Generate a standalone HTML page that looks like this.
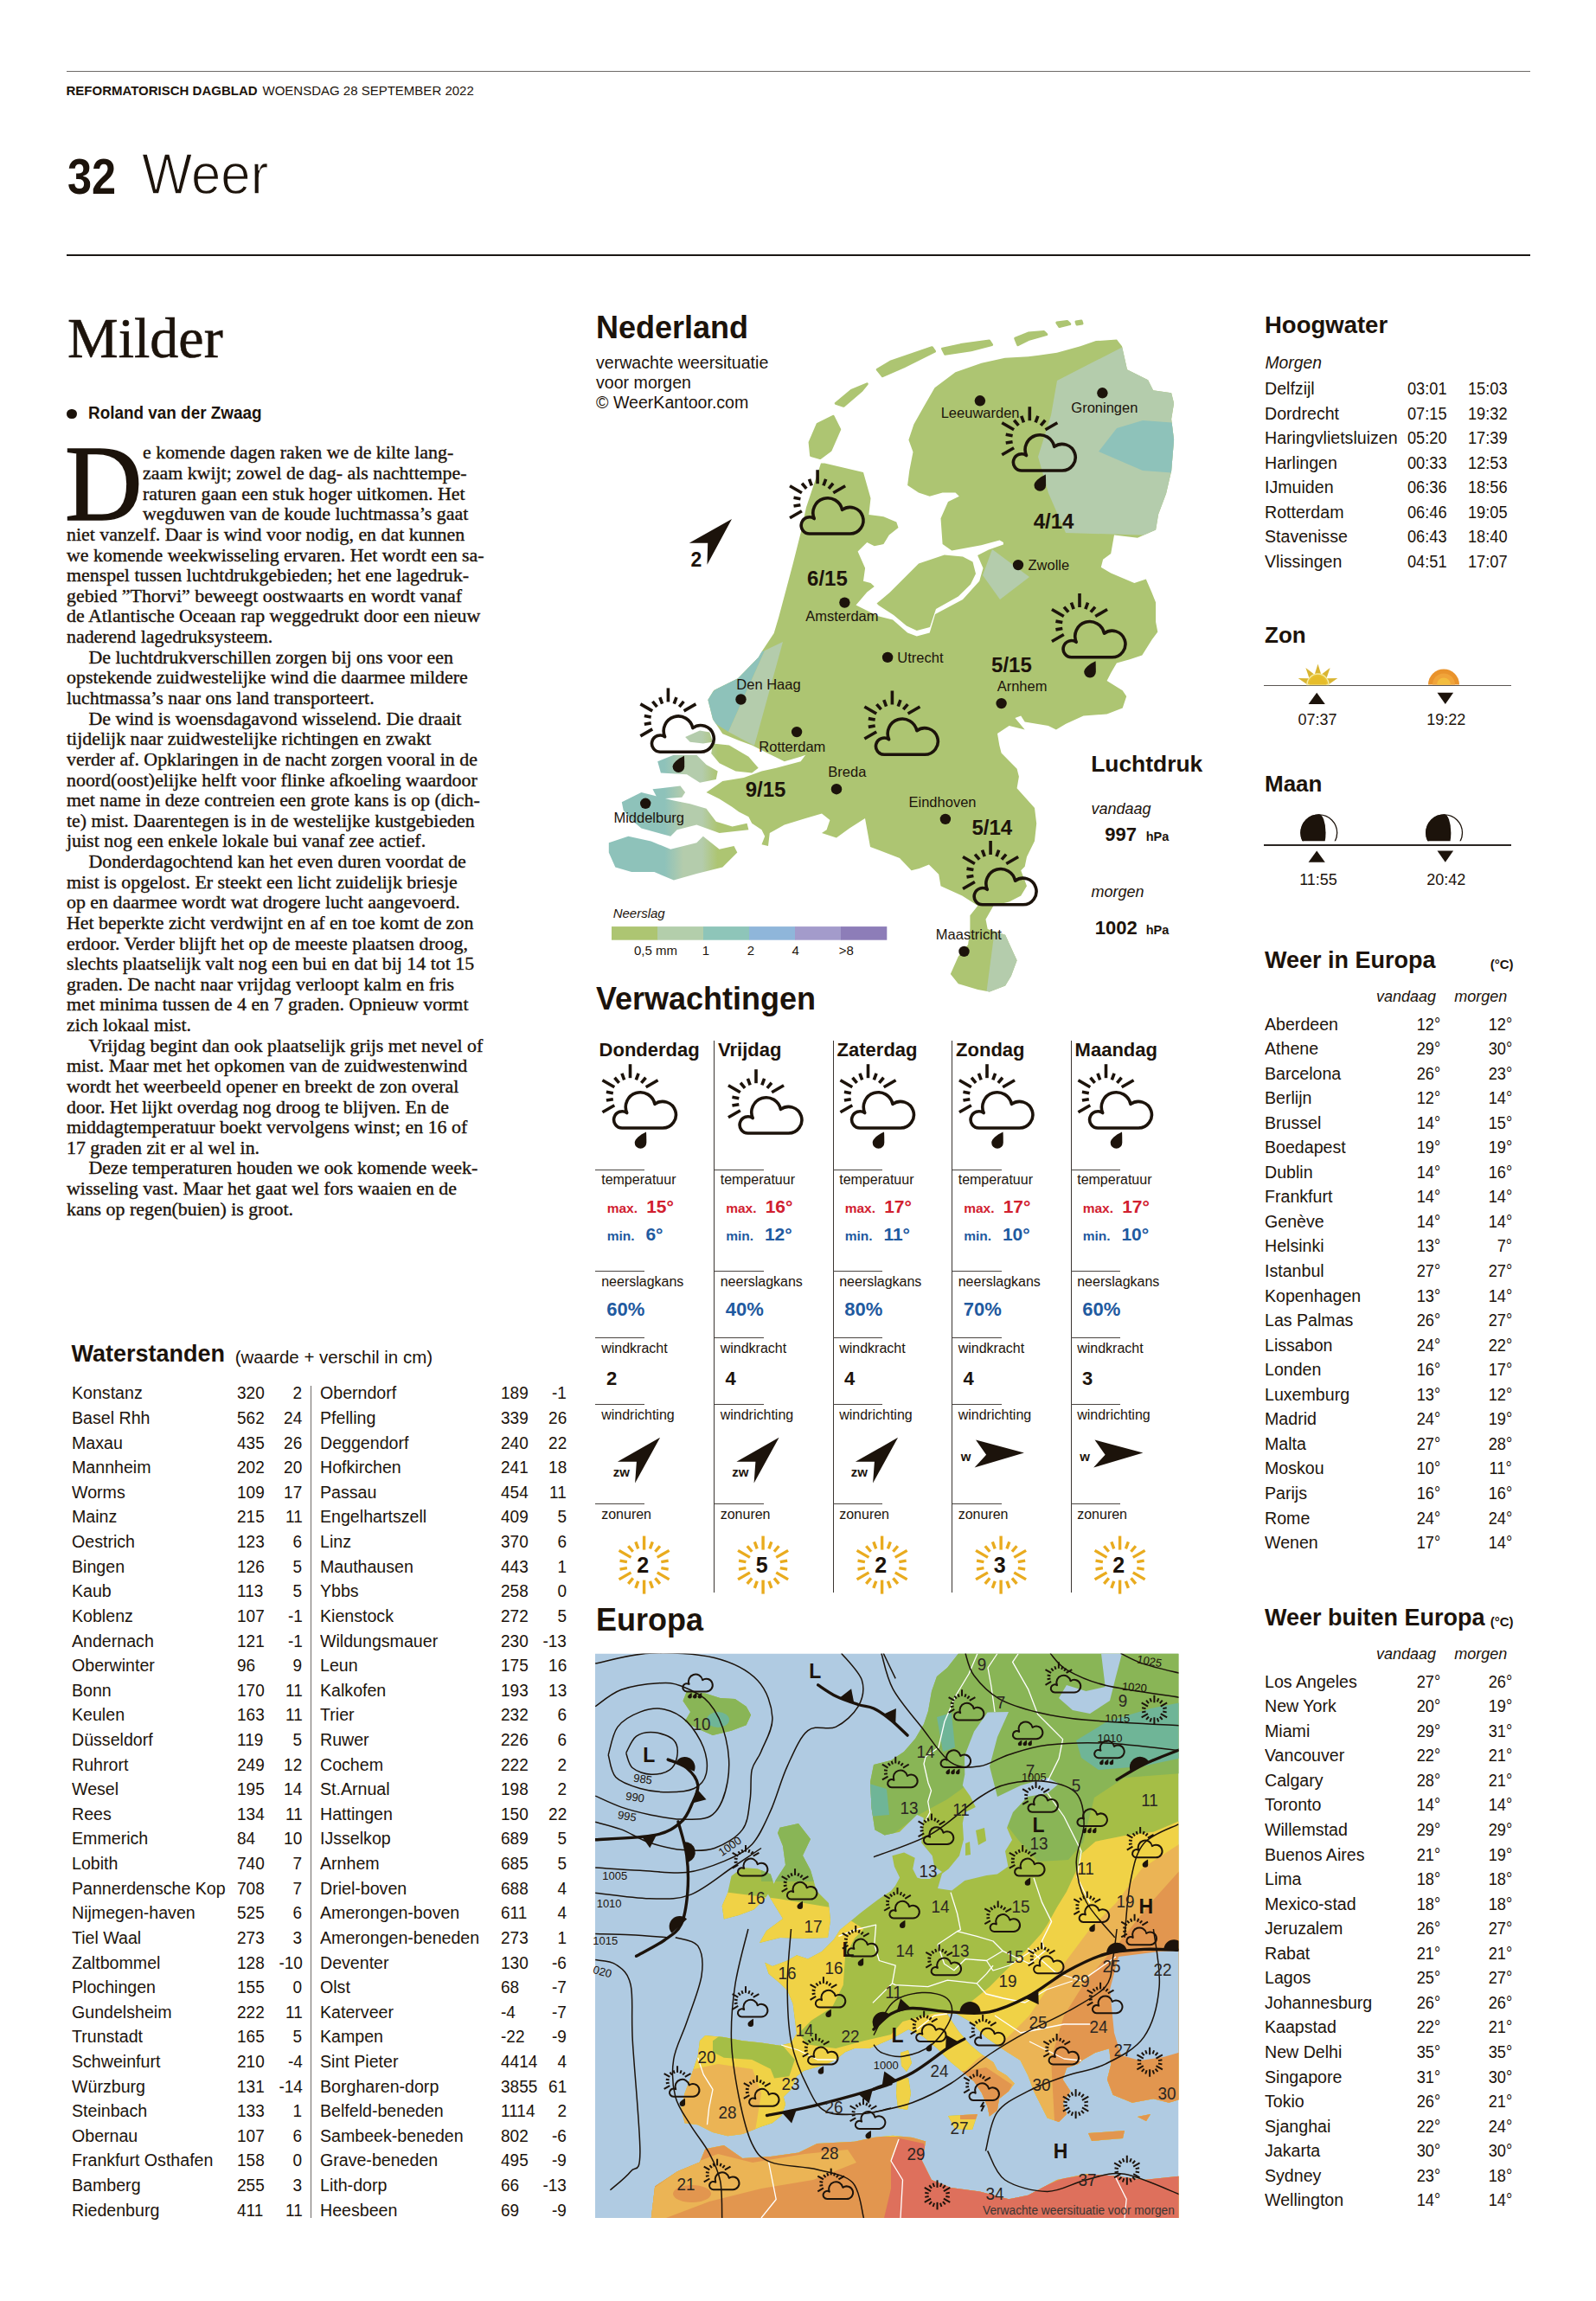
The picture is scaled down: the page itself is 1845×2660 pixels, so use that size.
<!DOCTYPE html>
<html><head><meta charset="utf-8"><title>Weer</title><style>
html,body{margin:0;padding:0;background:#fff;}
body{width:1845px;height:2660px;position:relative;overflow:hidden;font-family:"Liberation Sans", sans-serif;color:#1c130b;}
.t{position:absolute;white-space:nowrap;}
.r{position:absolute;}
svg{position:absolute;overflow:visible;}
</style></head><body>
<div class="r" style="left:76.50px;top:81.70px;width:1692.00px;height:1.30px;background:#6e6a67;"></div>
<div class="t" style="top:96.75px;font-size:15px;line-height:15px;font-weight:700;left:76.50px;">REFORMATORISCH DAGBLAD</div>
<div class="t" style="top:96.75px;font-size:15px;line-height:15px;left:303.50px;">WOENSDAG 28 SEPTEMBER 2022</div>
<div class="t" style="top:174.70px;font-size:58px;line-height:58px;font-weight:700;left:78.00px;transform:scaleX(0.87);transform-origin:left top;">32</div>
<div class="t" style="top:167.05px;font-size:67px;line-height:67px;left:164.00px;transform:scaleX(0.92);transform-origin:left top;-webkit-text-stroke:1.3px #fff;">Weer</div>
<div class="r" style="left:76.50px;top:293.80px;width:1692.00px;height:2.20px;background:#1a1714;"></div>
<div class="t" style="top:357.52px;font-size:66px;line-height:66px;font-family:'Liberation Serif', serif;left:78.00px;-webkit-text-stroke:0.6px #1c130b;">Milder</div>
<div class="r" style="left:77px;top:472.7px;width:11.7px;height:11.7px;border-radius:50%;background:#1c130b"></div>
<div class="t" style="top:466.45px;font-size:21px;line-height:21px;font-weight:700;left:102.40px;transform:scaleX(0.9);transform-origin:left top;">Roland van der Zwaag</div>
<div class="t" style="top:498.08px;font-size:124px;line-height:124px;font-family:'Liberation Serif', serif;left:75.00px;-webkit-text-stroke:1.6px #1c130b;">D</div>
<div class="t" style="top:512.42px;font-size:21.9px;line-height:21.9px;font-family:'Liberation Serif', serif;left:165.00px;-webkit-text-stroke:0.35px #1c130b;">e komende dagen raken we de kilte lang-</div>
<div class="t" style="top:536.05px;font-size:21.9px;line-height:21.9px;font-family:'Liberation Serif', serif;left:165.00px;-webkit-text-stroke:0.35px #1c130b;">zaam kwijt; zowel de dag- als nachttempe-</div>
<div class="t" style="top:559.68px;font-size:21.9px;line-height:21.9px;font-family:'Liberation Serif', serif;left:165.00px;-webkit-text-stroke:0.35px #1c130b;">raturen gaan een stuk hoger uitkomen. Het</div>
<div class="t" style="top:583.31px;font-size:21.9px;line-height:21.9px;font-family:'Liberation Serif', serif;left:165.00px;-webkit-text-stroke:0.35px #1c130b;">wegduwen van de koude luchtmassa’s gaat</div>
<div class="t" style="top:606.94px;font-size:21.9px;line-height:21.9px;font-family:'Liberation Serif', serif;left:77.00px;-webkit-text-stroke:0.35px #1c130b;">niet vanzelf. Daar is wind voor nodig, en dat kunnen</div>
<div class="t" style="top:630.57px;font-size:21.9px;line-height:21.9px;font-family:'Liberation Serif', serif;left:77.00px;-webkit-text-stroke:0.35px #1c130b;">we komende weekwisseling ervaren. Het wordt een sa-</div>
<div class="t" style="top:654.20px;font-size:21.9px;line-height:21.9px;font-family:'Liberation Serif', serif;left:77.00px;-webkit-text-stroke:0.35px #1c130b;">menspel tussen luchtdrukgebieden; het ene lagedruk-</div>
<div class="t" style="top:677.83px;font-size:21.9px;line-height:21.9px;font-family:'Liberation Serif', serif;left:77.00px;-webkit-text-stroke:0.35px #1c130b;">gebied ”Thorvi” beweegt oostwaarts en wordt vanaf</div>
<div class="t" style="top:701.46px;font-size:21.9px;line-height:21.9px;font-family:'Liberation Serif', serif;left:77.00px;-webkit-text-stroke:0.35px #1c130b;">de Atlantische Oceaan rap weggedrukt door een nieuw</div>
<div class="t" style="top:725.09px;font-size:21.9px;line-height:21.9px;font-family:'Liberation Serif', serif;left:77.00px;-webkit-text-stroke:0.35px #1c130b;">naderend lagedruksysteem.</div>
<div class="t" style="top:748.72px;font-size:21.9px;line-height:21.9px;font-family:'Liberation Serif', serif;left:102.40px;-webkit-text-stroke:0.35px #1c130b;">De luchtdrukverschillen zorgen bij ons voor een</div>
<div class="t" style="top:772.35px;font-size:21.9px;line-height:21.9px;font-family:'Liberation Serif', serif;left:77.00px;-webkit-text-stroke:0.35px #1c130b;">opstekende zuidwestelijke wind die daarmee mildere</div>
<div class="t" style="top:795.98px;font-size:21.9px;line-height:21.9px;font-family:'Liberation Serif', serif;left:77.00px;-webkit-text-stroke:0.35px #1c130b;">luchtmassa’s naar ons land transporteert.</div>
<div class="t" style="top:819.61px;font-size:21.9px;line-height:21.9px;font-family:'Liberation Serif', serif;left:102.40px;-webkit-text-stroke:0.35px #1c130b;">De wind is woensdagavond wisselend. Die draait</div>
<div class="t" style="top:843.24px;font-size:21.9px;line-height:21.9px;font-family:'Liberation Serif', serif;left:77.00px;-webkit-text-stroke:0.35px #1c130b;">tijdelijk naar zuidwestelijke richtingen en zwakt</div>
<div class="t" style="top:866.87px;font-size:21.9px;line-height:21.9px;font-family:'Liberation Serif', serif;left:77.00px;-webkit-text-stroke:0.35px #1c130b;">verder af. Opklaringen in de nacht zorgen vooral in de</div>
<div class="t" style="top:890.50px;font-size:21.9px;line-height:21.9px;font-family:'Liberation Serif', serif;left:77.00px;-webkit-text-stroke:0.35px #1c130b;">noord(oost)elijke helft voor flinke afkoeling waardoor</div>
<div class="t" style="top:914.13px;font-size:21.9px;line-height:21.9px;font-family:'Liberation Serif', serif;left:77.00px;-webkit-text-stroke:0.35px #1c130b;">met name in deze contreien een grote kans is op (dich-</div>
<div class="t" style="top:937.76px;font-size:21.9px;line-height:21.9px;font-family:'Liberation Serif', serif;left:77.00px;-webkit-text-stroke:0.35px #1c130b;">te) mist. Daarentegen is in de westelijke kustgebieden</div>
<div class="t" style="top:961.39px;font-size:21.9px;line-height:21.9px;font-family:'Liberation Serif', serif;left:77.00px;-webkit-text-stroke:0.35px #1c130b;">juist nog een enkele lokale bui vanaf zee actief.</div>
<div class="t" style="top:985.02px;font-size:21.9px;line-height:21.9px;font-family:'Liberation Serif', serif;left:102.40px;-webkit-text-stroke:0.35px #1c130b;">Donderdagochtend kan het even duren voordat de</div>
<div class="t" style="top:1008.65px;font-size:21.9px;line-height:21.9px;font-family:'Liberation Serif', serif;left:77.00px;-webkit-text-stroke:0.35px #1c130b;">mist is opgelost. Er steekt een licht zuidelijk briesje</div>
<div class="t" style="top:1032.28px;font-size:21.9px;line-height:21.9px;font-family:'Liberation Serif', serif;left:77.00px;-webkit-text-stroke:0.35px #1c130b;">op en daarmee wordt wat drogere lucht aangevoerd.</div>
<div class="t" style="top:1055.91px;font-size:21.9px;line-height:21.9px;font-family:'Liberation Serif', serif;left:77.00px;-webkit-text-stroke:0.35px #1c130b;">Het beperkte zicht verdwijnt en af en toe komt de zon</div>
<div class="t" style="top:1079.54px;font-size:21.9px;line-height:21.9px;font-family:'Liberation Serif', serif;left:77.00px;-webkit-text-stroke:0.35px #1c130b;">erdoor. Verder blijft het op de meeste plaatsen droog,</div>
<div class="t" style="top:1103.17px;font-size:21.9px;line-height:21.9px;font-family:'Liberation Serif', serif;left:77.00px;-webkit-text-stroke:0.35px #1c130b;">slechts plaatselijk valt nog een bui en dat bij 14 tot 15</div>
<div class="t" style="top:1126.80px;font-size:21.9px;line-height:21.9px;font-family:'Liberation Serif', serif;left:77.00px;-webkit-text-stroke:0.35px #1c130b;">graden. De nacht naar vrijdag verloopt kalm en fris</div>
<div class="t" style="top:1150.43px;font-size:21.9px;line-height:21.9px;font-family:'Liberation Serif', serif;left:77.00px;-webkit-text-stroke:0.35px #1c130b;">met minima tussen de 4 en 7 graden. Opnieuw vormt</div>
<div class="t" style="top:1174.06px;font-size:21.9px;line-height:21.9px;font-family:'Liberation Serif', serif;left:77.00px;-webkit-text-stroke:0.35px #1c130b;">zich lokaal mist.</div>
<div class="t" style="top:1197.69px;font-size:21.9px;line-height:21.9px;font-family:'Liberation Serif', serif;left:102.40px;-webkit-text-stroke:0.35px #1c130b;">Vrijdag begint dan ook plaatselijk grijs met nevel of</div>
<div class="t" style="top:1221.32px;font-size:21.9px;line-height:21.9px;font-family:'Liberation Serif', serif;left:77.00px;-webkit-text-stroke:0.35px #1c130b;">mist. Maar met het opkomen van de zuidwestenwind</div>
<div class="t" style="top:1244.95px;font-size:21.9px;line-height:21.9px;font-family:'Liberation Serif', serif;left:77.00px;-webkit-text-stroke:0.35px #1c130b;">wordt het weerbeeld opener en breekt de zon overal</div>
<div class="t" style="top:1268.58px;font-size:21.9px;line-height:21.9px;font-family:'Liberation Serif', serif;left:77.00px;-webkit-text-stroke:0.35px #1c130b;">door. Het lijkt overdag nog droog te blijven. En de</div>
<div class="t" style="top:1292.21px;font-size:21.9px;line-height:21.9px;font-family:'Liberation Serif', serif;left:77.00px;-webkit-text-stroke:0.35px #1c130b;">middagtemperatuur boekt vervolgens winst; en 16 of</div>
<div class="t" style="top:1315.84px;font-size:21.9px;line-height:21.9px;font-family:'Liberation Serif', serif;left:77.00px;-webkit-text-stroke:0.35px #1c130b;">17 graden zit er al wel in.</div>
<div class="t" style="top:1339.47px;font-size:21.9px;line-height:21.9px;font-family:'Liberation Serif', serif;left:102.40px;-webkit-text-stroke:0.35px #1c130b;">Deze temperaturen houden we ook komende week-</div>
<div class="t" style="top:1363.10px;font-size:21.9px;line-height:21.9px;font-family:'Liberation Serif', serif;left:77.00px;-webkit-text-stroke:0.35px #1c130b;">wisseling vast. Maar het gaat wel fors waaien en de</div>
<div class="t" style="top:1386.73px;font-size:21.9px;line-height:21.9px;font-family:'Liberation Serif', serif;left:77.00px;-webkit-text-stroke:0.35px #1c130b;">kans op regen(buien) is groot.</div>
<div class="t" style="top:1551.75px;font-size:27px;line-height:27px;font-weight:700;left:82.50px;">Waterstanden</div>
<div class="t" style="top:1558.58px;font-size:20.5px;line-height:20.5px;left:271.70px;">(waarde + verschil in cm)</div>
<div class="t" style="top:1600.40px;font-size:20px;line-height:20px;left:82.50px;transform:scaleX(0.98);transform-origin:left top;">Konstanz</div>
<div class="t" style="top:1600.40px;font-size:20px;line-height:20px;left:273.70px;transform:scaleX(0.95);transform-origin:left top;">320</div>
<div class="t" style="top:1600.40px;font-size:20px;line-height:20px;right:1495.60px;transform:scaleX(0.95);transform-origin:right top;">2</div>
<div class="t" style="top:1629.02px;font-size:20px;line-height:20px;left:82.50px;transform:scaleX(0.98);transform-origin:left top;">Basel Rhh</div>
<div class="t" style="top:1629.02px;font-size:20px;line-height:20px;left:273.70px;transform:scaleX(0.95);transform-origin:left top;">562</div>
<div class="t" style="top:1629.02px;font-size:20px;line-height:20px;right:1495.60px;transform:scaleX(0.95);transform-origin:right top;">24</div>
<div class="t" style="top:1657.63px;font-size:20px;line-height:20px;left:82.50px;transform:scaleX(0.98);transform-origin:left top;">Maxau</div>
<div class="t" style="top:1657.63px;font-size:20px;line-height:20px;left:273.70px;transform:scaleX(0.95);transform-origin:left top;">435</div>
<div class="t" style="top:1657.63px;font-size:20px;line-height:20px;right:1495.60px;transform:scaleX(0.95);transform-origin:right top;">26</div>
<div class="t" style="top:1686.25px;font-size:20px;line-height:20px;left:82.50px;transform:scaleX(0.98);transform-origin:left top;">Mannheim</div>
<div class="t" style="top:1686.25px;font-size:20px;line-height:20px;left:273.70px;transform:scaleX(0.95);transform-origin:left top;">202</div>
<div class="t" style="top:1686.25px;font-size:20px;line-height:20px;right:1495.60px;transform:scaleX(0.95);transform-origin:right top;">20</div>
<div class="t" style="top:1714.86px;font-size:20px;line-height:20px;left:82.50px;transform:scaleX(0.98);transform-origin:left top;">Worms</div>
<div class="t" style="top:1714.86px;font-size:20px;line-height:20px;left:273.70px;transform:scaleX(0.95);transform-origin:left top;">109</div>
<div class="t" style="top:1714.86px;font-size:20px;line-height:20px;right:1495.60px;transform:scaleX(0.95);transform-origin:right top;">17</div>
<div class="t" style="top:1743.48px;font-size:20px;line-height:20px;left:82.50px;transform:scaleX(0.98);transform-origin:left top;">Mainz</div>
<div class="t" style="top:1743.48px;font-size:20px;line-height:20px;left:273.70px;transform:scaleX(0.95);transform-origin:left top;">215</div>
<div class="t" style="top:1743.48px;font-size:20px;line-height:20px;right:1495.60px;transform:scaleX(0.95);transform-origin:right top;">11</div>
<div class="t" style="top:1772.09px;font-size:20px;line-height:20px;left:82.50px;transform:scaleX(0.98);transform-origin:left top;">Oestrich</div>
<div class="t" style="top:1772.09px;font-size:20px;line-height:20px;left:273.70px;transform:scaleX(0.95);transform-origin:left top;">123</div>
<div class="t" style="top:1772.09px;font-size:20px;line-height:20px;right:1495.60px;transform:scaleX(0.95);transform-origin:right top;">6</div>
<div class="t" style="top:1800.71px;font-size:20px;line-height:20px;left:82.50px;transform:scaleX(0.98);transform-origin:left top;">Bingen</div>
<div class="t" style="top:1800.71px;font-size:20px;line-height:20px;left:273.70px;transform:scaleX(0.95);transform-origin:left top;">126</div>
<div class="t" style="top:1800.71px;font-size:20px;line-height:20px;right:1495.60px;transform:scaleX(0.95);transform-origin:right top;">5</div>
<div class="t" style="top:1829.32px;font-size:20px;line-height:20px;left:82.50px;transform:scaleX(0.98);transform-origin:left top;">Kaub</div>
<div class="t" style="top:1829.32px;font-size:20px;line-height:20px;left:273.70px;transform:scaleX(0.95);transform-origin:left top;">113</div>
<div class="t" style="top:1829.32px;font-size:20px;line-height:20px;right:1495.60px;transform:scaleX(0.95);transform-origin:right top;">5</div>
<div class="t" style="top:1857.93px;font-size:20px;line-height:20px;left:82.50px;transform:scaleX(0.98);transform-origin:left top;">Koblenz</div>
<div class="t" style="top:1857.93px;font-size:20px;line-height:20px;left:273.70px;transform:scaleX(0.95);transform-origin:left top;">107</div>
<div class="t" style="top:1857.93px;font-size:20px;line-height:20px;right:1495.60px;transform:scaleX(0.95);transform-origin:right top;">-1</div>
<div class="t" style="top:1886.55px;font-size:20px;line-height:20px;left:82.50px;transform:scaleX(0.98);transform-origin:left top;">Andernach</div>
<div class="t" style="top:1886.55px;font-size:20px;line-height:20px;left:273.70px;transform:scaleX(0.95);transform-origin:left top;">121</div>
<div class="t" style="top:1886.55px;font-size:20px;line-height:20px;right:1495.60px;transform:scaleX(0.95);transform-origin:right top;">-1</div>
<div class="t" style="top:1915.16px;font-size:20px;line-height:20px;left:82.50px;transform:scaleX(0.98);transform-origin:left top;">Oberwinter</div>
<div class="t" style="top:1915.16px;font-size:20px;line-height:20px;left:273.70px;transform:scaleX(0.95);transform-origin:left top;">96</div>
<div class="t" style="top:1915.16px;font-size:20px;line-height:20px;right:1495.60px;transform:scaleX(0.95);transform-origin:right top;">9</div>
<div class="t" style="top:1943.78px;font-size:20px;line-height:20px;left:82.50px;transform:scaleX(0.98);transform-origin:left top;">Bonn</div>
<div class="t" style="top:1943.78px;font-size:20px;line-height:20px;left:273.70px;transform:scaleX(0.95);transform-origin:left top;">170</div>
<div class="t" style="top:1943.78px;font-size:20px;line-height:20px;right:1495.60px;transform:scaleX(0.95);transform-origin:right top;">11</div>
<div class="t" style="top:1972.39px;font-size:20px;line-height:20px;left:82.50px;transform:scaleX(0.98);transform-origin:left top;">Keulen</div>
<div class="t" style="top:1972.39px;font-size:20px;line-height:20px;left:273.70px;transform:scaleX(0.95);transform-origin:left top;">163</div>
<div class="t" style="top:1972.39px;font-size:20px;line-height:20px;right:1495.60px;transform:scaleX(0.95);transform-origin:right top;">11</div>
<div class="t" style="top:2001.01px;font-size:20px;line-height:20px;left:82.50px;transform:scaleX(0.98);transform-origin:left top;">Düsseldorf</div>
<div class="t" style="top:2001.01px;font-size:20px;line-height:20px;left:273.70px;transform:scaleX(0.95);transform-origin:left top;">119</div>
<div class="t" style="top:2001.01px;font-size:20px;line-height:20px;right:1495.60px;transform:scaleX(0.95);transform-origin:right top;">5</div>
<div class="t" style="top:2029.62px;font-size:20px;line-height:20px;left:82.50px;transform:scaleX(0.98);transform-origin:left top;">Ruhrort</div>
<div class="t" style="top:2029.62px;font-size:20px;line-height:20px;left:273.70px;transform:scaleX(0.95);transform-origin:left top;">249</div>
<div class="t" style="top:2029.62px;font-size:20px;line-height:20px;right:1495.60px;transform:scaleX(0.95);transform-origin:right top;">12</div>
<div class="t" style="top:2058.24px;font-size:20px;line-height:20px;left:82.50px;transform:scaleX(0.98);transform-origin:left top;">Wesel</div>
<div class="t" style="top:2058.24px;font-size:20px;line-height:20px;left:273.70px;transform:scaleX(0.95);transform-origin:left top;">195</div>
<div class="t" style="top:2058.24px;font-size:20px;line-height:20px;right:1495.60px;transform:scaleX(0.95);transform-origin:right top;">14</div>
<div class="t" style="top:2086.86px;font-size:20px;line-height:20px;left:82.50px;transform:scaleX(0.98);transform-origin:left top;">Rees</div>
<div class="t" style="top:2086.86px;font-size:20px;line-height:20px;left:273.70px;transform:scaleX(0.95);transform-origin:left top;">134</div>
<div class="t" style="top:2086.86px;font-size:20px;line-height:20px;right:1495.60px;transform:scaleX(0.95);transform-origin:right top;">11</div>
<div class="t" style="top:2115.47px;font-size:20px;line-height:20px;left:82.50px;transform:scaleX(0.98);transform-origin:left top;">Emmerich</div>
<div class="t" style="top:2115.47px;font-size:20px;line-height:20px;left:273.70px;transform:scaleX(0.95);transform-origin:left top;">84</div>
<div class="t" style="top:2115.47px;font-size:20px;line-height:20px;right:1495.60px;transform:scaleX(0.95);transform-origin:right top;">10</div>
<div class="t" style="top:2144.09px;font-size:20px;line-height:20px;left:82.50px;transform:scaleX(0.98);transform-origin:left top;">Lobith</div>
<div class="t" style="top:2144.09px;font-size:20px;line-height:20px;left:273.70px;transform:scaleX(0.95);transform-origin:left top;">740</div>
<div class="t" style="top:2144.09px;font-size:20px;line-height:20px;right:1495.60px;transform:scaleX(0.95);transform-origin:right top;">7</div>
<div class="t" style="top:2172.70px;font-size:20px;line-height:20px;left:82.50px;transform:scaleX(0.98);transform-origin:left top;">Pannerdensche Kop</div>
<div class="t" style="top:2172.70px;font-size:20px;line-height:20px;left:273.70px;transform:scaleX(0.95);transform-origin:left top;">708</div>
<div class="t" style="top:2172.70px;font-size:20px;line-height:20px;right:1495.60px;transform:scaleX(0.95);transform-origin:right top;">7</div>
<div class="t" style="top:2201.32px;font-size:20px;line-height:20px;left:82.50px;transform:scaleX(0.98);transform-origin:left top;">Nijmegen-haven</div>
<div class="t" style="top:2201.32px;font-size:20px;line-height:20px;left:273.70px;transform:scaleX(0.95);transform-origin:left top;">525</div>
<div class="t" style="top:2201.32px;font-size:20px;line-height:20px;right:1495.60px;transform:scaleX(0.95);transform-origin:right top;">6</div>
<div class="t" style="top:2229.93px;font-size:20px;line-height:20px;left:82.50px;transform:scaleX(0.98);transform-origin:left top;">Tiel Waal</div>
<div class="t" style="top:2229.93px;font-size:20px;line-height:20px;left:273.70px;transform:scaleX(0.95);transform-origin:left top;">273</div>
<div class="t" style="top:2229.93px;font-size:20px;line-height:20px;right:1495.60px;transform:scaleX(0.95);transform-origin:right top;">3</div>
<div class="t" style="top:2258.55px;font-size:20px;line-height:20px;left:82.50px;transform:scaleX(0.98);transform-origin:left top;">Zaltbommel</div>
<div class="t" style="top:2258.55px;font-size:20px;line-height:20px;left:273.70px;transform:scaleX(0.95);transform-origin:left top;">128</div>
<div class="t" style="top:2258.55px;font-size:20px;line-height:20px;right:1495.60px;transform:scaleX(0.95);transform-origin:right top;">-10</div>
<div class="t" style="top:2287.16px;font-size:20px;line-height:20px;left:82.50px;transform:scaleX(0.98);transform-origin:left top;">Plochingen</div>
<div class="t" style="top:2287.16px;font-size:20px;line-height:20px;left:273.70px;transform:scaleX(0.95);transform-origin:left top;">155</div>
<div class="t" style="top:2287.16px;font-size:20px;line-height:20px;right:1495.60px;transform:scaleX(0.95);transform-origin:right top;">0</div>
<div class="t" style="top:2315.78px;font-size:20px;line-height:20px;left:82.50px;transform:scaleX(0.98);transform-origin:left top;">Gundelsheim</div>
<div class="t" style="top:2315.78px;font-size:20px;line-height:20px;left:273.70px;transform:scaleX(0.95);transform-origin:left top;">222</div>
<div class="t" style="top:2315.78px;font-size:20px;line-height:20px;right:1495.60px;transform:scaleX(0.95);transform-origin:right top;">11</div>
<div class="t" style="top:2344.39px;font-size:20px;line-height:20px;left:82.50px;transform:scaleX(0.98);transform-origin:left top;">Trunstadt</div>
<div class="t" style="top:2344.39px;font-size:20px;line-height:20px;left:273.70px;transform:scaleX(0.95);transform-origin:left top;">165</div>
<div class="t" style="top:2344.39px;font-size:20px;line-height:20px;right:1495.60px;transform:scaleX(0.95);transform-origin:right top;">5</div>
<div class="t" style="top:2373.01px;font-size:20px;line-height:20px;left:82.50px;transform:scaleX(0.98);transform-origin:left top;">Schweinfurt</div>
<div class="t" style="top:2373.01px;font-size:20px;line-height:20px;left:273.70px;transform:scaleX(0.95);transform-origin:left top;">210</div>
<div class="t" style="top:2373.01px;font-size:20px;line-height:20px;right:1495.60px;transform:scaleX(0.95);transform-origin:right top;">-4</div>
<div class="t" style="top:2401.62px;font-size:20px;line-height:20px;left:82.50px;transform:scaleX(0.98);transform-origin:left top;">Würzburg</div>
<div class="t" style="top:2401.62px;font-size:20px;line-height:20px;left:273.70px;transform:scaleX(0.95);transform-origin:left top;">131</div>
<div class="t" style="top:2401.62px;font-size:20px;line-height:20px;right:1495.60px;transform:scaleX(0.95);transform-origin:right top;">-14</div>
<div class="t" style="top:2430.24px;font-size:20px;line-height:20px;left:82.50px;transform:scaleX(0.98);transform-origin:left top;">Steinbach</div>
<div class="t" style="top:2430.24px;font-size:20px;line-height:20px;left:273.70px;transform:scaleX(0.95);transform-origin:left top;">133</div>
<div class="t" style="top:2430.24px;font-size:20px;line-height:20px;right:1495.60px;transform:scaleX(0.95);transform-origin:right top;">1</div>
<div class="t" style="top:2458.85px;font-size:20px;line-height:20px;left:82.50px;transform:scaleX(0.98);transform-origin:left top;">Obernau</div>
<div class="t" style="top:2458.85px;font-size:20px;line-height:20px;left:273.70px;transform:scaleX(0.95);transform-origin:left top;">107</div>
<div class="t" style="top:2458.85px;font-size:20px;line-height:20px;right:1495.60px;transform:scaleX(0.95);transform-origin:right top;">6</div>
<div class="t" style="top:2487.47px;font-size:20px;line-height:20px;left:82.50px;transform:scaleX(0.98);transform-origin:left top;">Frankfurt Osthafen</div>
<div class="t" style="top:2487.47px;font-size:20px;line-height:20px;left:273.70px;transform:scaleX(0.95);transform-origin:left top;">158</div>
<div class="t" style="top:2487.47px;font-size:20px;line-height:20px;right:1495.60px;transform:scaleX(0.95);transform-origin:right top;">0</div>
<div class="t" style="top:2516.08px;font-size:20px;line-height:20px;left:82.50px;transform:scaleX(0.98);transform-origin:left top;">Bamberg</div>
<div class="t" style="top:2516.08px;font-size:20px;line-height:20px;left:273.70px;transform:scaleX(0.95);transform-origin:left top;">255</div>
<div class="t" style="top:2516.08px;font-size:20px;line-height:20px;right:1495.60px;transform:scaleX(0.95);transform-origin:right top;">3</div>
<div class="t" style="top:2544.70px;font-size:20px;line-height:20px;left:82.50px;transform:scaleX(0.98);transform-origin:left top;">Riedenburg</div>
<div class="t" style="top:2544.70px;font-size:20px;line-height:20px;left:273.70px;transform:scaleX(0.95);transform-origin:left top;">411</div>
<div class="t" style="top:2544.70px;font-size:20px;line-height:20px;right:1495.60px;transform:scaleX(0.95);transform-origin:right top;">11</div>
<div class="t" style="top:1600.40px;font-size:20px;line-height:20px;left:369.60px;transform:scaleX(0.98);transform-origin:left top;">Oberndorf</div>
<div class="t" style="top:1600.40px;font-size:20px;line-height:20px;left:578.60px;transform:scaleX(0.95);transform-origin:left top;">189</div>
<div class="t" style="top:1600.40px;font-size:20px;line-height:20px;right:1190.00px;transform:scaleX(0.95);transform-origin:right top;">-1</div>
<div class="t" style="top:1629.02px;font-size:20px;line-height:20px;left:369.60px;transform:scaleX(0.98);transform-origin:left top;">Pfelling</div>
<div class="t" style="top:1629.02px;font-size:20px;line-height:20px;left:578.60px;transform:scaleX(0.95);transform-origin:left top;">339</div>
<div class="t" style="top:1629.02px;font-size:20px;line-height:20px;right:1190.00px;transform:scaleX(0.95);transform-origin:right top;">26</div>
<div class="t" style="top:1657.63px;font-size:20px;line-height:20px;left:369.60px;transform:scaleX(0.98);transform-origin:left top;">Deggendorf</div>
<div class="t" style="top:1657.63px;font-size:20px;line-height:20px;left:578.60px;transform:scaleX(0.95);transform-origin:left top;">240</div>
<div class="t" style="top:1657.63px;font-size:20px;line-height:20px;right:1190.00px;transform:scaleX(0.95);transform-origin:right top;">22</div>
<div class="t" style="top:1686.25px;font-size:20px;line-height:20px;left:369.60px;transform:scaleX(0.98);transform-origin:left top;">Hofkirchen</div>
<div class="t" style="top:1686.25px;font-size:20px;line-height:20px;left:578.60px;transform:scaleX(0.95);transform-origin:left top;">241</div>
<div class="t" style="top:1686.25px;font-size:20px;line-height:20px;right:1190.00px;transform:scaleX(0.95);transform-origin:right top;">18</div>
<div class="t" style="top:1714.86px;font-size:20px;line-height:20px;left:369.60px;transform:scaleX(0.98);transform-origin:left top;">Passau</div>
<div class="t" style="top:1714.86px;font-size:20px;line-height:20px;left:578.60px;transform:scaleX(0.95);transform-origin:left top;">454</div>
<div class="t" style="top:1714.86px;font-size:20px;line-height:20px;right:1190.00px;transform:scaleX(0.95);transform-origin:right top;">11</div>
<div class="t" style="top:1743.48px;font-size:20px;line-height:20px;left:369.60px;transform:scaleX(0.98);transform-origin:left top;">Engelhartszell</div>
<div class="t" style="top:1743.48px;font-size:20px;line-height:20px;left:578.60px;transform:scaleX(0.95);transform-origin:left top;">409</div>
<div class="t" style="top:1743.48px;font-size:20px;line-height:20px;right:1190.00px;transform:scaleX(0.95);transform-origin:right top;">5</div>
<div class="t" style="top:1772.09px;font-size:20px;line-height:20px;left:369.60px;transform:scaleX(0.98);transform-origin:left top;">Linz</div>
<div class="t" style="top:1772.09px;font-size:20px;line-height:20px;left:578.60px;transform:scaleX(0.95);transform-origin:left top;">370</div>
<div class="t" style="top:1772.09px;font-size:20px;line-height:20px;right:1190.00px;transform:scaleX(0.95);transform-origin:right top;">6</div>
<div class="t" style="top:1800.71px;font-size:20px;line-height:20px;left:369.60px;transform:scaleX(0.98);transform-origin:left top;">Mauthausen</div>
<div class="t" style="top:1800.71px;font-size:20px;line-height:20px;left:578.60px;transform:scaleX(0.95);transform-origin:left top;">443</div>
<div class="t" style="top:1800.71px;font-size:20px;line-height:20px;right:1190.00px;transform:scaleX(0.95);transform-origin:right top;">1</div>
<div class="t" style="top:1829.32px;font-size:20px;line-height:20px;left:369.60px;transform:scaleX(0.98);transform-origin:left top;">Ybbs</div>
<div class="t" style="top:1829.32px;font-size:20px;line-height:20px;left:578.60px;transform:scaleX(0.95);transform-origin:left top;">258</div>
<div class="t" style="top:1829.32px;font-size:20px;line-height:20px;right:1190.00px;transform:scaleX(0.95);transform-origin:right top;">0</div>
<div class="t" style="top:1857.93px;font-size:20px;line-height:20px;left:369.60px;transform:scaleX(0.98);transform-origin:left top;">Kienstock</div>
<div class="t" style="top:1857.93px;font-size:20px;line-height:20px;left:578.60px;transform:scaleX(0.95);transform-origin:left top;">272</div>
<div class="t" style="top:1857.93px;font-size:20px;line-height:20px;right:1190.00px;transform:scaleX(0.95);transform-origin:right top;">5</div>
<div class="t" style="top:1886.55px;font-size:20px;line-height:20px;left:369.60px;transform:scaleX(0.98);transform-origin:left top;">Wildungsmauer</div>
<div class="t" style="top:1886.55px;font-size:20px;line-height:20px;left:578.60px;transform:scaleX(0.95);transform-origin:left top;">230</div>
<div class="t" style="top:1886.55px;font-size:20px;line-height:20px;right:1190.00px;transform:scaleX(0.95);transform-origin:right top;">-13</div>
<div class="t" style="top:1915.16px;font-size:20px;line-height:20px;left:369.60px;transform:scaleX(0.98);transform-origin:left top;">Leun</div>
<div class="t" style="top:1915.16px;font-size:20px;line-height:20px;left:578.60px;transform:scaleX(0.95);transform-origin:left top;">175</div>
<div class="t" style="top:1915.16px;font-size:20px;line-height:20px;right:1190.00px;transform:scaleX(0.95);transform-origin:right top;">16</div>
<div class="t" style="top:1943.78px;font-size:20px;line-height:20px;left:369.60px;transform:scaleX(0.98);transform-origin:left top;">Kalkofen</div>
<div class="t" style="top:1943.78px;font-size:20px;line-height:20px;left:578.60px;transform:scaleX(0.95);transform-origin:left top;">193</div>
<div class="t" style="top:1943.78px;font-size:20px;line-height:20px;right:1190.00px;transform:scaleX(0.95);transform-origin:right top;">13</div>
<div class="t" style="top:1972.39px;font-size:20px;line-height:20px;left:369.60px;transform:scaleX(0.98);transform-origin:left top;">Trier</div>
<div class="t" style="top:1972.39px;font-size:20px;line-height:20px;left:578.60px;transform:scaleX(0.95);transform-origin:left top;">232</div>
<div class="t" style="top:1972.39px;font-size:20px;line-height:20px;right:1190.00px;transform:scaleX(0.95);transform-origin:right top;">6</div>
<div class="t" style="top:2001.01px;font-size:20px;line-height:20px;left:369.60px;transform:scaleX(0.98);transform-origin:left top;">Ruwer</div>
<div class="t" style="top:2001.01px;font-size:20px;line-height:20px;left:578.60px;transform:scaleX(0.95);transform-origin:left top;">226</div>
<div class="t" style="top:2001.01px;font-size:20px;line-height:20px;right:1190.00px;transform:scaleX(0.95);transform-origin:right top;">6</div>
<div class="t" style="top:2029.62px;font-size:20px;line-height:20px;left:369.60px;transform:scaleX(0.98);transform-origin:left top;">Cochem</div>
<div class="t" style="top:2029.62px;font-size:20px;line-height:20px;left:578.60px;transform:scaleX(0.95);transform-origin:left top;">222</div>
<div class="t" style="top:2029.62px;font-size:20px;line-height:20px;right:1190.00px;transform:scaleX(0.95);transform-origin:right top;">2</div>
<div class="t" style="top:2058.24px;font-size:20px;line-height:20px;left:369.60px;transform:scaleX(0.98);transform-origin:left top;">St.Arnual</div>
<div class="t" style="top:2058.24px;font-size:20px;line-height:20px;left:578.60px;transform:scaleX(0.95);transform-origin:left top;">198</div>
<div class="t" style="top:2058.24px;font-size:20px;line-height:20px;right:1190.00px;transform:scaleX(0.95);transform-origin:right top;">2</div>
<div class="t" style="top:2086.86px;font-size:20px;line-height:20px;left:369.60px;transform:scaleX(0.98);transform-origin:left top;">Hattingen</div>
<div class="t" style="top:2086.86px;font-size:20px;line-height:20px;left:578.60px;transform:scaleX(0.95);transform-origin:left top;">150</div>
<div class="t" style="top:2086.86px;font-size:20px;line-height:20px;right:1190.00px;transform:scaleX(0.95);transform-origin:right top;">22</div>
<div class="t" style="top:2115.47px;font-size:20px;line-height:20px;left:369.60px;transform:scaleX(0.98);transform-origin:left top;">IJsselkop</div>
<div class="t" style="top:2115.47px;font-size:20px;line-height:20px;left:578.60px;transform:scaleX(0.95);transform-origin:left top;">689</div>
<div class="t" style="top:2115.47px;font-size:20px;line-height:20px;right:1190.00px;transform:scaleX(0.95);transform-origin:right top;">5</div>
<div class="t" style="top:2144.09px;font-size:20px;line-height:20px;left:369.60px;transform:scaleX(0.98);transform-origin:left top;">Arnhem</div>
<div class="t" style="top:2144.09px;font-size:20px;line-height:20px;left:578.60px;transform:scaleX(0.95);transform-origin:left top;">685</div>
<div class="t" style="top:2144.09px;font-size:20px;line-height:20px;right:1190.00px;transform:scaleX(0.95);transform-origin:right top;">5</div>
<div class="t" style="top:2172.70px;font-size:20px;line-height:20px;left:369.60px;transform:scaleX(0.98);transform-origin:left top;">Driel-boven</div>
<div class="t" style="top:2172.70px;font-size:20px;line-height:20px;left:578.60px;transform:scaleX(0.95);transform-origin:left top;">688</div>
<div class="t" style="top:2172.70px;font-size:20px;line-height:20px;right:1190.00px;transform:scaleX(0.95);transform-origin:right top;">4</div>
<div class="t" style="top:2201.32px;font-size:20px;line-height:20px;left:369.60px;transform:scaleX(0.98);transform-origin:left top;">Amerongen-boven</div>
<div class="t" style="top:2201.32px;font-size:20px;line-height:20px;left:578.60px;transform:scaleX(0.95);transform-origin:left top;">611</div>
<div class="t" style="top:2201.32px;font-size:20px;line-height:20px;right:1190.00px;transform:scaleX(0.95);transform-origin:right top;">4</div>
<div class="t" style="top:2229.93px;font-size:20px;line-height:20px;left:369.60px;transform:scaleX(0.98);transform-origin:left top;">Amerongen-beneden</div>
<div class="t" style="top:2229.93px;font-size:20px;line-height:20px;left:578.60px;transform:scaleX(0.95);transform-origin:left top;">273</div>
<div class="t" style="top:2229.93px;font-size:20px;line-height:20px;right:1190.00px;transform:scaleX(0.95);transform-origin:right top;">1</div>
<div class="t" style="top:2258.55px;font-size:20px;line-height:20px;left:369.60px;transform:scaleX(0.98);transform-origin:left top;">Deventer</div>
<div class="t" style="top:2258.55px;font-size:20px;line-height:20px;left:578.60px;transform:scaleX(0.95);transform-origin:left top;">130</div>
<div class="t" style="top:2258.55px;font-size:20px;line-height:20px;right:1190.00px;transform:scaleX(0.95);transform-origin:right top;">-6</div>
<div class="t" style="top:2287.16px;font-size:20px;line-height:20px;left:369.60px;transform:scaleX(0.98);transform-origin:left top;">Olst</div>
<div class="t" style="top:2287.16px;font-size:20px;line-height:20px;left:578.60px;transform:scaleX(0.95);transform-origin:left top;">68</div>
<div class="t" style="top:2287.16px;font-size:20px;line-height:20px;right:1190.00px;transform:scaleX(0.95);transform-origin:right top;">-7</div>
<div class="t" style="top:2315.78px;font-size:20px;line-height:20px;left:369.60px;transform:scaleX(0.98);transform-origin:left top;">Katerveer</div>
<div class="t" style="top:2315.78px;font-size:20px;line-height:20px;left:578.60px;transform:scaleX(0.95);transform-origin:left top;">-4</div>
<div class="t" style="top:2315.78px;font-size:20px;line-height:20px;right:1190.00px;transform:scaleX(0.95);transform-origin:right top;">-7</div>
<div class="t" style="top:2344.39px;font-size:20px;line-height:20px;left:369.60px;transform:scaleX(0.98);transform-origin:left top;">Kampen</div>
<div class="t" style="top:2344.39px;font-size:20px;line-height:20px;left:578.60px;transform:scaleX(0.95);transform-origin:left top;">-22</div>
<div class="t" style="top:2344.39px;font-size:20px;line-height:20px;right:1190.00px;transform:scaleX(0.95);transform-origin:right top;">-9</div>
<div class="t" style="top:2373.01px;font-size:20px;line-height:20px;left:369.60px;transform:scaleX(0.98);transform-origin:left top;">Sint Pieter</div>
<div class="t" style="top:2373.01px;font-size:20px;line-height:20px;left:578.60px;transform:scaleX(0.95);transform-origin:left top;">4414</div>
<div class="t" style="top:2373.01px;font-size:20px;line-height:20px;right:1190.00px;transform:scaleX(0.95);transform-origin:right top;">4</div>
<div class="t" style="top:2401.62px;font-size:20px;line-height:20px;left:369.60px;transform:scaleX(0.98);transform-origin:left top;">Borgharen-dorp</div>
<div class="t" style="top:2401.62px;font-size:20px;line-height:20px;left:578.60px;transform:scaleX(0.95);transform-origin:left top;">3855</div>
<div class="t" style="top:2401.62px;font-size:20px;line-height:20px;right:1190.00px;transform:scaleX(0.95);transform-origin:right top;">61</div>
<div class="t" style="top:2430.24px;font-size:20px;line-height:20px;left:369.60px;transform:scaleX(0.98);transform-origin:left top;">Belfeld-beneden</div>
<div class="t" style="top:2430.24px;font-size:20px;line-height:20px;left:578.60px;transform:scaleX(0.95);transform-origin:left top;">1114</div>
<div class="t" style="top:2430.24px;font-size:20px;line-height:20px;right:1190.00px;transform:scaleX(0.95);transform-origin:right top;">2</div>
<div class="t" style="top:2458.85px;font-size:20px;line-height:20px;left:369.60px;transform:scaleX(0.98);transform-origin:left top;">Sambeek-beneden</div>
<div class="t" style="top:2458.85px;font-size:20px;line-height:20px;left:578.60px;transform:scaleX(0.95);transform-origin:left top;">802</div>
<div class="t" style="top:2458.85px;font-size:20px;line-height:20px;right:1190.00px;transform:scaleX(0.95);transform-origin:right top;">-6</div>
<div class="t" style="top:2487.47px;font-size:20px;line-height:20px;left:369.60px;transform:scaleX(0.98);transform-origin:left top;">Grave-beneden</div>
<div class="t" style="top:2487.47px;font-size:20px;line-height:20px;left:578.60px;transform:scaleX(0.95);transform-origin:left top;">495</div>
<div class="t" style="top:2487.47px;font-size:20px;line-height:20px;right:1190.00px;transform:scaleX(0.95);transform-origin:right top;">-9</div>
<div class="t" style="top:2516.08px;font-size:20px;line-height:20px;left:369.60px;transform:scaleX(0.98);transform-origin:left top;">Lith-dorp</div>
<div class="t" style="top:2516.08px;font-size:20px;line-height:20px;left:578.60px;transform:scaleX(0.95);transform-origin:left top;">66</div>
<div class="t" style="top:2516.08px;font-size:20px;line-height:20px;right:1190.00px;transform:scaleX(0.95);transform-origin:right top;">-13</div>
<div class="t" style="top:2544.70px;font-size:20px;line-height:20px;left:369.60px;transform:scaleX(0.98);transform-origin:left top;">Heesbeen</div>
<div class="t" style="top:2544.70px;font-size:20px;line-height:20px;left:578.60px;transform:scaleX(0.95);transform-origin:left top;">69</div>
<div class="t" style="top:2544.70px;font-size:20px;line-height:20px;right:1190.00px;transform:scaleX(0.95);transform-origin:right top;">-9</div>
<div class="r" style="left:358.50px;top:1602.00px;width:1.20px;height:962.00px;background:#6e6a67;"></div>
<div class="t" style="top:361.73px;font-size:27.5px;line-height:27.5px;font-weight:700;left:1462.00px;">Hoogwater</div>
<div class="t" style="top:410.39px;font-size:19.3px;line-height:19.3px;font-style:italic;left:1462.50px;">Morgen</div>
<div class="t" style="top:439.20px;font-size:20px;line-height:20px;left:1462.00px;transform:scaleX(0.98);transform-origin:left top;">Delfzijl</div>
<div class="t" style="top:439.20px;font-size:20px;line-height:20px;left:1627.20px;transform:scaleX(0.91);transform-origin:left top;">03:01</div>
<div class="t" style="top:439.20px;font-size:20px;line-height:20px;left:1697.20px;transform:scaleX(0.91);transform-origin:left top;">15:03</div>
<div class="t" style="top:467.71px;font-size:20px;line-height:20px;left:1462.00px;transform:scaleX(0.98);transform-origin:left top;">Dordrecht</div>
<div class="t" style="top:467.71px;font-size:20px;line-height:20px;left:1627.20px;transform:scaleX(0.91);transform-origin:left top;">07:15</div>
<div class="t" style="top:467.71px;font-size:20px;line-height:20px;left:1697.20px;transform:scaleX(0.91);transform-origin:left top;">19:32</div>
<div class="t" style="top:496.22px;font-size:20px;line-height:20px;left:1462.00px;transform:scaleX(0.98);transform-origin:left top;">Haringvlietsluizen</div>
<div class="t" style="top:496.22px;font-size:20px;line-height:20px;left:1627.20px;transform:scaleX(0.91);transform-origin:left top;">05:20</div>
<div class="t" style="top:496.22px;font-size:20px;line-height:20px;left:1697.20px;transform:scaleX(0.91);transform-origin:left top;">17:39</div>
<div class="t" style="top:524.73px;font-size:20px;line-height:20px;left:1462.00px;transform:scaleX(0.98);transform-origin:left top;">Harlingen</div>
<div class="t" style="top:524.73px;font-size:20px;line-height:20px;left:1627.20px;transform:scaleX(0.91);transform-origin:left top;">00:33</div>
<div class="t" style="top:524.73px;font-size:20px;line-height:20px;left:1697.20px;transform:scaleX(0.91);transform-origin:left top;">12:53</div>
<div class="t" style="top:553.24px;font-size:20px;line-height:20px;left:1462.00px;transform:scaleX(0.98);transform-origin:left top;">IJmuiden</div>
<div class="t" style="top:553.24px;font-size:20px;line-height:20px;left:1627.20px;transform:scaleX(0.91);transform-origin:left top;">06:36</div>
<div class="t" style="top:553.24px;font-size:20px;line-height:20px;left:1697.20px;transform:scaleX(0.91);transform-origin:left top;">18:56</div>
<div class="t" style="top:581.75px;font-size:20px;line-height:20px;left:1462.00px;transform:scaleX(0.98);transform-origin:left top;">Rotterdam</div>
<div class="t" style="top:581.75px;font-size:20px;line-height:20px;left:1627.20px;transform:scaleX(0.91);transform-origin:left top;">06:46</div>
<div class="t" style="top:581.75px;font-size:20px;line-height:20px;left:1697.20px;transform:scaleX(0.91);transform-origin:left top;">19:05</div>
<div class="t" style="top:610.26px;font-size:20px;line-height:20px;left:1462.00px;transform:scaleX(0.98);transform-origin:left top;">Stavenisse</div>
<div class="t" style="top:610.26px;font-size:20px;line-height:20px;left:1627.20px;transform:scaleX(0.91);transform-origin:left top;">06:43</div>
<div class="t" style="top:610.26px;font-size:20px;line-height:20px;left:1697.20px;transform:scaleX(0.91);transform-origin:left top;">18:40</div>
<div class="t" style="top:638.77px;font-size:20px;line-height:20px;left:1462.00px;transform:scaleX(0.98);transform-origin:left top;">Vlissingen</div>
<div class="t" style="top:638.77px;font-size:20px;line-height:20px;left:1627.20px;transform:scaleX(0.91);transform-origin:left top;">04:51</div>
<div class="t" style="top:638.77px;font-size:20px;line-height:20px;left:1697.20px;transform:scaleX(0.91);transform-origin:left top;">17:07</div>
<div class="t" style="top:720.80px;font-size:26px;line-height:26px;font-weight:700;left:1462.00px;">Zon</div>
<div class="r" style="left:1461.00px;top:791.80px;width:286.00px;height:1.60px;background:#5a5652;"></div>
<div class="t" style="top:822.70px;font-size:18px;line-height:18px;left:1523.00px;transform:translateX(-50%);transform-origin:center top;">07:37</div>
<div class="t" style="top:822.70px;font-size:18px;line-height:18px;left:1671.70px;transform:translateX(-50%);transform-origin:center top;">19:22</div>
<div class="t" style="top:893.30px;font-size:26px;line-height:26px;font-weight:700;left:1462.00px;">Maan</div>
<div class="r" style="left:1461.00px;top:976.30px;width:286.00px;height:1.60px;background:#2a2522;"></div>
<div class="t" style="top:1007.70px;font-size:18px;line-height:18px;left:1524.00px;transform:translateX(-50%);transform-origin:center top;">11:55</div>
<div class="t" style="top:1007.70px;font-size:18px;line-height:18px;left:1671.70px;transform:translateX(-50%);transform-origin:center top;">20:42</div>
<div class="t" style="top:1097.25px;font-size:27px;line-height:27px;font-weight:700;left:1462.00px;transform:scaleX(1.0);transform-origin:left top;">Weer in Europa</div>
<div class="t" style="top:1107.45px;font-size:15px;line-height:15px;font-weight:700;right:95.50px;">(°C)</div>
<div class="t" style="top:1142.50px;font-size:18px;line-height:18px;font-style:italic;right:185.00px;">vandaag</div>
<div class="t" style="top:1142.50px;font-size:18px;line-height:18px;font-style:italic;right:102.70px;">morgen</div>
<div class="t" style="top:1173.50px;font-size:20px;line-height:20px;left:1462.00px;transform:scaleX(0.98);transform-origin:left top;">Aberdeen</div>
<div class="t" style="top:1173.50px;font-size:20px;line-height:20px;right:180.10px;transform:scaleX(0.91);transform-origin:right top;">12°</div>
<div class="t" style="top:1173.50px;font-size:20px;line-height:20px;right:97.10px;transform:scaleX(0.91);transform-origin:right top;">12°</div>
<div class="t" style="top:1202.05px;font-size:20px;line-height:20px;left:1462.00px;transform:scaleX(0.98);transform-origin:left top;">Athene</div>
<div class="t" style="top:1202.05px;font-size:20px;line-height:20px;right:180.10px;transform:scaleX(0.91);transform-origin:right top;">29°</div>
<div class="t" style="top:1202.05px;font-size:20px;line-height:20px;right:97.10px;transform:scaleX(0.91);transform-origin:right top;">30°</div>
<div class="t" style="top:1230.60px;font-size:20px;line-height:20px;left:1462.00px;transform:scaleX(0.98);transform-origin:left top;">Barcelona</div>
<div class="t" style="top:1230.60px;font-size:20px;line-height:20px;right:180.10px;transform:scaleX(0.91);transform-origin:right top;">26°</div>
<div class="t" style="top:1230.60px;font-size:20px;line-height:20px;right:97.10px;transform:scaleX(0.91);transform-origin:right top;">23°</div>
<div class="t" style="top:1259.15px;font-size:20px;line-height:20px;left:1462.00px;transform:scaleX(0.98);transform-origin:left top;">Berlijn</div>
<div class="t" style="top:1259.15px;font-size:20px;line-height:20px;right:180.10px;transform:scaleX(0.91);transform-origin:right top;">12°</div>
<div class="t" style="top:1259.15px;font-size:20px;line-height:20px;right:97.10px;transform:scaleX(0.91);transform-origin:right top;">14°</div>
<div class="t" style="top:1287.70px;font-size:20px;line-height:20px;left:1462.00px;transform:scaleX(0.98);transform-origin:left top;">Brussel</div>
<div class="t" style="top:1287.70px;font-size:20px;line-height:20px;right:180.10px;transform:scaleX(0.91);transform-origin:right top;">14°</div>
<div class="t" style="top:1287.70px;font-size:20px;line-height:20px;right:97.10px;transform:scaleX(0.91);transform-origin:right top;">15°</div>
<div class="t" style="top:1316.25px;font-size:20px;line-height:20px;left:1462.00px;transform:scaleX(0.98);transform-origin:left top;">Boedapest</div>
<div class="t" style="top:1316.25px;font-size:20px;line-height:20px;right:180.10px;transform:scaleX(0.91);transform-origin:right top;">19°</div>
<div class="t" style="top:1316.25px;font-size:20px;line-height:20px;right:97.10px;transform:scaleX(0.91);transform-origin:right top;">19°</div>
<div class="t" style="top:1344.80px;font-size:20px;line-height:20px;left:1462.00px;transform:scaleX(0.98);transform-origin:left top;">Dublin</div>
<div class="t" style="top:1344.80px;font-size:20px;line-height:20px;right:180.10px;transform:scaleX(0.91);transform-origin:right top;">14°</div>
<div class="t" style="top:1344.80px;font-size:20px;line-height:20px;right:97.10px;transform:scaleX(0.91);transform-origin:right top;">16°</div>
<div class="t" style="top:1373.35px;font-size:20px;line-height:20px;left:1462.00px;transform:scaleX(0.98);transform-origin:left top;">Frankfurt</div>
<div class="t" style="top:1373.35px;font-size:20px;line-height:20px;right:180.10px;transform:scaleX(0.91);transform-origin:right top;">14°</div>
<div class="t" style="top:1373.35px;font-size:20px;line-height:20px;right:97.10px;transform:scaleX(0.91);transform-origin:right top;">14°</div>
<div class="t" style="top:1401.90px;font-size:20px;line-height:20px;left:1462.00px;transform:scaleX(0.98);transform-origin:left top;">Genève</div>
<div class="t" style="top:1401.90px;font-size:20px;line-height:20px;right:180.10px;transform:scaleX(0.91);transform-origin:right top;">14°</div>
<div class="t" style="top:1401.90px;font-size:20px;line-height:20px;right:97.10px;transform:scaleX(0.91);transform-origin:right top;">14°</div>
<div class="t" style="top:1430.45px;font-size:20px;line-height:20px;left:1462.00px;transform:scaleX(0.98);transform-origin:left top;">Helsinki</div>
<div class="t" style="top:1430.45px;font-size:20px;line-height:20px;right:180.10px;transform:scaleX(0.91);transform-origin:right top;">13°</div>
<div class="t" style="top:1430.45px;font-size:20px;line-height:20px;right:97.10px;transform:scaleX(0.91);transform-origin:right top;">7°</div>
<div class="t" style="top:1459.00px;font-size:20px;line-height:20px;left:1462.00px;transform:scaleX(0.98);transform-origin:left top;">Istanbul</div>
<div class="t" style="top:1459.00px;font-size:20px;line-height:20px;right:180.10px;transform:scaleX(0.91);transform-origin:right top;">27°</div>
<div class="t" style="top:1459.00px;font-size:20px;line-height:20px;right:97.10px;transform:scaleX(0.91);transform-origin:right top;">27°</div>
<div class="t" style="top:1487.55px;font-size:20px;line-height:20px;left:1462.00px;transform:scaleX(0.98);transform-origin:left top;">Kopenhagen</div>
<div class="t" style="top:1487.55px;font-size:20px;line-height:20px;right:180.10px;transform:scaleX(0.91);transform-origin:right top;">13°</div>
<div class="t" style="top:1487.55px;font-size:20px;line-height:20px;right:97.10px;transform:scaleX(0.91);transform-origin:right top;">14°</div>
<div class="t" style="top:1516.10px;font-size:20px;line-height:20px;left:1462.00px;transform:scaleX(0.98);transform-origin:left top;">Las Palmas</div>
<div class="t" style="top:1516.10px;font-size:20px;line-height:20px;right:180.10px;transform:scaleX(0.91);transform-origin:right top;">26°</div>
<div class="t" style="top:1516.10px;font-size:20px;line-height:20px;right:97.10px;transform:scaleX(0.91);transform-origin:right top;">27°</div>
<div class="t" style="top:1544.65px;font-size:20px;line-height:20px;left:1462.00px;transform:scaleX(0.98);transform-origin:left top;">Lissabon</div>
<div class="t" style="top:1544.65px;font-size:20px;line-height:20px;right:180.10px;transform:scaleX(0.91);transform-origin:right top;">24°</div>
<div class="t" style="top:1544.65px;font-size:20px;line-height:20px;right:97.10px;transform:scaleX(0.91);transform-origin:right top;">22°</div>
<div class="t" style="top:1573.20px;font-size:20px;line-height:20px;left:1462.00px;transform:scaleX(0.98);transform-origin:left top;">Londen</div>
<div class="t" style="top:1573.20px;font-size:20px;line-height:20px;right:180.10px;transform:scaleX(0.91);transform-origin:right top;">16°</div>
<div class="t" style="top:1573.20px;font-size:20px;line-height:20px;right:97.10px;transform:scaleX(0.91);transform-origin:right top;">17°</div>
<div class="t" style="top:1601.75px;font-size:20px;line-height:20px;left:1462.00px;transform:scaleX(0.98);transform-origin:left top;">Luxemburg</div>
<div class="t" style="top:1601.75px;font-size:20px;line-height:20px;right:180.10px;transform:scaleX(0.91);transform-origin:right top;">13°</div>
<div class="t" style="top:1601.75px;font-size:20px;line-height:20px;right:97.10px;transform:scaleX(0.91);transform-origin:right top;">12°</div>
<div class="t" style="top:1630.30px;font-size:20px;line-height:20px;left:1462.00px;transform:scaleX(0.98);transform-origin:left top;">Madrid</div>
<div class="t" style="top:1630.30px;font-size:20px;line-height:20px;right:180.10px;transform:scaleX(0.91);transform-origin:right top;">24°</div>
<div class="t" style="top:1630.30px;font-size:20px;line-height:20px;right:97.10px;transform:scaleX(0.91);transform-origin:right top;">19°</div>
<div class="t" style="top:1658.85px;font-size:20px;line-height:20px;left:1462.00px;transform:scaleX(0.98);transform-origin:left top;">Malta</div>
<div class="t" style="top:1658.85px;font-size:20px;line-height:20px;right:180.10px;transform:scaleX(0.91);transform-origin:right top;">27°</div>
<div class="t" style="top:1658.85px;font-size:20px;line-height:20px;right:97.10px;transform:scaleX(0.91);transform-origin:right top;">28°</div>
<div class="t" style="top:1687.40px;font-size:20px;line-height:20px;left:1462.00px;transform:scaleX(0.98);transform-origin:left top;">Moskou</div>
<div class="t" style="top:1687.40px;font-size:20px;line-height:20px;right:180.10px;transform:scaleX(0.91);transform-origin:right top;">10°</div>
<div class="t" style="top:1687.40px;font-size:20px;line-height:20px;right:97.10px;transform:scaleX(0.91);transform-origin:right top;">11°</div>
<div class="t" style="top:1715.95px;font-size:20px;line-height:20px;left:1462.00px;transform:scaleX(0.98);transform-origin:left top;">Parijs</div>
<div class="t" style="top:1715.95px;font-size:20px;line-height:20px;right:180.10px;transform:scaleX(0.91);transform-origin:right top;">16°</div>
<div class="t" style="top:1715.95px;font-size:20px;line-height:20px;right:97.10px;transform:scaleX(0.91);transform-origin:right top;">16°</div>
<div class="t" style="top:1744.50px;font-size:20px;line-height:20px;left:1462.00px;transform:scaleX(0.98);transform-origin:left top;">Rome</div>
<div class="t" style="top:1744.50px;font-size:20px;line-height:20px;right:180.10px;transform:scaleX(0.91);transform-origin:right top;">24°</div>
<div class="t" style="top:1744.50px;font-size:20px;line-height:20px;right:97.10px;transform:scaleX(0.91);transform-origin:right top;">24°</div>
<div class="t" style="top:1773.05px;font-size:20px;line-height:20px;left:1462.00px;transform:scaleX(0.98);transform-origin:left top;">Wenen</div>
<div class="t" style="top:1773.05px;font-size:20px;line-height:20px;right:180.10px;transform:scaleX(0.91);transform-origin:right top;">17°</div>
<div class="t" style="top:1773.05px;font-size:20px;line-height:20px;right:97.10px;transform:scaleX(0.91);transform-origin:right top;">14°</div>
<div class="t" style="top:1857.05px;font-size:27px;line-height:27px;font-weight:700;left:1462.00px;transform:scaleX(1.0);transform-origin:left top;">Weer buiten Europa</div>
<div class="t" style="top:1867.25px;font-size:15px;line-height:15px;font-weight:700;right:95.50px;">(°C)</div>
<div class="t" style="top:1903.10px;font-size:18px;line-height:18px;font-style:italic;right:185.00px;">vandaag</div>
<div class="t" style="top:1903.10px;font-size:18px;line-height:18px;font-style:italic;right:102.70px;">morgen</div>
<div class="t" style="top:1933.70px;font-size:20px;line-height:20px;left:1462.00px;transform:scaleX(0.98);transform-origin:left top;">Los Angeles</div>
<div class="t" style="top:1933.70px;font-size:20px;line-height:20px;right:180.10px;transform:scaleX(0.91);transform-origin:right top;">27°</div>
<div class="t" style="top:1933.70px;font-size:20px;line-height:20px;right:97.10px;transform:scaleX(0.91);transform-origin:right top;">26°</div>
<div class="t" style="top:1962.25px;font-size:20px;line-height:20px;left:1462.00px;transform:scaleX(0.98);transform-origin:left top;">New York</div>
<div class="t" style="top:1962.25px;font-size:20px;line-height:20px;right:180.10px;transform:scaleX(0.91);transform-origin:right top;">20°</div>
<div class="t" style="top:1962.25px;font-size:20px;line-height:20px;right:97.10px;transform:scaleX(0.91);transform-origin:right top;">19°</div>
<div class="t" style="top:1990.80px;font-size:20px;line-height:20px;left:1462.00px;transform:scaleX(0.98);transform-origin:left top;">Miami</div>
<div class="t" style="top:1990.80px;font-size:20px;line-height:20px;right:180.10px;transform:scaleX(0.91);transform-origin:right top;">29°</div>
<div class="t" style="top:1990.80px;font-size:20px;line-height:20px;right:97.10px;transform:scaleX(0.91);transform-origin:right top;">31°</div>
<div class="t" style="top:2019.35px;font-size:20px;line-height:20px;left:1462.00px;transform:scaleX(0.98);transform-origin:left top;">Vancouver</div>
<div class="t" style="top:2019.35px;font-size:20px;line-height:20px;right:180.10px;transform:scaleX(0.91);transform-origin:right top;">22°</div>
<div class="t" style="top:2019.35px;font-size:20px;line-height:20px;right:97.10px;transform:scaleX(0.91);transform-origin:right top;">21°</div>
<div class="t" style="top:2047.90px;font-size:20px;line-height:20px;left:1462.00px;transform:scaleX(0.98);transform-origin:left top;">Calgary</div>
<div class="t" style="top:2047.90px;font-size:20px;line-height:20px;right:180.10px;transform:scaleX(0.91);transform-origin:right top;">28°</div>
<div class="t" style="top:2047.90px;font-size:20px;line-height:20px;right:97.10px;transform:scaleX(0.91);transform-origin:right top;">21°</div>
<div class="t" style="top:2076.45px;font-size:20px;line-height:20px;left:1462.00px;transform:scaleX(0.98);transform-origin:left top;">Toronto</div>
<div class="t" style="top:2076.45px;font-size:20px;line-height:20px;right:180.10px;transform:scaleX(0.91);transform-origin:right top;">14°</div>
<div class="t" style="top:2076.45px;font-size:20px;line-height:20px;right:97.10px;transform:scaleX(0.91);transform-origin:right top;">14°</div>
<div class="t" style="top:2105.00px;font-size:20px;line-height:20px;left:1462.00px;transform:scaleX(0.98);transform-origin:left top;">Willemstad</div>
<div class="t" style="top:2105.00px;font-size:20px;line-height:20px;right:180.10px;transform:scaleX(0.91);transform-origin:right top;">29°</div>
<div class="t" style="top:2105.00px;font-size:20px;line-height:20px;right:97.10px;transform:scaleX(0.91);transform-origin:right top;">29°</div>
<div class="t" style="top:2133.55px;font-size:20px;line-height:20px;left:1462.00px;transform:scaleX(0.98);transform-origin:left top;">Buenos Aires</div>
<div class="t" style="top:2133.55px;font-size:20px;line-height:20px;right:180.10px;transform:scaleX(0.91);transform-origin:right top;">21°</div>
<div class="t" style="top:2133.55px;font-size:20px;line-height:20px;right:97.10px;transform:scaleX(0.91);transform-origin:right top;">19°</div>
<div class="t" style="top:2162.10px;font-size:20px;line-height:20px;left:1462.00px;transform:scaleX(0.98);transform-origin:left top;">Lima</div>
<div class="t" style="top:2162.10px;font-size:20px;line-height:20px;right:180.10px;transform:scaleX(0.91);transform-origin:right top;">18°</div>
<div class="t" style="top:2162.10px;font-size:20px;line-height:20px;right:97.10px;transform:scaleX(0.91);transform-origin:right top;">18°</div>
<div class="t" style="top:2190.65px;font-size:20px;line-height:20px;left:1462.00px;transform:scaleX(0.98);transform-origin:left top;">Mexico-stad</div>
<div class="t" style="top:2190.65px;font-size:20px;line-height:20px;right:180.10px;transform:scaleX(0.91);transform-origin:right top;">18°</div>
<div class="t" style="top:2190.65px;font-size:20px;line-height:20px;right:97.10px;transform:scaleX(0.91);transform-origin:right top;">18°</div>
<div class="t" style="top:2219.20px;font-size:20px;line-height:20px;left:1462.00px;transform:scaleX(0.98);transform-origin:left top;">Jeruzalem</div>
<div class="t" style="top:2219.20px;font-size:20px;line-height:20px;right:180.10px;transform:scaleX(0.91);transform-origin:right top;">26°</div>
<div class="t" style="top:2219.20px;font-size:20px;line-height:20px;right:97.10px;transform:scaleX(0.91);transform-origin:right top;">27°</div>
<div class="t" style="top:2247.75px;font-size:20px;line-height:20px;left:1462.00px;transform:scaleX(0.98);transform-origin:left top;">Rabat</div>
<div class="t" style="top:2247.75px;font-size:20px;line-height:20px;right:180.10px;transform:scaleX(0.91);transform-origin:right top;">21°</div>
<div class="t" style="top:2247.75px;font-size:20px;line-height:20px;right:97.10px;transform:scaleX(0.91);transform-origin:right top;">21°</div>
<div class="t" style="top:2276.30px;font-size:20px;line-height:20px;left:1462.00px;transform:scaleX(0.98);transform-origin:left top;">Lagos</div>
<div class="t" style="top:2276.30px;font-size:20px;line-height:20px;right:180.10px;transform:scaleX(0.91);transform-origin:right top;">25°</div>
<div class="t" style="top:2276.30px;font-size:20px;line-height:20px;right:97.10px;transform:scaleX(0.91);transform-origin:right top;">27°</div>
<div class="t" style="top:2304.85px;font-size:20px;line-height:20px;left:1462.00px;transform:scaleX(0.98);transform-origin:left top;">Johannesburg</div>
<div class="t" style="top:2304.85px;font-size:20px;line-height:20px;right:180.10px;transform:scaleX(0.91);transform-origin:right top;">26°</div>
<div class="t" style="top:2304.85px;font-size:20px;line-height:20px;right:97.10px;transform:scaleX(0.91);transform-origin:right top;">26°</div>
<div class="t" style="top:2333.40px;font-size:20px;line-height:20px;left:1462.00px;transform:scaleX(0.98);transform-origin:left top;">Kaapstad</div>
<div class="t" style="top:2333.40px;font-size:20px;line-height:20px;right:180.10px;transform:scaleX(0.91);transform-origin:right top;">22°</div>
<div class="t" style="top:2333.40px;font-size:20px;line-height:20px;right:97.10px;transform:scaleX(0.91);transform-origin:right top;">21°</div>
<div class="t" style="top:2361.95px;font-size:20px;line-height:20px;left:1462.00px;transform:scaleX(0.98);transform-origin:left top;">New Delhi</div>
<div class="t" style="top:2361.95px;font-size:20px;line-height:20px;right:180.10px;transform:scaleX(0.91);transform-origin:right top;">35°</div>
<div class="t" style="top:2361.95px;font-size:20px;line-height:20px;right:97.10px;transform:scaleX(0.91);transform-origin:right top;">35°</div>
<div class="t" style="top:2390.50px;font-size:20px;line-height:20px;left:1462.00px;transform:scaleX(0.98);transform-origin:left top;">Singapore</div>
<div class="t" style="top:2390.50px;font-size:20px;line-height:20px;right:180.10px;transform:scaleX(0.91);transform-origin:right top;">31°</div>
<div class="t" style="top:2390.50px;font-size:20px;line-height:20px;right:97.10px;transform:scaleX(0.91);transform-origin:right top;">30°</div>
<div class="t" style="top:2419.05px;font-size:20px;line-height:20px;left:1462.00px;transform:scaleX(0.98);transform-origin:left top;">Tokio</div>
<div class="t" style="top:2419.05px;font-size:20px;line-height:20px;right:180.10px;transform:scaleX(0.91);transform-origin:right top;">26°</div>
<div class="t" style="top:2419.05px;font-size:20px;line-height:20px;right:97.10px;transform:scaleX(0.91);transform-origin:right top;">21°</div>
<div class="t" style="top:2447.60px;font-size:20px;line-height:20px;left:1462.00px;transform:scaleX(0.98);transform-origin:left top;">Sjanghai</div>
<div class="t" style="top:2447.60px;font-size:20px;line-height:20px;right:180.10px;transform:scaleX(0.91);transform-origin:right top;">22°</div>
<div class="t" style="top:2447.60px;font-size:20px;line-height:20px;right:97.10px;transform:scaleX(0.91);transform-origin:right top;">24°</div>
<div class="t" style="top:2476.15px;font-size:20px;line-height:20px;left:1462.00px;transform:scaleX(0.98);transform-origin:left top;">Jakarta</div>
<div class="t" style="top:2476.15px;font-size:20px;line-height:20px;right:180.10px;transform:scaleX(0.91);transform-origin:right top;">30°</div>
<div class="t" style="top:2476.15px;font-size:20px;line-height:20px;right:97.10px;transform:scaleX(0.91);transform-origin:right top;">30°</div>
<div class="t" style="top:2504.70px;font-size:20px;line-height:20px;left:1462.00px;transform:scaleX(0.98);transform-origin:left top;">Sydney</div>
<div class="t" style="top:2504.70px;font-size:20px;line-height:20px;right:180.10px;transform:scaleX(0.91);transform-origin:right top;">23°</div>
<div class="t" style="top:2504.70px;font-size:20px;line-height:20px;right:97.10px;transform:scaleX(0.91);transform-origin:right top;">18°</div>
<div class="t" style="top:2533.25px;font-size:20px;line-height:20px;left:1462.00px;transform:scaleX(0.98);transform-origin:left top;">Wellington</div>
<div class="t" style="top:2533.25px;font-size:20px;line-height:20px;right:180.10px;transform:scaleX(0.91);transform-origin:right top;">14°</div>
<div class="t" style="top:2533.25px;font-size:20px;line-height:20px;right:97.10px;transform:scaleX(0.91);transform-origin:right top;">14°</div>
<div class="t" style="top:361.30px;font-size:36px;line-height:36px;font-weight:700;left:689.00px;">Nederland</div>
<div class="t" style="top:409.94px;font-size:19.6px;line-height:19.6px;left:689.00px;">verwachte weersituatie</div>
<div class="t" style="top:432.94px;font-size:19.6px;line-height:19.6px;left:689.00px;">voor morgen</div>
<div class="t" style="top:456.34px;font-size:19.6px;line-height:19.6px;left:689.00px;">© WeerKantoor.com</div>
<div class="t" style="top:870.46px;font-size:26.4px;line-height:26.4px;font-weight:700;left:1261.20px;">Luchtdruk</div>
<div class="t" style="top:926.40px;font-size:18px;line-height:18px;font-style:italic;left:1261.50px;">vandaag</div>
<div class="t" style="top:954.10px;font-size:22px;line-height:22px;font-weight:700;left:1277.30px;">997</div>
<div class="t" style="top:960.47px;font-size:14.5px;line-height:14.5px;font-weight:700;left:1324.70px;">hPa</div>
<div class="t" style="top:1022.40px;font-size:18px;line-height:18px;font-style:italic;left:1261.50px;">morgen</div>
<div class="t" style="top:1062.00px;font-size:22px;line-height:22px;font-weight:700;left:1265.80px;">1002</div>
<div class="t" style="top:1068.38px;font-size:14.5px;line-height:14.5px;font-weight:700;left:1324.70px;">hPa</div>
<div class="t" style="top:1136.80px;font-size:36px;line-height:36px;font-weight:700;left:689.00px;">Verwachtingen</div>
<div class="t" style="top:1855.40px;font-size:36px;line-height:36px;font-weight:700;left:689.00px;">Europa</div>
<div class="t" style="top:1203.10px;font-size:22px;line-height:22px;font-weight:700;left:692.60px;">Donderdag</div>
<div class="r" style="left:688.20px;top:1351.70px;width:57.30px;height:1.30px;background:#4a4541;"></div>
<div class="r" style="left:688.20px;top:1468.50px;width:57.30px;height:1.30px;background:#4a4541;"></div>
<div class="r" style="left:688.20px;top:1546.20px;width:57.30px;height:1.30px;background:#4a4541;"></div>
<div class="r" style="left:688.20px;top:1622.90px;width:57.30px;height:1.30px;background:#4a4541;"></div>
<div class="r" style="left:688.20px;top:1738.00px;width:57.30px;height:1.30px;background:#4a4541;"></div>
<div class="t" style="top:1356.20px;font-size:16px;line-height:16px;left:695.20px;">temperatuur</div>
<div class="t" style="top:1388.83px;font-size:15.5px;line-height:15.5px;font-weight:700;color:#d1202f;left:701.70px;">max.</div>
<div class="t" style="top:1384.15px;font-size:21px;line-height:21px;font-weight:700;color:#d1202f;left:747.20px;">15°</div>
<div class="t" style="top:1420.73px;font-size:15.5px;line-height:15.5px;font-weight:700;color:#1f5aa0;left:701.70px;">min.</div>
<div class="t" style="top:1416.05px;font-size:21px;line-height:21px;font-weight:700;color:#1f5aa0;left:746.40px;">6°</div>
<div class="t" style="top:1473.60px;font-size:16px;line-height:16px;left:695.20px;">neerslagkans</div>
<div class="t" style="top:1503.10px;font-size:22px;line-height:22px;font-weight:700;color:#1f5aa0;left:701.30px;">60%</div>
<div class="t" style="top:1551.30px;font-size:16px;line-height:16px;left:695.20px;">windkracht</div>
<div class="t" style="top:1583.10px;font-size:22px;line-height:22px;font-weight:700;left:701.10px;">2</div>
<div class="t" style="top:1628.00px;font-size:16px;line-height:16px;left:695.20px;">windrichting</div>
<div class="t" style="top:1693.75px;font-size:15px;line-height:15px;font-weight:700;left:708.70px;">zw</div>
<div class="t" style="top:1742.90px;font-size:16px;line-height:16px;left:695.20px;">zonuren</div>
<div class="t" style="top:1796.65px;font-size:25px;line-height:25px;font-weight:700;left:743.20px;transform:translateX(-50%);transform-origin:center top;">2</div>
<div class="r" style="left:825.10px;top:1202.60px;width:1.30px;height:638.00px;background:#3b3632;"></div>
<div class="t" style="top:1203.10px;font-size:22px;line-height:22px;font-weight:700;left:830.10px;">Vrijdag</div>
<div class="r" style="left:825.70px;top:1351.70px;width:57.30px;height:1.30px;background:#4a4541;"></div>
<div class="r" style="left:825.70px;top:1468.50px;width:57.30px;height:1.30px;background:#4a4541;"></div>
<div class="r" style="left:825.70px;top:1546.20px;width:57.30px;height:1.30px;background:#4a4541;"></div>
<div class="r" style="left:825.70px;top:1622.90px;width:57.30px;height:1.30px;background:#4a4541;"></div>
<div class="r" style="left:825.70px;top:1738.00px;width:57.30px;height:1.30px;background:#4a4541;"></div>
<div class="t" style="top:1356.20px;font-size:16px;line-height:16px;left:832.70px;">temperatuur</div>
<div class="t" style="top:1388.83px;font-size:15.5px;line-height:15.5px;font-weight:700;color:#d1202f;left:839.20px;">max.</div>
<div class="t" style="top:1384.15px;font-size:21px;line-height:21px;font-weight:700;color:#d1202f;left:884.70px;">16°</div>
<div class="t" style="top:1420.73px;font-size:15.5px;line-height:15.5px;font-weight:700;color:#1f5aa0;left:839.20px;">min.</div>
<div class="t" style="top:1416.05px;font-size:21px;line-height:21px;font-weight:700;color:#1f5aa0;left:883.90px;">12°</div>
<div class="t" style="top:1473.60px;font-size:16px;line-height:16px;left:832.70px;">neerslagkans</div>
<div class="t" style="top:1503.10px;font-size:22px;line-height:22px;font-weight:700;color:#1f5aa0;left:838.80px;">40%</div>
<div class="t" style="top:1551.30px;font-size:16px;line-height:16px;left:832.70px;">windkracht</div>
<div class="t" style="top:1583.10px;font-size:22px;line-height:22px;font-weight:700;left:838.60px;">4</div>
<div class="t" style="top:1628.00px;font-size:16px;line-height:16px;left:832.70px;">windrichting</div>
<div class="t" style="top:1693.75px;font-size:15px;line-height:15px;font-weight:700;left:846.20px;">zw</div>
<div class="t" style="top:1742.90px;font-size:16px;line-height:16px;left:832.70px;">zonuren</div>
<div class="t" style="top:1796.65px;font-size:25px;line-height:25px;font-weight:700;left:880.70px;transform:translateX(-50%);transform-origin:center top;">5</div>
<div class="r" style="left:962.60px;top:1202.60px;width:1.30px;height:638.00px;background:#3b3632;"></div>
<div class="t" style="top:1203.10px;font-size:22px;line-height:22px;font-weight:700;left:967.60px;">Zaterdag</div>
<div class="r" style="left:963.20px;top:1351.70px;width:57.30px;height:1.30px;background:#4a4541;"></div>
<div class="r" style="left:963.20px;top:1468.50px;width:57.30px;height:1.30px;background:#4a4541;"></div>
<div class="r" style="left:963.20px;top:1546.20px;width:57.30px;height:1.30px;background:#4a4541;"></div>
<div class="r" style="left:963.20px;top:1622.90px;width:57.30px;height:1.30px;background:#4a4541;"></div>
<div class="r" style="left:963.20px;top:1738.00px;width:57.30px;height:1.30px;background:#4a4541;"></div>
<div class="t" style="top:1356.20px;font-size:16px;line-height:16px;left:970.20px;">temperatuur</div>
<div class="t" style="top:1388.83px;font-size:15.5px;line-height:15.5px;font-weight:700;color:#d1202f;left:976.70px;">max.</div>
<div class="t" style="top:1384.15px;font-size:21px;line-height:21px;font-weight:700;color:#d1202f;left:1022.20px;">17°</div>
<div class="t" style="top:1420.73px;font-size:15.5px;line-height:15.5px;font-weight:700;color:#1f5aa0;left:976.70px;">min.</div>
<div class="t" style="top:1416.05px;font-size:21px;line-height:21px;font-weight:700;color:#1f5aa0;left:1021.40px;">11°</div>
<div class="t" style="top:1473.60px;font-size:16px;line-height:16px;left:970.20px;">neerslagkans</div>
<div class="t" style="top:1503.10px;font-size:22px;line-height:22px;font-weight:700;color:#1f5aa0;left:976.30px;">80%</div>
<div class="t" style="top:1551.30px;font-size:16px;line-height:16px;left:970.20px;">windkracht</div>
<div class="t" style="top:1583.10px;font-size:22px;line-height:22px;font-weight:700;left:976.10px;">4</div>
<div class="t" style="top:1628.00px;font-size:16px;line-height:16px;left:970.20px;">windrichting</div>
<div class="t" style="top:1693.75px;font-size:15px;line-height:15px;font-weight:700;left:983.70px;">zw</div>
<div class="t" style="top:1742.90px;font-size:16px;line-height:16px;left:970.20px;">zonuren</div>
<div class="t" style="top:1796.65px;font-size:25px;line-height:25px;font-weight:700;left:1018.20px;transform:translateX(-50%);transform-origin:center top;">2</div>
<div class="r" style="left:1100.10px;top:1202.60px;width:1.30px;height:638.00px;background:#3b3632;"></div>
<div class="t" style="top:1203.10px;font-size:22px;line-height:22px;font-weight:700;left:1105.10px;">Zondag</div>
<div class="r" style="left:1100.70px;top:1351.70px;width:57.30px;height:1.30px;background:#4a4541;"></div>
<div class="r" style="left:1100.70px;top:1468.50px;width:57.30px;height:1.30px;background:#4a4541;"></div>
<div class="r" style="left:1100.70px;top:1546.20px;width:57.30px;height:1.30px;background:#4a4541;"></div>
<div class="r" style="left:1100.70px;top:1622.90px;width:57.30px;height:1.30px;background:#4a4541;"></div>
<div class="r" style="left:1100.70px;top:1738.00px;width:57.30px;height:1.30px;background:#4a4541;"></div>
<div class="t" style="top:1356.20px;font-size:16px;line-height:16px;left:1107.70px;">temperatuur</div>
<div class="t" style="top:1388.83px;font-size:15.5px;line-height:15.5px;font-weight:700;color:#d1202f;left:1114.20px;">max.</div>
<div class="t" style="top:1384.15px;font-size:21px;line-height:21px;font-weight:700;color:#d1202f;left:1159.70px;">17°</div>
<div class="t" style="top:1420.73px;font-size:15.5px;line-height:15.5px;font-weight:700;color:#1f5aa0;left:1114.20px;">min.</div>
<div class="t" style="top:1416.05px;font-size:21px;line-height:21px;font-weight:700;color:#1f5aa0;left:1158.90px;">10°</div>
<div class="t" style="top:1473.60px;font-size:16px;line-height:16px;left:1107.70px;">neerslagkans</div>
<div class="t" style="top:1503.10px;font-size:22px;line-height:22px;font-weight:700;color:#1f5aa0;left:1113.80px;">70%</div>
<div class="t" style="top:1551.30px;font-size:16px;line-height:16px;left:1107.70px;">windkracht</div>
<div class="t" style="top:1583.10px;font-size:22px;line-height:22px;font-weight:700;left:1113.60px;">4</div>
<div class="t" style="top:1628.00px;font-size:16px;line-height:16px;left:1107.70px;">windrichting</div>
<div class="t" style="top:1675.65px;font-size:15px;line-height:15px;font-weight:700;left:1110.80px;">w</div>
<div class="t" style="top:1742.90px;font-size:16px;line-height:16px;left:1107.70px;">zonuren</div>
<div class="t" style="top:1796.65px;font-size:25px;line-height:25px;font-weight:700;left:1155.70px;transform:translateX(-50%);transform-origin:center top;">3</div>
<div class="r" style="left:1237.60px;top:1202.60px;width:1.30px;height:638.00px;background:#3b3632;"></div>
<div class="t" style="top:1203.10px;font-size:22px;line-height:22px;font-weight:700;left:1242.60px;">Maandag</div>
<div class="r" style="left:1238.20px;top:1351.70px;width:57.30px;height:1.30px;background:#4a4541;"></div>
<div class="r" style="left:1238.20px;top:1468.50px;width:57.30px;height:1.30px;background:#4a4541;"></div>
<div class="r" style="left:1238.20px;top:1546.20px;width:57.30px;height:1.30px;background:#4a4541;"></div>
<div class="r" style="left:1238.20px;top:1622.90px;width:57.30px;height:1.30px;background:#4a4541;"></div>
<div class="r" style="left:1238.20px;top:1738.00px;width:57.30px;height:1.30px;background:#4a4541;"></div>
<div class="t" style="top:1356.20px;font-size:16px;line-height:16px;left:1245.20px;">temperatuur</div>
<div class="t" style="top:1388.83px;font-size:15.5px;line-height:15.5px;font-weight:700;color:#d1202f;left:1251.70px;">max.</div>
<div class="t" style="top:1384.15px;font-size:21px;line-height:21px;font-weight:700;color:#d1202f;left:1297.20px;">17°</div>
<div class="t" style="top:1420.73px;font-size:15.5px;line-height:15.5px;font-weight:700;color:#1f5aa0;left:1251.70px;">min.</div>
<div class="t" style="top:1416.05px;font-size:21px;line-height:21px;font-weight:700;color:#1f5aa0;left:1296.40px;">10°</div>
<div class="t" style="top:1473.60px;font-size:16px;line-height:16px;left:1245.20px;">neerslagkans</div>
<div class="t" style="top:1503.10px;font-size:22px;line-height:22px;font-weight:700;color:#1f5aa0;left:1251.30px;">60%</div>
<div class="t" style="top:1551.30px;font-size:16px;line-height:16px;left:1245.20px;">windkracht</div>
<div class="t" style="top:1583.10px;font-size:22px;line-height:22px;font-weight:700;left:1251.10px;">3</div>
<div class="t" style="top:1628.00px;font-size:16px;line-height:16px;left:1245.20px;">windrichting</div>
<div class="t" style="top:1675.65px;font-size:15px;line-height:15px;font-weight:700;left:1248.30px;">w</div>
<div class="t" style="top:1742.90px;font-size:16px;line-height:16px;left:1245.20px;">zonuren</div>
<div class="t" style="top:1796.65px;font-size:25px;line-height:25px;font-weight:700;left:1293.20px;transform:translateX(-50%);transform-origin:center top;">2</div>
<svg width="1845" height="2660" style="left:0;top:0" viewBox="0 0 1845 2660">
<g stroke="#1c130b" stroke-width="3.6"><line x1="746.69" y1="1256.70" x2="760.54" y2="1248.70"/><line x1="741.36" y1="1251.88" x2="746.50" y2="1245.75"/><line x1="735.34" y1="1248.41" x2="738.08" y2="1240.89"/><line x1="728.50" y1="1246.20" x2="728.50" y2="1230.20"/><line x1="721.66" y1="1248.41" x2="718.92" y2="1240.89"/><line x1="715.64" y1="1251.88" x2="710.50" y2="1245.75"/><line x1="710.31" y1="1256.70" x2="696.46" y2="1248.70"/><line x1="708.80" y1="1263.73" x2="700.93" y2="1262.34"/><line x1="708.80" y1="1270.67" x2="700.93" y2="1272.06"/><line x1="710.31" y1="1277.70" x2="696.46" y2="1285.70"/></g><path d="M719.20,1304.00 A9.60,9.60 0 1 1 724.69,1286.52 A17.00,17.00 0 1 1 756.96,1276.43 A15.30,15.30 0 1 1 766.10,1304.00 Z" fill="#fff" stroke="#1c130b" stroke-width="3.6" stroke-linejoin="round"/><path d="M747.00,1308.50 C739.50,1312.00 733.70,1317.00 733.70,1321.00 A6.80,6.80 0 0 0 747.30,1321.00 C747.30,1317.00 747.30,1312.00 747.00,1308.50 Z" fill="#1c130b"/>
<polygon points="763.1,1661.8 713.9,1689.8 735.9,1689.8 734.1,1714.4" fill="#1c130b"/>
<g stroke="#e9ab1e" stroke-width="3.4" stroke-linecap="butt"><line x1="764.30" y1="1805.63" x2="772.67" y2="1804.15"/><line x1="759.76" y1="1800.35" x2="773.61" y2="1792.35"/><line x1="757.46" y1="1793.78" x2="762.92" y2="1787.27"/><line x1="751.44" y1="1790.31" x2="754.35" y2="1782.32"/><line x1="744.60" y1="1791.60" x2="744.60" y2="1775.60"/><line x1="737.76" y1="1790.31" x2="734.85" y2="1782.32"/><line x1="731.74" y1="1793.78" x2="726.28" y2="1787.27"/><line x1="729.44" y1="1800.35" x2="715.59" y2="1792.35"/><line x1="724.90" y1="1805.63" x2="716.53" y2="1804.15"/><line x1="724.90" y1="1812.57" x2="716.53" y2="1814.05"/><line x1="729.44" y1="1817.85" x2="715.59" y2="1825.85"/><line x1="731.74" y1="1824.42" x2="726.28" y2="1830.93"/><line x1="737.76" y1="1827.89" x2="734.85" y2="1835.88"/><line x1="744.60" y1="1826.60" x2="744.60" y2="1842.60"/><line x1="751.44" y1="1827.89" x2="754.35" y2="1835.88"/><line x1="757.46" y1="1824.42" x2="762.92" y2="1830.93"/><line x1="759.76" y1="1817.85" x2="773.61" y2="1825.85"/><line x1="764.30" y1="1812.57" x2="772.67" y2="1814.05"/></g>
<g stroke="#1c130b" stroke-width="3.6"><line x1="892.19" y1="1262.70" x2="906.04" y2="1254.70"/><line x1="886.86" y1="1257.88" x2="892.00" y2="1251.75"/><line x1="880.84" y1="1254.41" x2="883.58" y2="1246.89"/><line x1="874.00" y1="1252.20" x2="874.00" y2="1236.20"/><line x1="867.16" y1="1254.41" x2="864.42" y2="1246.89"/><line x1="861.14" y1="1257.88" x2="856.00" y2="1251.75"/><line x1="855.81" y1="1262.70" x2="841.96" y2="1254.70"/><line x1="854.30" y1="1269.73" x2="846.43" y2="1268.34"/><line x1="854.30" y1="1276.67" x2="846.43" y2="1278.06"/><line x1="855.81" y1="1283.70" x2="841.96" y2="1291.70"/></g><path d="M864.70,1310.00 A9.60,9.60 0 1 1 870.19,1292.52 A17.00,17.00 0 1 1 902.46,1282.43 A15.30,15.30 0 1 1 911.60,1310.00 Z" fill="#fff" stroke="#1c130b" stroke-width="3.6" stroke-linejoin="round"/>
<polygon points="900.6,1661.8 851.4,1689.8 873.4,1689.8 871.6,1714.4" fill="#1c130b"/>
<g stroke="#e9ab1e" stroke-width="3.4" stroke-linecap="butt"><line x1="901.80" y1="1805.63" x2="910.17" y2="1804.15"/><line x1="897.26" y1="1800.35" x2="911.11" y2="1792.35"/><line x1="894.96" y1="1793.78" x2="900.42" y2="1787.27"/><line x1="888.94" y1="1790.31" x2="891.85" y2="1782.32"/><line x1="882.10" y1="1791.60" x2="882.10" y2="1775.60"/><line x1="875.26" y1="1790.31" x2="872.35" y2="1782.32"/><line x1="869.24" y1="1793.78" x2="863.78" y2="1787.27"/><line x1="866.94" y1="1800.35" x2="853.09" y2="1792.35"/><line x1="862.40" y1="1805.63" x2="854.03" y2="1804.15"/><line x1="862.40" y1="1812.57" x2="854.03" y2="1814.05"/><line x1="866.94" y1="1817.85" x2="853.09" y2="1825.85"/><line x1="869.24" y1="1824.42" x2="863.78" y2="1830.93"/><line x1="875.26" y1="1827.89" x2="872.35" y2="1835.88"/><line x1="882.10" y1="1826.60" x2="882.10" y2="1842.60"/><line x1="888.94" y1="1827.89" x2="891.85" y2="1835.88"/><line x1="894.96" y1="1824.42" x2="900.42" y2="1830.93"/><line x1="897.26" y1="1817.85" x2="911.11" y2="1825.85"/><line x1="901.80" y1="1812.57" x2="910.17" y2="1814.05"/></g>
<g stroke="#1c130b" stroke-width="3.6"><line x1="1021.69" y1="1256.70" x2="1035.54" y2="1248.70"/><line x1="1016.36" y1="1251.88" x2="1021.50" y2="1245.75"/><line x1="1010.34" y1="1248.41" x2="1013.08" y2="1240.89"/><line x1="1003.50" y1="1246.20" x2="1003.50" y2="1230.20"/><line x1="996.66" y1="1248.41" x2="993.92" y2="1240.89"/><line x1="990.64" y1="1251.88" x2="985.50" y2="1245.75"/><line x1="985.31" y1="1256.70" x2="971.46" y2="1248.70"/><line x1="983.80" y1="1263.73" x2="975.93" y2="1262.34"/><line x1="983.80" y1="1270.67" x2="975.93" y2="1272.06"/><line x1="985.31" y1="1277.70" x2="971.46" y2="1285.70"/></g><path d="M994.20,1304.00 A9.60,9.60 0 1 1 999.69,1286.52 A17.00,17.00 0 1 1 1031.96,1276.43 A15.30,15.30 0 1 1 1041.10,1304.00 Z" fill="#fff" stroke="#1c130b" stroke-width="3.6" stroke-linejoin="round"/><path d="M1022.00,1308.50 C1014.50,1312.00 1008.70,1317.00 1008.70,1321.00 A6.80,6.80 0 0 0 1022.30,1321.00 C1022.30,1317.00 1022.30,1312.00 1022.00,1308.50 Z" fill="#1c130b"/>
<polygon points="1038.1,1661.8 988.9,1689.8 1010.9,1689.8 1009.1,1714.4" fill="#1c130b"/>
<g stroke="#e9ab1e" stroke-width="3.4" stroke-linecap="butt"><line x1="1039.30" y1="1805.63" x2="1047.67" y2="1804.15"/><line x1="1034.76" y1="1800.35" x2="1048.61" y2="1792.35"/><line x1="1032.46" y1="1793.78" x2="1037.92" y2="1787.27"/><line x1="1026.44" y1="1790.31" x2="1029.35" y2="1782.32"/><line x1="1019.60" y1="1791.60" x2="1019.60" y2="1775.60"/><line x1="1012.76" y1="1790.31" x2="1009.85" y2="1782.32"/><line x1="1006.74" y1="1793.78" x2="1001.28" y2="1787.27"/><line x1="1004.44" y1="1800.35" x2="990.59" y2="1792.35"/><line x1="999.90" y1="1805.63" x2="991.53" y2="1804.15"/><line x1="999.90" y1="1812.57" x2="991.53" y2="1814.05"/><line x1="1004.44" y1="1817.85" x2="990.59" y2="1825.85"/><line x1="1006.74" y1="1824.42" x2="1001.28" y2="1830.93"/><line x1="1012.76" y1="1827.89" x2="1009.85" y2="1835.88"/><line x1="1019.60" y1="1826.60" x2="1019.60" y2="1842.60"/><line x1="1026.44" y1="1827.89" x2="1029.35" y2="1835.88"/><line x1="1032.46" y1="1824.42" x2="1037.92" y2="1830.93"/><line x1="1034.76" y1="1817.85" x2="1048.61" y2="1825.85"/><line x1="1039.30" y1="1812.57" x2="1047.67" y2="1814.05"/></g>
<g stroke="#1c130b" stroke-width="3.6"><line x1="1159.19" y1="1256.70" x2="1173.04" y2="1248.70"/><line x1="1153.86" y1="1251.88" x2="1159.00" y2="1245.75"/><line x1="1147.84" y1="1248.41" x2="1150.58" y2="1240.89"/><line x1="1141.00" y1="1246.20" x2="1141.00" y2="1230.20"/><line x1="1134.16" y1="1248.41" x2="1131.42" y2="1240.89"/><line x1="1128.14" y1="1251.88" x2="1123.00" y2="1245.75"/><line x1="1122.81" y1="1256.70" x2="1108.96" y2="1248.70"/><line x1="1121.30" y1="1263.73" x2="1113.43" y2="1262.34"/><line x1="1121.30" y1="1270.67" x2="1113.43" y2="1272.06"/><line x1="1122.81" y1="1277.70" x2="1108.96" y2="1285.70"/></g><path d="M1131.70,1304.00 A9.60,9.60 0 1 1 1137.19,1286.52 A17.00,17.00 0 1 1 1169.46,1276.43 A15.30,15.30 0 1 1 1178.60,1304.00 Z" fill="#fff" stroke="#1c130b" stroke-width="3.6" stroke-linejoin="round"/><path d="M1159.50,1308.50 C1152.00,1312.00 1146.20,1317.00 1146.20,1321.00 A6.80,6.80 0 0 0 1159.80,1321.00 C1159.80,1317.00 1159.80,1312.00 1159.50,1308.50 Z" fill="#1c130b"/>
<polygon points="1183.9,1679.4 1128.0,1664.5 1140.1,1681.7 1126.6,1696.5" fill="#1c130b"/>
<g stroke="#e9ab1e" stroke-width="3.4" stroke-linecap="butt"><line x1="1176.80" y1="1805.63" x2="1185.17" y2="1804.15"/><line x1="1172.26" y1="1800.35" x2="1186.11" y2="1792.35"/><line x1="1169.96" y1="1793.78" x2="1175.42" y2="1787.27"/><line x1="1163.94" y1="1790.31" x2="1166.85" y2="1782.32"/><line x1="1157.10" y1="1791.60" x2="1157.10" y2="1775.60"/><line x1="1150.26" y1="1790.31" x2="1147.35" y2="1782.32"/><line x1="1144.24" y1="1793.78" x2="1138.78" y2="1787.27"/><line x1="1141.94" y1="1800.35" x2="1128.09" y2="1792.35"/><line x1="1137.40" y1="1805.63" x2="1129.03" y2="1804.15"/><line x1="1137.40" y1="1812.57" x2="1129.03" y2="1814.05"/><line x1="1141.94" y1="1817.85" x2="1128.09" y2="1825.85"/><line x1="1144.24" y1="1824.42" x2="1138.78" y2="1830.93"/><line x1="1150.26" y1="1827.89" x2="1147.35" y2="1835.88"/><line x1="1157.10" y1="1826.60" x2="1157.10" y2="1842.60"/><line x1="1163.94" y1="1827.89" x2="1166.85" y2="1835.88"/><line x1="1169.96" y1="1824.42" x2="1175.42" y2="1830.93"/><line x1="1172.26" y1="1817.85" x2="1186.11" y2="1825.85"/><line x1="1176.80" y1="1812.57" x2="1185.17" y2="1814.05"/></g>
<g stroke="#1c130b" stroke-width="3.6"><line x1="1296.69" y1="1256.70" x2="1310.54" y2="1248.70"/><line x1="1291.36" y1="1251.88" x2="1296.50" y2="1245.75"/><line x1="1285.34" y1="1248.41" x2="1288.08" y2="1240.89"/><line x1="1278.50" y1="1246.20" x2="1278.50" y2="1230.20"/><line x1="1271.66" y1="1248.41" x2="1268.92" y2="1240.89"/><line x1="1265.64" y1="1251.88" x2="1260.50" y2="1245.75"/><line x1="1260.31" y1="1256.70" x2="1246.46" y2="1248.70"/><line x1="1258.80" y1="1263.73" x2="1250.93" y2="1262.34"/><line x1="1258.80" y1="1270.67" x2="1250.93" y2="1272.06"/><line x1="1260.31" y1="1277.70" x2="1246.46" y2="1285.70"/></g><path d="M1269.20,1304.00 A9.60,9.60 0 1 1 1274.69,1286.52 A17.00,17.00 0 1 1 1306.96,1276.43 A15.30,15.30 0 1 1 1316.10,1304.00 Z" fill="#fff" stroke="#1c130b" stroke-width="3.6" stroke-linejoin="round"/><path d="M1297.00,1308.50 C1289.50,1312.00 1283.70,1317.00 1283.70,1321.00 A6.80,6.80 0 0 0 1297.30,1321.00 C1297.30,1317.00 1297.30,1312.00 1297.00,1308.50 Z" fill="#1c130b"/>
<polygon points="1321.4,1679.4 1265.5,1664.5 1277.6,1681.7 1264.1,1696.5" fill="#1c130b"/>
<g stroke="#e9ab1e" stroke-width="3.4" stroke-linecap="butt"><line x1="1314.30" y1="1805.63" x2="1322.67" y2="1804.15"/><line x1="1309.76" y1="1800.35" x2="1323.61" y2="1792.35"/><line x1="1307.46" y1="1793.78" x2="1312.92" y2="1787.27"/><line x1="1301.44" y1="1790.31" x2="1304.35" y2="1782.32"/><line x1="1294.60" y1="1791.60" x2="1294.60" y2="1775.60"/><line x1="1287.76" y1="1790.31" x2="1284.85" y2="1782.32"/><line x1="1281.74" y1="1793.78" x2="1276.28" y2="1787.27"/><line x1="1279.44" y1="1800.35" x2="1265.59" y2="1792.35"/><line x1="1274.90" y1="1805.63" x2="1266.53" y2="1804.15"/><line x1="1274.90" y1="1812.57" x2="1266.53" y2="1814.05"/><line x1="1279.44" y1="1817.85" x2="1265.59" y2="1825.85"/><line x1="1281.74" y1="1824.42" x2="1276.28" y2="1830.93"/><line x1="1287.76" y1="1827.89" x2="1284.85" y2="1835.88"/><line x1="1294.60" y1="1826.60" x2="1294.60" y2="1842.60"/><line x1="1301.44" y1="1827.89" x2="1304.35" y2="1835.88"/><line x1="1307.46" y1="1824.42" x2="1312.92" y2="1830.93"/><line x1="1309.76" y1="1817.85" x2="1323.61" y2="1825.85"/><line x1="1314.30" y1="1812.57" x2="1322.67" y2="1814.05"/></g>
<polygon points="1546.3,784.1 1533.7,784.3 1536.0,791.3" fill="#d9b532"/><polygon points="1537.6,772.1 1527.5,779.7 1533.5,784.0" fill="#d9b532"/><polygon points="1523.5,767.5 1519.8,779.6 1527.2,779.6" fill="#d9b532"/><polygon points="1509.4,772.1 1513.5,784.0 1519.5,779.7" fill="#d9b532"/><polygon points="1500.7,784.1 1511.0,791.3 1513.3,784.3" fill="#d9b532"/><path d="M1511.0,791.5 A12.5,12.5 0 0 1 1536.0,791.5 Z" fill="#e8c234" stroke="#f5eaa0" stroke-width="1.5"/><path d="M1513.5,791.5 A10,10 0 0 1 1533.5,791.5 Z" fill="#e6bd2a"/>
<path d="M1651,791.5 A18,18 0 0 1 1687,791.5 Z" fill="#e9932c"/>
<path d="M1656,791.5 A13,13 0 0 1 1682,791.5 Z" fill="#f0a43a"/>
<path d="M1661,791.5 A8,8 0 0 1 1677,791.5 Z" fill="#f3bd3e"/>
<polygon points="1512.6,813.9 1531.8,813.9 1522.2,800.8" fill="#1c130b"/>
<polygon points="1661.5,800.8 1680.1,800.8 1670.8,813.9" fill="#1c130b"/>
<polygon points="1512.6,996.7 1531.8,996.7 1522.2,983.6" fill="#1c130b"/>
<polygon points="1661.5,983.6 1680.1,983.6 1670.8,996.7" fill="#1c130b"/>
<clipPath id="mc1524"><rect x="1500.3" y="938.2" width="49.0" height="34.09999999999991"/></clipPath><g clip-path="url(#mc1524)"><circle cx="1524.8" cy="962.7" r="20.9" fill="none" stroke="#1c130b" stroke-width="1.3"/><path d="M1524.8,941.2 A21.5,21.5 0 0 0 1524.8,984.2 A7.739999999999999,21.5 0 0 0 1524.8,941.2 Z" fill="#1c130b"/></g>
<clipPath id="mc1669"><rect x="1645.1" y="938.2" width="49.0" height="34.09999999999991"/></clipPath><g clip-path="url(#mc1669)"><circle cx="1669.6" cy="962.7" r="20.9" fill="none" stroke="#1c130b" stroke-width="1.3"/><path d="M1669.6,941.2 A21.5,21.5 0 0 0 1669.6,984.2 A7.739999999999999,21.5 0 0 0 1669.6,941.2 Z" fill="#1c130b"/></g>
</svg>
<svg width="1845" height="2660" style="left:0;top:0" viewBox="0 0 1845 2660">
<defs><linearGradient id="zg" x1="700" y1="0" x2="880" y2="0" gradientUnits="userSpaceOnUse"><stop offset="0" stop-color="#8ec2ba"/><stop offset="0.38" stop-color="#8ec2ba"/><stop offset="0.5" stop-color="#b4ccac"/><stop offset="0.62" stop-color="#b4ccac"/><stop offset="0.72" stop-color="#adc572"/><stop offset="1" stop-color="#adc572"/></linearGradient><clipPath id="nlclip"><polygon points="949.0,535.4 940.5,561.0 932.0,586.5 925.6,616.3 917.0,650.4 908.5,682.4 900.0,714.3 894.7,732.0 880.8,752.9 876.7,760.0 853.0,784.2 825.2,798.1 818.4,808.9 824.1,831.4 835.3,848.3 854.1,855.9 869.2,861.5 888.0,870.9 906.8,880.3 925.6,874.7 931.2,872.8 925.6,880.3 897.4,887.8 880.5,891.6 859.8,899.1 835.3,902.9 816.5,916.0 831.6,923.5 846.6,932.9 854.1,938.6 865.4,944.2 869.2,951.7 880.5,959.2 884.2,966.8 880.5,976.2 888.0,978.0 889.8,963.0 906.8,953.6 931.2,946.1 950.0,940.5 959.4,948.0 955.6,959.2 950.0,963.0 966.9,968.6 982.0,957.4 1000.0,946.1 1006.0,978.9 1040.0,992.0 1053.6,1006.2 1062.6,1004.0 1073.9,999.4 1085.2,1010.7 1087.5,1024.3 1112.3,1035.6 1130.4,1046.9 1121.4,1058.2 1121.4,1074.0 1119.1,1092.1 1107.8,1105.7 1098.8,1126.0 1107.8,1137.3 1130.4,1144.1 1144.0,1146.4 1162.1,1139.6 1168.9,1128.3 1175.6,1110.2 1162.1,1080.8 1141.7,1074.0 1139.5,1062.7 1148.5,1046.9 1166.6,1042.4 1180.2,1035.6 1187.0,1024.3 1180.2,1006.2 1184.7,1001.7 1187.0,990.4 1196.0,972.3 1198.2,952.0 1196.0,933.9 1175.6,911.3 1177.9,897.7 1175.6,888.7 1157.6,870.6 1155.3,861.5 1153.0,848.0 1166.6,838.9 1184.7,843.5 1173.4,829.9 1180.2,827.6 1184.7,834.4 1211.8,838.9 1220.9,843.5 1232.2,836.7 1252.5,827.6 1279.6,825.4 1297.7,818.6 1302.2,805.0 1297.7,798.2 1279.6,786.9 1284.2,777.9 1290.9,766.6 1306.8,762.1 1320.3,757.6 1331.6,739.5 1338.3,730.4 1336.1,719.1 1336.1,696.5 1331.6,685.2 1324.8,669.4 1311.3,673.9 1284.2,662.6 1272.8,655.8 1275.1,646.8 1284.2,640.0 1288.0,618.6 1315.0,621.7 1336.1,612.6 1339.1,594.6 1348.1,570.5 1354.1,544.5 1357.1,508.4 1354.1,484.4 1357.1,466.3 1354.1,454.3 1333.1,451.3 1327.1,439.2 1303.0,427.2 1297.0,400.2 1291.0,392.6 1266.9,394.1 1248.9,400.2 1221.8,407.7 1200.8,410.7 1188.7,412.2 1161.7,413.7 1134.6,419.7 1104.5,430.2 1080.5,448.3 1068.4,469.3 1056.4,490.4 1050.4,508.4 1055.5,522.6 1051.3,543.9 1049.1,561.0 1061.9,569.5 1074.7,573.7 1089.6,569.5 1104.5,569.5 1108.8,573.7 1096.0,580.1 1087.5,599.3 1089.6,629.1 1100.3,636.6 1134.3,630.2 1155.6,624.4 1159.9,627.0 1159.9,629.6 1142.9,635.5 1130.1,641.9 1136.5,656.8 1132.2,671.7 1113.0,693.0 1081.1,710.1 1074.7,731.4 1059.8,735.6 1049.1,731.4 1032.1,716.5 1015.0,712.2 989.5,699.4 1002.3,684.5 1010.8,678.1 1006.5,673.9 998.0,671.7 1000.1,656.8 991.6,637.6 1002.3,627.0 1010.8,631.3 1021.4,629.1 1027.8,618.5 1038.5,610.0 1036.3,603.6 1021.4,597.2 1004.4,595.0 1006.5,575.9 998.0,546.0 953.3,535.4"/></clipPath></defs>
<polygon points="949.0,535.4 940.5,561.0 932.0,586.5 925.6,616.3 917.0,650.4 908.5,682.4 900.0,714.3 894.7,732.0 880.8,752.9 876.7,760.0 853.0,784.2 825.2,798.1 818.4,808.9 824.1,831.4 835.3,848.3 854.1,855.9 869.2,861.5 888.0,870.9 906.8,880.3 925.6,874.7 931.2,872.8 925.6,880.3 897.4,887.8 880.5,891.6 859.8,899.1 835.3,902.9 816.5,916.0 831.6,923.5 846.6,932.9 854.1,938.6 865.4,944.2 869.2,951.7 880.5,959.2 884.2,966.8 880.5,976.2 888.0,978.0 889.8,963.0 906.8,953.6 931.2,946.1 950.0,940.5 959.4,948.0 955.6,959.2 950.0,963.0 966.9,968.6 982.0,957.4 1000.0,946.1 1006.0,978.9 1040.0,992.0 1053.6,1006.2 1062.6,1004.0 1073.9,999.4 1085.2,1010.7 1087.5,1024.3 1112.3,1035.6 1130.4,1046.9 1121.4,1058.2 1121.4,1074.0 1119.1,1092.1 1107.8,1105.7 1098.8,1126.0 1107.8,1137.3 1130.4,1144.1 1144.0,1146.4 1162.1,1139.6 1168.9,1128.3 1175.6,1110.2 1162.1,1080.8 1141.7,1074.0 1139.5,1062.7 1148.5,1046.9 1166.6,1042.4 1180.2,1035.6 1187.0,1024.3 1180.2,1006.2 1184.7,1001.7 1187.0,990.4 1196.0,972.3 1198.2,952.0 1196.0,933.9 1175.6,911.3 1177.9,897.7 1175.6,888.7 1157.6,870.6 1155.3,861.5 1153.0,848.0 1166.6,838.9 1184.7,843.5 1173.4,829.9 1180.2,827.6 1184.7,834.4 1211.8,838.9 1220.9,843.5 1232.2,836.7 1252.5,827.6 1279.6,825.4 1297.7,818.6 1302.2,805.0 1297.7,798.2 1279.6,786.9 1284.2,777.9 1290.9,766.6 1306.8,762.1 1320.3,757.6 1331.6,739.5 1338.3,730.4 1336.1,719.1 1336.1,696.5 1331.6,685.2 1324.8,669.4 1311.3,673.9 1284.2,662.6 1272.8,655.8 1275.1,646.8 1284.2,640.0 1288.0,618.6 1315.0,621.7 1336.1,612.6 1339.1,594.6 1348.1,570.5 1354.1,544.5 1357.1,508.4 1354.1,484.4 1357.1,466.3 1354.1,454.3 1333.1,451.3 1327.1,439.2 1303.0,427.2 1297.0,400.2 1291.0,392.6 1266.9,394.1 1248.9,400.2 1221.8,407.7 1200.8,410.7 1188.7,412.2 1161.7,413.7 1134.6,419.7 1104.5,430.2 1080.5,448.3 1068.4,469.3 1056.4,490.4 1050.4,508.4 1055.5,522.6 1051.3,543.9 1049.1,561.0 1061.9,569.5 1074.7,573.7 1089.6,569.5 1104.5,569.5 1108.8,573.7 1096.0,580.1 1087.5,599.3 1089.6,629.1 1100.3,636.6 1134.3,630.2 1155.6,624.4 1159.9,627.0 1159.9,629.6 1142.9,635.5 1130.1,641.9 1136.5,656.8 1132.2,671.7 1113.0,693.0 1081.1,710.1 1074.7,731.4 1059.8,735.6 1049.1,731.4 1032.1,716.5 1015.0,712.2 989.5,699.4 1002.3,684.5 1010.8,678.1 1006.5,673.9 998.0,671.7 1000.1,656.8 991.6,637.6 1002.3,627.0 1010.8,631.3 1021.4,629.1 1027.8,618.5 1038.5,610.0 1036.3,603.6 1021.4,597.2 1004.4,595.0 1006.5,575.9 998.0,546.0 953.3,535.4" fill="#adc572"/>
<g clip-path="url(#nlclip)">
<polygon points="1222.0,440.0 1300.0,400.0 1370.0,450.0 1370.0,620.0 1232.0,616.0 1212.0,570.0 1200.0,528.0 1215.0,480.0" fill="#b4ccac"/>
<polygon points="1270.0,522.0 1291.0,495.0 1321.0,486.0 1360.0,489.0 1360.0,547.0 1321.0,544.0" fill="#8ec2ba"/>
<polygon points="1147.0,635.0 1190.0,667.0 1156.0,693.0 1136.0,665.0" fill="#b4ccac"/>
<polygon points="810.0,812.0 872.0,757.0 884.0,752.0 842.0,846.0 820.0,832.0" fill="#8ec2ba"/>
<polygon points="884.0,752.0 905.0,742.0 872.0,862.0 842.0,846.0" fill="#b4ccac"/>
<polygon points="1150.0,1074.0 1165.0,1078.0 1178.0,1110.0 1165.0,1148.0 1140.0,1150.0" fill="#b4ccac"/>
</g>
<polygon points="1013.5,697.5 1028.5,685.0 1062.0,651.5 1091.7,641.5 1113.0,643.5 1124.5,649.5 1128.0,663.2 1122.0,675.5 1107.8,689.5 1082.0,704.0 1075.0,725.0 1059.8,729.0 1048.0,723.5 1033.0,711.0 1016.0,700.0" fill="#adc572"/>
<polygon points="936.1,511.4 945.1,490.4 963.2,481.4 970.7,496.4 960.2,520.5 948.1,529.5 937.6,526.5" fill="#adc572" stroke="#adc572" stroke-width="3" stroke-linejoin="round"/>
<polygon points="966.2,466.3 984.2,451.3 1002.3,443.8 996.2,451.3 975.2,469.3" fill="#adc572" stroke="#adc572" stroke-width="3" stroke-linejoin="round"/>
<polygon points="1014.3,427.2 1029.3,418.2 1077.4,401.7 1080.5,406.2 1044.4,424.2 1020.3,434.7" fill="#adc572" stroke="#adc572" stroke-width="3" stroke-linejoin="round"/>
<polygon points="1089.5,403.2 1110.5,398.6 1143.6,394.1 1146.6,398.6 1122.6,404.7 1092.5,409.2" fill="#adc572" stroke="#adc572" stroke-width="3" stroke-linejoin="round"/>
<polygon points="1173.7,391.1 1188.7,385.1 1206.8,383.6 1209.8,386.6 1188.7,392.6 1176.7,398.6" fill="#adc572" stroke="#adc572" stroke-width="3" stroke-linejoin="round"/>
<polygon points="1221.8,373.1 1233.8,371.6 1236.8,374.6 1224.8,377.6" fill="#adc572" stroke="#adc572" stroke-width="3" stroke-linejoin="round"/>
<polygon points="1244.0,372.0 1250.0,371.0 1251.0,374.0 1245.0,375.0" fill="#adc572" stroke="#adc572" stroke-width="3" stroke-linejoin="round"/>
<polygon points="824.1,859.6 842.9,861.5 865.4,874.7 876.7,887.8 869.2,893.5 850.4,891.6 831.6,882.2 822.2,870.9" fill="url(#zg)"/>
<polygon points="792.1,852.1 809.0,844.6 820.3,846.5 824.1,857.7 812.8,859.6 797.7,857.7" fill="url(#zg)"/>
<polygon points="760.2,880.3 778.9,872.8 805.3,872.8 816.5,884.1 829.7,891.6 827.8,901.0 809.0,904.7 794.0,895.3 763.9,893.5" fill="url(#zg)"/>
<polygon points="754.5,912.3 786.5,908.5 792.1,916.0 788.3,921.7 760.2,923.5" fill="url(#zg)"/>
<polygon points="718.8,927.3 741.4,916.0 756.4,919.8 778.9,925.4 797.7,929.2 816.5,934.8 827.8,949.8 846.6,955.5 863.5,951.7 865.4,959.2 831.6,963.0 805.3,953.6 782.7,959.2 775.2,966.8 741.4,957.4 730.1,948.0 720.7,936.7" fill="url(#zg)"/>
<polygon points="703.8,974.3 726.3,966.8 752.6,972.4 775.2,981.8 805.3,974.3 812.8,966.8 831.6,981.8 848.5,978.0 852.3,985.6 835.3,1002.5 805.3,1010.0 778.9,1017.5 756.4,1008.1 730.1,1008.1 711.3,1002.5 703.8,985.6" fill="url(#zg)"/>
<rect x="707.0" y="1071.1" width="53.3" height="15.6" fill="#adc572"/>
<rect x="760.0" y="1071.1" width="53.3" height="15.6" fill="#b3ceab"/>
<rect x="813.0" y="1071.1" width="53.3" height="15.6" fill="#8ec5b9"/>
<rect x="866.0" y="1071.1" width="53.3" height="15.6" fill="#8fb6da"/>
<rect x="919.0" y="1071.1" width="53.3" height="15.6" fill="#a39bcb"/>
<rect x="972.0" y="1071.1" width="53.3" height="15.6" fill="#8d7db8"/>
<circle cx="1132.9" cy="463.3" r="6.2" fill="#1c130b"/>
<circle cx="1274.4" cy="454.3" r="6.2" fill="#1c130b"/>
<circle cx="1177" cy="653.1" r="6.2" fill="#1c130b"/>
<circle cx="976.4" cy="696.6" r="6.2" fill="#1c130b"/>
<circle cx="1026.1" cy="759.9" r="6.2" fill="#1c130b"/>
<circle cx="856.5" cy="808.5" r="6.2" fill="#1c130b"/>
<circle cx="921.1" cy="846.1" r="6.2" fill="#1c130b"/>
<circle cx="967" cy="912.2" r="6.2" fill="#1c130b"/>
<circle cx="746.2" cy="928.8" r="6.2" fill="#1c130b"/>
<circle cx="1092.9" cy="946.9" r="6.2" fill="#1c130b"/>
<circle cx="1157.6" cy="813.1" r="6.2" fill="#1c130b"/>
<circle cx="1114.5" cy="1099.9" r="6.2" fill="#1c130b"/>
<g stroke="#1c130b" stroke-width="3.6"><line x1="963.29" y1="569.70" x2="977.14" y2="561.70"/><line x1="957.96" y1="564.88" x2="963.10" y2="558.75"/><line x1="951.94" y1="561.41" x2="954.68" y2="553.89"/><line x1="945.10" y1="559.20" x2="945.10" y2="543.20"/><line x1="938.26" y1="561.41" x2="935.52" y2="553.89"/><line x1="932.24" y1="564.88" x2="927.10" y2="558.75"/><line x1="926.91" y1="569.70" x2="913.06" y2="561.70"/><line x1="925.40" y1="576.73" x2="917.53" y2="575.34"/><line x1="925.40" y1="583.67" x2="917.53" y2="585.06"/><line x1="926.91" y1="590.70" x2="913.06" y2="598.70"/></g><path d="M935.80,617.00 A9.60,9.60 0 1 1 941.29,599.52 A17.00,17.00 0 1 1 973.56,589.43 A15.30,15.30 0 1 1 982.70,617.00 Z" fill="none" stroke="#1c130b" stroke-width="3.6" stroke-linejoin="round"/>
<g stroke="#1c130b" stroke-width="3.6"><line x1="1208.49" y1="496.70" x2="1222.34" y2="488.70"/><line x1="1203.16" y1="491.88" x2="1208.30" y2="485.75"/><line x1="1197.14" y1="488.41" x2="1199.88" y2="480.89"/><line x1="1190.30" y1="486.20" x2="1190.30" y2="470.20"/><line x1="1183.46" y1="488.41" x2="1180.72" y2="480.89"/><line x1="1177.44" y1="491.88" x2="1172.30" y2="485.75"/><line x1="1172.11" y1="496.70" x2="1158.26" y2="488.70"/><line x1="1170.60" y1="503.73" x2="1162.73" y2="502.34"/><line x1="1170.60" y1="510.67" x2="1162.73" y2="512.06"/><line x1="1172.11" y1="517.70" x2="1158.26" y2="525.70"/></g><path d="M1181.00,544.00 A9.60,9.60 0 1 1 1186.49,526.52 A17.00,17.00 0 1 1 1218.76,516.43 A15.30,15.30 0 1 1 1227.90,544.00 Z" fill="none" stroke="#1c130b" stroke-width="3.6" stroke-linejoin="round"/><path d="M1208.80,548.50 C1201.30,552.00 1195.50,557.00 1195.50,561.00 A6.80,6.80 0 0 0 1209.10,561.00 C1209.10,557.00 1209.10,552.00 1208.80,548.50 Z" fill="#1c130b"/>
<g stroke="#1c130b" stroke-width="3.6"><line x1="1266.19" y1="712.50" x2="1280.04" y2="704.50"/><line x1="1260.86" y1="707.68" x2="1266.00" y2="701.55"/><line x1="1254.84" y1="704.21" x2="1257.58" y2="696.69"/><line x1="1248.00" y1="702.00" x2="1248.00" y2="686.00"/><line x1="1241.16" y1="704.21" x2="1238.42" y2="696.69"/><line x1="1235.14" y1="707.68" x2="1230.00" y2="701.55"/><line x1="1229.81" y1="712.50" x2="1215.96" y2="704.50"/><line x1="1228.30" y1="719.53" x2="1220.43" y2="718.14"/><line x1="1228.30" y1="726.47" x2="1220.43" y2="727.86"/><line x1="1229.81" y1="733.50" x2="1215.96" y2="741.50"/></g><path d="M1238.70,759.80 A9.60,9.60 0 1 1 1244.19,742.32 A17.00,17.00 0 1 1 1276.46,732.23 A15.30,15.30 0 1 1 1285.60,759.80 Z" fill="none" stroke="#1c130b" stroke-width="3.6" stroke-linejoin="round"/><path d="M1266.50,764.30 C1259.00,767.80 1253.20,772.80 1253.20,776.80 A6.80,6.80 0 0 0 1266.80,776.80 C1266.80,772.80 1266.80,767.80 1266.50,764.30 Z" fill="#1c130b"/>
<g stroke="#1c130b" stroke-width="3.6"><line x1="790.59" y1="821.90" x2="804.44" y2="813.90"/><line x1="785.26" y1="817.08" x2="790.40" y2="810.95"/><line x1="779.24" y1="813.61" x2="781.98" y2="806.09"/><line x1="772.40" y1="811.40" x2="772.40" y2="795.40"/><line x1="765.56" y1="813.61" x2="762.82" y2="806.09"/><line x1="759.54" y1="817.08" x2="754.40" y2="810.95"/><line x1="754.21" y1="821.90" x2="740.36" y2="813.90"/><line x1="752.70" y1="828.93" x2="744.83" y2="827.54"/><line x1="752.70" y1="835.87" x2="744.83" y2="837.26"/><line x1="754.21" y1="842.90" x2="740.36" y2="850.90"/></g><path d="M763.10,869.20 A9.60,9.60 0 1 1 768.59,851.72 A17.00,17.00 0 1 1 800.86,841.63 A15.30,15.30 0 1 1 810.00,869.20 Z" fill="none" stroke="#1c130b" stroke-width="3.6" stroke-linejoin="round"/><path d="M790.90,873.70 C783.40,877.20 777.60,882.20 777.60,886.20 A6.80,6.80 0 0 0 791.20,886.20 C791.20,882.20 791.20,877.20 790.90,873.70 Z" fill="#1c130b"/>
<g stroke="#1c130b" stroke-width="3.6"><line x1="1049.59" y1="825.00" x2="1063.44" y2="817.00"/><line x1="1044.26" y1="820.18" x2="1049.40" y2="814.05"/><line x1="1038.24" y1="816.71" x2="1040.98" y2="809.19"/><line x1="1031.40" y1="814.50" x2="1031.40" y2="798.50"/><line x1="1024.56" y1="816.71" x2="1021.82" y2="809.19"/><line x1="1018.54" y1="820.18" x2="1013.40" y2="814.05"/><line x1="1013.21" y1="825.00" x2="999.36" y2="817.00"/><line x1="1011.70" y1="832.03" x2="1003.83" y2="830.64"/><line x1="1011.70" y1="838.97" x2="1003.83" y2="840.36"/><line x1="1013.21" y1="846.00" x2="999.36" y2="854.00"/></g><path d="M1022.10,872.30 A9.60,9.60 0 1 1 1027.59,854.82 A17.00,17.00 0 1 1 1059.86,844.73 A15.30,15.30 0 1 1 1069.00,872.30 Z" fill="none" stroke="#1c130b" stroke-width="3.6" stroke-linejoin="round"/>
<g stroke="#1c130b" stroke-width="3.6"><line x1="1163.29" y1="998.50" x2="1177.14" y2="990.50"/><line x1="1157.96" y1="993.68" x2="1163.10" y2="987.55"/><line x1="1151.94" y1="990.21" x2="1154.68" y2="982.69"/><line x1="1145.10" y1="988.00" x2="1145.10" y2="972.00"/><line x1="1138.26" y1="990.21" x2="1135.52" y2="982.69"/><line x1="1132.24" y1="993.68" x2="1127.10" y2="987.55"/><line x1="1126.91" y1="998.50" x2="1113.06" y2="990.50"/><line x1="1125.40" y1="1005.53" x2="1117.53" y2="1004.14"/><line x1="1125.40" y1="1012.47" x2="1117.53" y2="1013.86"/><line x1="1126.91" y1="1019.50" x2="1113.06" y2="1027.50"/></g><path d="M1135.80,1045.80 A9.60,9.60 0 1 1 1141.29,1028.32 A17.00,17.00 0 1 1 1173.56,1018.23 A15.30,15.30 0 1 1 1182.70,1045.80 Z" fill="none" stroke="#1c130b" stroke-width="3.6" stroke-linejoin="round"/>
<polygon points="846.0,600.0 796.7,627.7 818.2,627.7 817.5,652.8" fill="#1c130b"/>
</svg>
<div class="t" style="top:469.38px;font-size:16.5px;line-height:16.5px;left:1087.70px;">Leeuwarden</div>
<div class="t" style="top:462.78px;font-size:16.5px;line-height:16.5px;left:1238.30px;">Groningen</div>
<div class="t" style="top:644.98px;font-size:16.5px;line-height:16.5px;left:1188.50px;">Zwolle</div>
<div class="t" style="top:704.08px;font-size:16.5px;line-height:16.5px;left:931.20px;">Amsterdam</div>
<div class="t" style="top:752.08px;font-size:16.5px;line-height:16.5px;left:1037.30px;">Utrecht</div>
<div class="t" style="top:783.38px;font-size:16.5px;line-height:16.5px;left:851.30px;">Den Haag</div>
<div class="t" style="top:855.38px;font-size:16.5px;line-height:16.5px;left:877.30px;">Rotterdam</div>
<div class="t" style="top:884.18px;font-size:16.5px;line-height:16.5px;left:957.30px;">Breda</div>
<div class="t" style="top:937.08px;font-size:16.5px;line-height:16.5px;left:709.40px;">Middelburg</div>
<div class="t" style="top:918.77px;font-size:16.5px;line-height:16.5px;left:1050.50px;">Eindhoven</div>
<div class="t" style="top:784.77px;font-size:16.5px;line-height:16.5px;left:1152.70px;">Arnhem</div>
<div class="t" style="top:1071.97px;font-size:16.5px;line-height:16.5px;left:1081.80px;">Maastricht</div>
<div class="t" style="top:590.70px;font-size:24px;line-height:24px;font-weight:700;left:1194.70px;">4/14</div>
<div class="t" style="top:656.90px;font-size:24px;line-height:24px;font-weight:700;left:933.10px;">6/15</div>
<div class="t" style="top:756.80px;font-size:24px;line-height:24px;font-weight:700;left:1146.10px;">5/15</div>
<div class="t" style="top:901.00px;font-size:24px;line-height:24px;font-weight:700;left:861.70px;">9/15</div>
<div class="t" style="top:944.60px;font-size:24px;line-height:24px;font-weight:700;left:1123.50px;">5/14</div>
<div class="t" style="top:635.95px;font-size:23px;line-height:23px;font-weight:700;left:798.40px;">2</div>
<div class="t" style="top:1047.85px;font-size:15px;line-height:15px;font-style:italic;left:708.70px;">Neerslag</div>
<div class="t" style="top:1091.35px;font-size:15px;line-height:15px;left:733.00px;">0,5 mm</div>
<div class="t" style="top:1091.35px;font-size:15px;line-height:15px;left:815.80px;transform:translateX(-50%);transform-origin:center top;">1</div>
<div class="t" style="top:1091.35px;font-size:15px;line-height:15px;left:868.00px;transform:translateX(-50%);transform-origin:center top;">2</div>
<div class="t" style="top:1091.35px;font-size:15px;line-height:15px;left:919.70px;transform:translateX(-50%);transform-origin:center top;">4</div>
<div class="t" style="top:1091.35px;font-size:15px;line-height:15px;left:978.20px;transform:translateX(-50%);transform-origin:center top;">&gt;8</div>
<svg width="1845" height="2660" style="left:0;top:0" viewBox="0 0 1845 2660">
<defs><clipPath id="eum"><rect x="688" y="1911.5" width="674.5" height="652.5"/></clipPath>
<clipPath id="land">
<polygon points="1108.0,1911.5 1095.0,1928.0 1083.0,1938.0 1077.0,1955.0 1073.0,1978.0 1068.0,1993.0 1058.0,2010.0 1045.0,2025.0 1030.0,2035.0 1010.0,2040.0 1006.0,2060.0 1007.5,2090.0 1011.3,2115.2 1022.6,2121.5 1040.0,2117.7 1050.0,2107.7 1060.0,2097.7 1067.7,2101.5 1065.2,2130.3 1077.7,2145.3 1080.2,2157.8 1089.0,2164.1 1075.0,2172.0 1065.0,2172.0 1060.2,2170.4 1055.2,2160.4 1057.7,2147.8 1045.1,2141.6 1031.4,2145.3 1033.9,2157.8 1040.1,2170.4 1035.0,2180.0 1030.0,2186.0 1015.0,2196.0 1007.0,2202.0 994.0,2212.0 982.0,2222.0 971.0,2231.0 964.0,2242.0 950.0,2256.0 933.9,2264.5 921.0,2260.2 910.2,2266.6 892.9,2273.1 884.3,2268.8 888.6,2281.7 901.5,2292.5 910.2,2301.1 916.6,2316.2 918.8,2333.5 921.0,2350.7 914.5,2361.5 901.5,2364.7 880.0,2361.5 858.4,2359.3 836.9,2355.0 815.3,2352.9 808.9,2359.3 806.7,2376.6 802.4,2389.5 798.1,2402.4 791.6,2419.7 787.3,2436.9 791.6,2454.2 806.7,2456.3 824.0,2465.0 841.2,2469.2 858.4,2467.1 880.0,2458.5 892.9,2454.2 903.7,2445.5 908.0,2432.6 905.8,2424.0 914.5,2415.4 920.9,2400.3 929.6,2393.8 944.6,2389.5 957.6,2385.2 966.2,2380.9 977.0,2372.3 987.8,2367.9 1005.0,2367.9 1020.1,2361.5 1030.0,2357.2 1050.2,2346.0 1068.0,2354.9 1083.6,2368.3 1099.2,2383.9 1112.6,2395.1 1126.0,2406.2 1134.9,2419.6 1141.6,2435.2 1143.8,2446.4 1152.8,2439.7 1155.0,2426.3 1166.1,2417.4 1172.8,2408.5 1163.9,2399.5 1152.8,2392.8 1148.3,2383.9 1134.9,2375.0 1121.5,2363.8 1108.1,2348.2 1099.2,2334.8 1094.8,2328.1 1105.9,2328.1 1121.5,2337.1 1139.4,2354.9 1161.7,2370.5 1179.5,2381.7 1188.5,2399.5 1195.1,2417.4 1201.8,2430.8 1210.8,2448.6 1224.1,2453.1 1233.1,2444.1 1228.6,2430.8 1237.5,2417.4 1228.6,2404.0 1233.1,2390.6 1246.4,2386.1 1250.9,2381.7 1266.5,2372.8 1282.1,2368.3 1284.4,2386.1 1279.9,2404.0 1286.6,2421.8 1308.9,2430.8 1333.4,2426.3 1351.3,2430.8 1366.0,2426.3 1366.0,1911.5"/>
<polygon points="752.8,2564.0 757.1,2527.4 783.0,2510.2 808.9,2499.4 815.3,2484.3 836.9,2480.0 858.4,2495.0 890.8,2493.0 923.1,2488.6 944.6,2477.9 987.8,2475.7 1010.0,2470.9 1032.3,2468.7 1054.6,2470.9 1070.2,2475.4 1065.8,2497.7 1076.9,2520.0 1099.2,2528.9 1132.7,2533.4 1166.1,2542.3 1188.5,2537.8 1221.9,2520.0 1255.4,2513.3 1288.8,2515.5 1322.3,2520.0 1366.0,2515.5 1366.0,2564.0"/>
<polygon points="793.8,1955.4 815.3,1957.6 832.6,1963.0 849.8,1964.0 862.7,1972.7 868.1,1982.4 862.7,1994.2 845.5,2000.7 823.9,2006.1 806.7,1998.5 791.6,1989.9 798.1,1979.1 789.5,1966.2"/>
<polygon points="845.5,2168.8 858.4,2159.1 875.7,2160.2 890.8,2166.6 895.1,2179.6 884.3,2194.7 871.4,2207.6 854.1,2214.1 836.9,2218.4 834.7,2203.3 841.2,2188.2"/>
<polygon points="901.5,2112.8 923.0,2108.0 937.0,2126.0 928.0,2145.0 937.0,2162.0 944.0,2186.0 958.0,2200.0 960.0,2220.0 957.0,2240.0 930.0,2241.0 902.0,2240.0 878.0,2246.0 886.0,2232.0 905.0,2218.0 897.0,2205.0 888.0,2190.0 897.0,2173.0 908.0,2156.0 905.0,2134.0 899.0,2119.0"/>
<polygon points="1041.0,2373.0 1050.0,2370.0 1054.0,2385.0 1048.0,2395.0 1042.0,2388.0"/>
<polygon points="1037.0,2404.0 1050.0,2402.0 1053.0,2420.0 1049.0,2439.0 1038.0,2437.0 1036.0,2420.0"/>
<polygon points="1096.0,2446.0 1130.0,2444.0 1124.0,2462.0 1104.0,2461.0"/>
<polygon points="1258.0,2466.0 1300.0,2463.0 1298.0,2472.0 1262.0,2475.0"/>
<polygon points="1315.0,2447.0 1330.0,2444.0 1325.0,2452.0"/>
<polygon points="1128.0,2116.0 1138.0,2113.0 1140.0,2128.0 1131.0,2133.0"/>
<polygon points="1116.0,2131.0 1121.0,2129.0 1122.0,2144.0 1116.0,2145.0"/>
</clipPath></defs>
<g clip-path="url(#eum)">
<rect x="688" y="1911.5" width="674.5" height="652.5" fill="#b0cbe2"/>
<g clip-path="url(#land)">
<rect x="688" y="1911.5" width="674.5" height="652.5" fill="#a5be46"/>
<polygon points="1000.0,1911.0 1366.0,1911.0 1366.0,2050.0 1300.0,2055.0 1265.0,2078.0 1252.0,2130.0 1235.0,2150.0 1200.0,2152.0 1178.0,2128.0 1150.0,2092.0 1120.0,2062.0 1095.0,2080.0 1062.0,2098.0 1030.0,2122.0 1000.0,2122.0" fill="#89b556"/>
<polygon points="880.0,2100.0 945.0,2100.0 945.0,2175.0 880.0,2175.0" fill="#89b556"/>
<polygon points="780.0,1950.0 875.0,1950.0 875.0,2010.0 780.0,2010.0" fill="#89b556"/>
<polygon points="1244.0,2012.0 1280.0,1990.0 1330.0,1975.0 1366.0,1968.0 1366.0,2032.0 1320.0,2042.0 1270.0,2046.0 1250.0,2032.0" fill="#6fb597"/>
<polygon points="1083.0,1985.0 1100.0,1980.0 1104.0,2020.0 1090.0,2025.0" fill="#6fb597"/>
<ellipse cx="830" cy="1988" rx="13" ry="9" fill="#6fb597"/>
<polygon points="1005.0,2062.0 1025.0,2068.0 1028.0,2098.0 1005.0,2100.0" fill="#6fb597"/>
<polygon points="820.0,2185.0 900.0,2195.0 960.0,2205.0 998.5,2230.0 987.8,2240.8 977.0,2262.3 974.8,2294.7 961.9,2320.5 938.2,2335.6 923.1,2350.7 933.9,2363.6 966.2,2368.0 998.5,2359.3 1030.0,2352.0 1043.5,2337.1 1076.9,2328.1 1110.4,2323.7 1143.8,2296.9 1166.1,2274.6 1188.5,2252.3 1204.0,2235.0 1210.8,2224.7 1221.9,2204.7 1233.0,2186.8 1246.4,2157.8 1250.9,2142.2 1266.5,2128.8 1300.0,2122.1 1333.4,2117.7 1366.0,2104.0 1366.0,2564.0 688.0,2564.0 688.0,2185.0" fill="#f0d246"/>
<polygon points="824.0,2359.3 836.9,2350.0 880.0,2357.0 901.5,2361.0 918.8,2380.9 912.3,2400.3 895.1,2402.4 890.8,2391.7 869.2,2380.9 836.9,2378.7 824.0,2372.3" fill="#a5be46"/>
<polygon points="788.0,2395.0 830.0,2386.0 870.0,2392.0 880.0,2420.0 872.0,2470.0 788.0,2470.0" fill="#ebb455"/>
<polygon points="1366.0,2130.0 1320.0,2160.0 1290.0,2200.0 1260.0,2230.0 1230.0,2270.0 1210.0,2300.0 1190.0,2330.0 1160.0,2360.0 1130.0,2380.0 1110.0,2400.0 1150.0,2460.0 1366.0,2460.0" fill="#ebb455"/>
<polygon points="1366.0,2160.0 1330.0,2200.0 1290.0,2250.0 1255.0,2290.0 1230.0,2330.0 1215.0,2380.0 1220.0,2470.0 1366.0,2470.0" fill="#e2964f"/>
<polygon points="1110.0,2395.0 1140.0,2390.0 1170.0,2410.0 1150.0,2450.0 1110.0,2450.0" fill="#e2964f"/>
<polygon points="688.0,2470.0 1366.0,2470.0 1366.0,2564.0 688.0,2564.0" fill="#e2964f"/>
<polygon points="755.0,2530.0 790.0,2505.0 830.0,2490.0 870.0,2500.0 930.0,2490.0 980.0,2485.0 990.0,2500.0 940.0,2520.0 880.0,2530.0 820.0,2545.0 770.0,2564.0 752.0,2564.0" fill="#ebb455"/>
<ellipse cx="800" cy="2536" rx="22" ry="10" fill="#e2964f"/>
<polygon points="1040.0,2472.0 1068.0,2478.0 1080.0,2520.0 1130.0,2530.0 1190.0,2534.0 1230.0,2518.0 1290.0,2510.0 1366.0,2505.0 1366.0,2564.0 1022.0,2564.0 1030.0,2530.0 1030.0,2500.0" fill="#de705c"/>
</g>
<polygon points="1141.6,1979.4 1126.0,2001.7 1115.0,2030.0 1115.3,2051.3 1112.8,2063.9 1121.6,2076.4 1127.8,2089.0 1115.3,2095.2 1112.8,2107.7 1114.0,2126.5 1109.0,2145.3 1096.5,2160.4 1089.0,2166.0 1084.0,2182.9 1100.3,2185.4 1115.3,2174.1 1140.4,2167.9 1152.9,2166.6 1165.4,2157.8 1162.0,2140.0 1170.0,2127.0 1164.0,2113.0 1171.0,2095.0 1188.0,2077.0 1211.0,2073.0 1224.0,2062.0 1211.0,2055.0 1180.0,2064.0 1153.0,2077.0 1144.0,2042.0 1153.0,2008.0 1166.0,1979.0" fill="#b0cbe2"/>
<polygon points="1273.0,1911.5 1297.0,1911.5 1290.0,1938.0 1283.0,1966.0 1260.0,1981.0 1240.0,1977.0 1224.0,1963.0 1233.0,1948.0 1255.4,1955.0 1277.7,1950.0" fill="#b0cbe2"/>
<polygon points="1293.0,2262.0 1340.0,2256.0 1366.0,2255.0 1366.0,2372.0 1345.0,2378.0 1318.0,2382.0 1296.0,2376.0 1288.0,2350.0 1283.0,2300.0" fill="#b0cbe2"/>
<polygon points="1128.0,2116.0 1138.0,2113.0 1140.0,2128.0 1131.0,2133.0" fill="#a5be46"/>
<polygon points="1116.0,2131.0 1121.0,2129.0 1122.0,2144.0 1116.0,2145.0" fill="#a5be46"/>
<polyline points="903.0,2364.0 923.0,2370.0 945.0,2381.0 966.0,2381.0" fill="none" stroke="#ffffff" stroke-width="1.3" stroke-linejoin="round"/>
<polyline points="806.7,2378.7 813.2,2398.1 824.0,2415.4 819.6,2436.9 817.5,2456.3" fill="none" stroke="#ffffff" stroke-width="1.3" stroke-linejoin="round"/>
<polyline points="969.4,2238.3 988.2,2230.8 1012.6,2225.2 1010.8,2247.7 1016.4,2266.5 1035.2,2272.2 1031.4,2292.9 1008.9,2315.4" fill="none" stroke="#ffffff" stroke-width="1.3" stroke-linejoin="round"/>
<polyline points="1031.4,2292.9 1035.2,2294.7 1072.8,2296.6 1095.3,2289.1 1129.2,2292.9 1140.5,2281.6 1148.0,2272.2" fill="none" stroke="#ffffff" stroke-width="1.3" stroke-linejoin="round"/>
<polyline points="1099.0,2187.6 1106.6,2212.0 1110.4,2230.8 1106.6,2232.7" fill="none" stroke="#ffffff" stroke-width="1.3" stroke-linejoin="round"/>
<polyline points="1084.0,2247.7 1106.6,2232.7 1129.2,2238.3 1148.0,2244.0 1159.2,2255.3 1140.5,2266.5 1116.0,2264.7 1102.9,2277.8 1091.6,2270.3 1084.0,2247.7" fill="none" stroke="#ffffff" stroke-width="1.3" stroke-linejoin="round"/>
<polyline points="1195.0,2170.7 1204.4,2198.9 1215.6,2221.4 1204.4,2244.0 1208.0,2255.3 1190.0,2270.0 1159.2,2255.3" fill="none" stroke="#ffffff" stroke-width="1.3" stroke-linejoin="round"/>
<polyline points="1140.5,2266.5 1148.0,2278.0 1167.0,2272.0 1190.0,2257.0 1200.0,2252.0" fill="none" stroke="#ffffff" stroke-width="1.3" stroke-linejoin="round"/>
<polyline points="1129.2,2292.9 1140.0,2305.0 1160.0,2310.0 1185.0,2315.0 1210.0,2300.0 1240.0,2290.0" fill="none" stroke="#ffffff" stroke-width="1.3" stroke-linejoin="round"/>
<polyline points="1211.0,2073.0 1230.0,2100.0 1250.0,2140.0 1245.0,2170.0 1260.0,2200.0" fill="none" stroke="#ffffff" stroke-width="1.3" stroke-linejoin="round"/>
<polyline points="1130.0,1911.5 1120.0,1935.0 1105.0,1960.0 1092.0,1990.0 1085.0,2020.0 1070.0,2031.0 1068.0,2039.0 1073.0,2061.0 1076.5,2070.0 1072.7,2082.7 1075.0,2095.0 1070.0,2105.0" fill="none" stroke="#ffffff" stroke-width="1.3" stroke-linejoin="round"/>
<polyline points="1153.0,1911.5 1142.0,1928.0 1146.0,1950.0 1150.0,1979.0" fill="none" stroke="#ffffff" stroke-width="1.3" stroke-linejoin="round"/>
<polyline points="1177.3,1911.5 1170.6,1921.4 1188.5,1952.6 1199.6,1981.6 1210.8,1992.8 1228.6,2010.6 1224.1,2032.9 1210.8,2059.7" fill="none" stroke="#ffffff" stroke-width="1.3" stroke-linejoin="round"/>
<polyline points="1188.0,2252.0 1220.0,2280.0 1250.0,2290.0 1290.0,2262.0" fill="none" stroke="#ffffff" stroke-width="1.3" stroke-linejoin="round"/>
<polyline points="1150.0,2330.0 1180.0,2350.0 1230.0,2340.0 1260.0,2340.0" fill="none" stroke="#ffffff" stroke-width="1.3" stroke-linejoin="round"/>
<polyline points="1190.0,2360.0 1230.0,2380.0 1250.0,2382.0" fill="none" stroke="#ffffff" stroke-width="1.3" stroke-linejoin="round"/>
<polyline points="1039.0,2473.0 1030.0,2498.0 1043.5,2520.0 1041.0,2564.0" fill="none" stroke="#ffffff" stroke-width="1.3" stroke-linejoin="round"/>
<polyline points="888.6,2499.4 897.2,2542.5 880.0,2564.0" fill="none" stroke="#ffffff" stroke-width="1.3" stroke-linejoin="round"/>
<polyline points="1288.8,2515.5 1302.2,2542.3 1300.0,2564.0" fill="none" stroke="#ffffff" stroke-width="1.3" stroke-linejoin="round"/>
<polyline points="1060.0,2346.0 1080.0,2330.0 1095.0,2328.0" fill="none" stroke="#ffffff" stroke-width="1.3" stroke-linejoin="round"/>
<path d="M688.2,1923.1 C698.6,1921.1 727.7,1912.3 750.7,1911.2 C773.7,1910.2 805.3,1911.4 826.1,1916.6 C846.9,1921.8 864.5,1931.0 875.7,1942.5 C886.8,1954.0 892.2,1971.9 892.9,1985.6 C893.6,1999.2 883.9,2014.3 880.0,2024.4 C876.0,2034.5 871.4,2036.6 869.2,2045.9 C867.1,2055.3 868.9,2068.9 867.1,2080.4 C865.3,2091.9 865.3,2105.6 858.4,2114.9 C851.6,2124.3 837.6,2132.5 826.1,2136.5 C814.6,2140.4 802.0,2139.7 789.5,2138.6 C776.9,2137.6 762.5,2134.0 750.7,2130.0 C738.8,2126.1 728.7,2118.9 718.3,2114.9 C707.9,2111.0 693.2,2107.7 688.2,2106.3" fill="none" stroke="#1c130b" stroke-width="1.5"/>
<path d="M688.2,1972.7 C693.2,1969.4 706.1,1957.8 718.3,1953.3 C730.5,1948.8 749.9,1946.4 761.4,1945.7 C772.9,1945.0 777.6,1945.2 787.3,1949.0 C797.0,1952.7 811.0,1958.3 819.6,1968.4 C828.3,1978.4 835.4,1994.2 839.0,2009.3 C842.6,2024.4 843.7,2044.1 841.2,2058.9 C838.7,2073.6 832.9,2090.3 823.9,2097.7 C815.0,2105.0 799.5,2103.1 787.3,2103.1 C775.1,2103.1 762.2,2100.0 750.7,2097.7 C739.2,2095.3 728.7,2092.6 718.3,2089.1 C707.9,2085.5 693.2,2078.3 688.2,2076.1" fill="none" stroke="#1c130b" stroke-width="1.5"/>
<path d="M703.2,2028.7 C705.0,2023.3 707.9,2004.6 714.0,1996.4 C720.1,1988.1 730.9,1982.5 739.9,1979.1 C748.9,1975.7 758.9,1974.1 767.9,1975.9 C776.9,1977.7 786.2,1982.5 793.8,1989.9 C801.3,1997.3 809.4,2010.0 813.2,2020.1 C816.9,2030.1 818.2,2042.4 816.4,2050.3 C814.6,2058.2 809.8,2063.9 802.4,2067.5 C795.0,2071.1 782.6,2071.8 772.2,2071.8 C761.8,2071.8 749.9,2070.4 739.9,2067.5 C729.8,2064.6 718.0,2061.0 711.9,2054.6 C705.8,2048.1 704.7,2033.0 703.2,2028.7" fill="none" stroke="#1c130b" stroke-width="1.5"/>
<path d="M723.7,2026.5 C725.7,2023.3 730.0,2011.1 735.6,2007.1 C741.1,2003.2 749.9,2002.1 757.1,2002.8 C764.3,2003.6 774.4,2007.1 778.7,2011.5 C783.0,2015.8 783.7,2023.0 783.0,2028.7 C782.3,2034.5 779.4,2042.2 774.4,2045.9 C769.3,2049.7 760.0,2051.7 752.8,2051.3 C745.6,2051.0 736.1,2047.9 731.3,2043.8 C726.4,2039.7 725.0,2029.4 723.7,2026.5" fill="none" stroke="#1c130b" stroke-width="1.5"/>
<path d="M688.2,2159.1 C696.8,2159.6 722.3,2161.4 739.9,2162.3 C757.5,2163.2 777.6,2166.3 793.8,2164.5 C809.9,2162.7 824.3,2156.9 836.9,2151.6 C849.5,2146.2 860.2,2141.9 869.2,2132.2 C878.2,2122.5 883.9,2108.5 890.8,2093.4 C897.6,2078.3 903.0,2057.1 910.2,2041.6 C917.3,2026.2 924.5,2008.2 933.9,2000.7 C943.2,1993.1 956.5,2001.0 966.2,1996.4 C975.9,1991.7 987.0,1981.6 992.1,1972.7 C997.1,1963.7 999.6,1952.7 996.4,1942.5 C993.1,1932.2 976.6,1916.4 972.7,1911.2" fill="none" stroke="#1c130b" stroke-width="1.5"/>
<path d="M688.2,2188.2 C698.6,2189.3 732.3,2194.3 750.7,2194.7 C769.0,2195.0 781.9,2196.5 798.1,2190.4 C814.2,2184.3 834.0,2167.0 847.7,2158.0 C861.3,2149.0 874.6,2140.1 880.0,2136.5" fill="none" stroke="#1c130b" stroke-width="1.5"/>
<path d="M688.2,2235.6 C695.0,2235.8 715.1,2236.0 729.1,2236.7 C743.1,2237.4 765.0,2239.4 772.2,2239.9" fill="none" stroke="#1c130b" stroke-width="1.5"/>
<path d="M1021.2,1911.2 C1023.5,1916.1 1032.8,1935.5 1035.2,1940.3" fill="none" stroke="#1c130b" stroke-width="1.5"/>
<path d="M688.2,2265.6 C692.1,2266.5 705.0,2266.1 711.9,2271.0 C718.7,2275.8 725.9,2279.9 729.1,2294.7 C732.3,2309.4 729.5,2327.0 731.3,2359.3 C733.1,2391.7 740.2,2463.5 739.9,2488.6 C739.5,2513.8 734.9,2503.0 729.1,2510.2 C723.4,2517.4 709.4,2528.2 705.4,2531.8" fill="none" stroke="#1c130b" stroke-width="1.5"/>
<path d="M780.8,2239.7 C785.1,2241.3 801.7,2242.0 806.7,2249.4 C811.7,2256.8 813.2,2269.2 811.0,2283.9 C808.9,2298.6 799.2,2321.6 793.8,2337.8 C788.4,2353.9 780.8,2366.5 778.7,2380.9 C776.5,2395.2 777.6,2411.4 780.8,2424.0 C784.1,2436.6 791.6,2445.5 798.1,2456.3 C804.5,2467.1 813.9,2477.9 819.6,2488.6 C825.4,2499.4 830.1,2508.4 832.6,2521.0 C835.1,2533.6 834.4,2556.9 834.7,2564.1" fill="none" stroke="#1c130b" stroke-width="1.5"/>
<path d="M864.9,2230.0 C862.4,2240.8 853.0,2273.1 849.8,2294.7 C846.6,2316.2 844.8,2337.8 845.5,2359.3 C846.2,2380.9 850.2,2404.2 854.1,2424.0 C858.1,2443.7 863.1,2465.3 869.2,2477.9 C875.3,2490.4 878.2,2494.4 890.8,2499.4 C903.3,2504.5 928.8,2504.1 944.6,2508.0 C960.5,2512.0 976.6,2513.8 985.6,2523.1 C994.6,2532.5 996.4,2557.3 998.5,2564.1" fill="none" stroke="#1c130b" stroke-width="1.5"/>
<path d="M914.5,2230.0 C913.8,2240.8 910.2,2273.1 910.2,2294.7 C910.2,2316.2 910.5,2339.6 914.5,2359.3 C918.4,2379.1 927.0,2399.6 933.9,2413.2 C940.7,2426.9 944.6,2436.2 955.4,2441.2 C966.2,2446.3 986.1,2444.1 998.5,2443.4 C1011.0,2442.7 1024.8,2438.0 1030.0,2436.9" fill="none" stroke="#1c130b" stroke-width="1.5"/>
<path d="M1010.0,2352.7 C1013.7,2346.4 1023.0,2322.9 1032.3,2314.8 C1041.6,2306.6 1055.4,2304.4 1065.8,2303.6 C1076.2,2302.9 1089.2,2305.5 1094.8,2310.3 C1100.3,2315.1 1102.2,2323.7 1099.2,2332.6 C1096.3,2341.5 1086.2,2356.4 1076.9,2363.8 C1067.6,2371.3 1053.1,2375.7 1043.5,2377.2 C1033.8,2378.7 1024.5,2375.0 1018.9,2372.8 C1013.3,2370.5 1011.5,2365.3 1010.0,2363.8" fill="none" stroke="#1c130b" stroke-width="1.5"/>
<path d="M1010.0,2441.9 C1017.4,2440.1 1039.7,2436.3 1054.6,2430.8 C1069.5,2425.2 1084.4,2417.7 1099.2,2408.5 C1114.1,2399.2 1129.0,2385.0 1143.8,2375.0 C1158.7,2365.0 1173.6,2356.4 1188.5,2348.2 C1203.3,2340.0 1218.2,2334.5 1233.1,2325.9 C1247.9,2317.4 1268.8,2307.3 1277.7,2296.9 C1286.6,2286.5 1284.4,2274.6 1286.6,2263.5 C1288.8,2252.3 1290.3,2235.6 1291.1,2230.0" fill="none" stroke="#1c130b" stroke-width="1.5"/>
<path d="M1139.4,2486.5 C1141.6,2479.1 1144.6,2453.4 1152.8,2441.9 C1160.9,2430.4 1175.1,2424.4 1188.5,2417.4 C1201.8,2410.3 1218.2,2404.7 1233.1,2399.5 C1247.9,2394.3 1262.8,2393.6 1277.7,2386.1 C1292.5,2378.7 1311.9,2369.8 1322.3,2354.9 C1332.7,2340.0 1338.3,2317.7 1340.1,2296.9 C1342.0,2276.1 1334.6,2241.2 1333.4,2230.0" fill="none" stroke="#1c130b" stroke-width="1.5"/>
<path d="M1141.6,2486.5 C1145.0,2492.1 1150.2,2512.2 1161.7,2520.0 C1173.2,2527.8 1195.1,2533.4 1210.8,2533.4 C1226.4,2533.4 1240.5,2523.3 1255.4,2520.0 C1270.2,2516.6 1281.5,2510.3 1300.0,2513.3 C1318.4,2516.3 1355.0,2533.7 1366.0,2537.8" fill="none" stroke="#1c130b" stroke-width="1.5"/>
<path d="M1018.9,1911.3 C1021.2,1918.2 1024.5,1938.3 1032.3,1952.6 C1040.1,1966.9 1054.6,1983.1 1065.8,1997.2 C1076.9,2011.4 1088.1,2029.9 1099.2,2037.4 C1110.4,2044.8 1121.5,2043.3 1132.7,2041.8 C1143.8,2040.4 1153.1,2032.5 1166.1,2028.5 C1179.2,2024.4 1192.2,2019.5 1210.8,2017.3 C1229.3,2015.1 1251.8,2014.0 1277.7,2015.1 C1303.6,2016.2 1351.3,2022.5 1366.0,2024.0" fill="none" stroke="#1c130b" stroke-width="1.5"/>
<path d="M1010.0,2146.7 C1021.2,2142.2 1056.5,2131.4 1076.9,2119.9 C1097.4,2108.4 1117.8,2087.2 1132.7,2077.5 C1147.6,2067.9 1153.1,2064.9 1166.1,2061.9 C1179.2,2058.9 1197.7,2057.8 1210.8,2059.7 C1223.8,2061.5 1237.2,2064.9 1244.2,2073.1 C1251.3,2081.2 1253.1,2095.4 1253.1,2108.8 C1253.1,2122.1 1243.8,2138.5 1244.2,2153.4 C1244.6,2168.2 1247.9,2183.6 1255.4,2198.0 C1262.8,2212.4 1283.3,2232.9 1288.8,2239.9" fill="none" stroke="#1c130b" stroke-width="1.5"/>
<path d="M1116.0,1911.3 C1117.6,1915.6 1119.5,1928.3 1126.0,1937.0 C1132.5,1945.7 1142.7,1956.7 1155.0,1963.8 C1167.3,1970.8 1182.9,1975.3 1199.6,1979.4 C1216.3,1983.5 1227.6,1985.7 1255.4,1988.3 C1283.1,1990.9 1347.6,1993.9 1366.0,1995.0" fill="none" stroke="#1c130b" stroke-width="1.5"/>
<path d="M1214.1,1911.3 C1217.3,1914.5 1222.5,1924.2 1233.1,1930.3 C1243.7,1936.4 1255.5,1942.8 1277.7,1948.2 C1299.8,1953.5 1351.3,1960.2 1366.0,1962.7" fill="none" stroke="#1c130b" stroke-width="1.5"/>
<path d="M1295.5,1911.3 C1300.0,1913.4 1310.5,1919.7 1322.3,1923.6 C1334.0,1927.5 1358.7,1932.9 1366.0,1934.8" fill="none" stroke="#1c130b" stroke-width="1.5"/>
<path d="M1362.4,2108.8 C1355.8,2112.5 1331.6,2119.9 1322.3,2131.1 C1313.0,2142.2 1310.4,2157.5 1306.7,2175.7 C1303.0,2193.8 1301.1,2229.2 1300.0,2239.9" fill="none" stroke="#1c130b" stroke-width="1.5"/>
<path d="M772.2,2034.1 C775.8,2035.7 788.0,2038.9 793.8,2043.8 C799.5,2048.6 805.6,2056.4 806.7,2063.2 C807.8,2070.0 803.5,2077.6 800.2,2084.7 C797.0,2091.9 794.5,2100.2 787.3,2106.3 C780.1,2112.4 773.7,2118.0 757.1,2121.4 C740.6,2124.8 699.7,2125.9 688.2,2126.8" fill="none" stroke="#1c130b" stroke-width="3.4" stroke-linecap="round"/><path d="M780.7,2037.9 A12.0,12.0 0 0 1 802.6,2047.7 Z" fill="#1c130b"/><polygon points="805.4,2067.7 800.3,2084.6 816.5,2080.2" fill="#1c130b"/><polygon points="759.0,2121.2 741.5,2122.6 751.3,2136.2" fill="#1c130b"/>
<path d="M784.0,2106.0 C785.6,2112.5 792.0,2131.3 793.8,2145.0 C795.6,2158.7 795.9,2174.7 794.8,2188.0 C793.7,2201.3 791.8,2215.6 787.3,2224.8 C782.8,2234.0 776.5,2236.9 767.9,2243.0 C759.3,2249.1 741.0,2258.2 735.6,2261.3" fill="none" stroke="#1c130b" stroke-width="3.4" stroke-linecap="round"/><path d="M789.9,2129.5 A12.0,12.0 0 0 1 795.7,2152.7 Z" fill="#1c130b"/><path d="M794.1,2218.4 A12.0,12.0 0 0 0 776.6,2234.8 Z" fill="#1c130b"/>
<path d="M945.7,1947.9 C949.1,1950.1 958.5,1957.0 966.2,1960.8 C973.9,1964.6 984.7,1968.1 992.0,1970.5 C999.3,1972.9 1003.7,1972.0 1010.0,1975.0 C1016.3,1978.0 1023.5,1983.1 1030.0,1988.3 C1036.5,1993.5 1045.8,2003.1 1049.0,2006.1" fill="none" stroke="#1c130b" stroke-width="3.4" stroke-linecap="round"/><polygon points="970.9,1962.6 987.3,1968.7 984.1,1952.3" fill="#1c130b"/><polygon points="1020.7,1982.1 1035.3,1991.8 1035.9,1975.1" fill="#1c130b"/>
<path d="M886.5,2445.5 C893.6,2444.1 912.7,2440.9 929.6,2436.9 C946.4,2433.0 971.0,2426.5 987.8,2421.8 C1004.5,2417.2 1023.0,2411.1 1030.0,2408.9" fill="none" stroke="#1c130b" stroke-width="3.4" stroke-linecap="round"/><polygon points="903.7,2442.1 920.9,2438.6 915.1,2454.4" fill="#1c130b"/><polygon points="992.0,2420.5 1008.8,2415.4 1004.6,2431.6" fill="#1c130b"/>
<path d="M1010.0,2415.1 C1017.4,2412.0 1040.5,2404.0 1054.6,2396.2 C1068.7,2388.4 1084.7,2374.8 1094.8,2368.3 C1104.8,2361.8 1111.5,2359.0 1114.8,2357.1" fill="none" stroke="#1c130b" stroke-width="3.4" stroke-linecap="round"/><polygon points="1019.7,2411.0 1035.9,2404.1 1022.3,2394.4" fill="#1c130b"/><polygon points="1093.1,2369.2 1108.5,2360.7 1093.8,2352.5" fill="#1c130b"/>
<path d="M1010.0,2346.0 C1013.3,2343.0 1022.6,2332.2 1030.1,2328.1 C1037.5,2324.1 1043.1,2321.8 1054.6,2321.5 C1066.1,2321.1 1084.4,2325.2 1099.2,2325.9 C1114.1,2326.7 1129.0,2328.9 1143.8,2325.9 C1158.7,2322.9 1173.6,2315.9 1188.5,2308.1 C1203.3,2300.3 1218.2,2287.3 1233.1,2279.1 C1247.9,2270.9 1262.8,2263.3 1277.7,2259.0 C1292.5,2254.7 1307.6,2254.2 1322.3,2253.4 C1337.0,2252.7 1358.7,2254.4 1366.0,2254.5" fill="none" stroke="#1c130b" stroke-width="3.4" stroke-linecap="round"/><path d="M1011.1,2345.0 A12.0,12.0 0 0 1 1029.0,2329.1 Z" fill="#1c130b"/><polygon points="1036.3,2326.4 1053.3,2321.8 1041.0,2310.3" fill="#1c130b"/><path d="M1109.5,2325.9 A12.0,12.0 0 0 1 1133.5,2325.9 Z" fill="#1c130b"/><polygon points="1185.5,2310.0 1200.3,2300.4 1200.7,2317.2" fill="#1c130b"/><path d="M1279.2,2258.8 A12.0,12.0 0 0 1 1303.0,2255.8 Z" fill="#1c130b"/><path d="M1345.3,2254.0 A12.0,12.0 0 0 1 1369.3,2254.6 Z" fill="#1c130b"/>
<path d="M1291.1,2057.5 C1296.3,2054.5 1309.8,2045.6 1322.3,2039.6 C1334.8,2033.7 1358.7,2024.7 1366.0,2021.8" fill="none" stroke="#1c130b" stroke-width="3.4" stroke-linecap="round"/><path d="M1307.2,2048.2 A12.0,12.0 0 0 1 1328.0,2036.3 Z" fill="#1c130b"/>
<path d="M793.96,1955.38 A4.61,4.61 0 1 1 796.59,1946.99 A8.16,8.16 0 1 1 812.08,1942.15 A7.34,7.34 0 1 1 816.47,1955.38 Z" fill="none" stroke="#1c130b" stroke-width="2.0" stroke-linejoin="round"/><path d="M799.62,1956.92 C796.98,1958.36 795.16,1959.80 795.16,1961.24 A2.30,2.30 0 0 0 799.77,1961.24 C799.77,1959.80 799.77,1958.36 799.62,1956.92 Z" fill="#1c130b"/><path d="M805.38,1956.92 C802.74,1958.36 800.92,1959.80 800.92,1961.24 A2.30,2.30 0 0 0 805.53,1961.24 C805.53,1959.80 805.53,1958.36 805.38,1956.92 Z" fill="#1c130b"/><path d="M811.14,1956.92 C808.50,1958.36 806.68,1959.80 806.68,1961.24 A2.30,2.30 0 0 0 811.29,1961.24 C811.29,1959.80 811.29,1958.36 811.14,1956.92 Z" fill="#1c130b"/>
<g stroke="#1c130b" stroke-width="2.0"><line x1="1043.99" y1="2043.51" x2="1050.64" y2="2039.67"/><line x1="1041.43" y1="2041.20" x2="1043.90" y2="2038.25"/><line x1="1038.55" y1="2039.53" x2="1039.86" y2="2035.92"/><line x1="1035.26" y1="2038.47" x2="1035.26" y2="2030.79"/><line x1="1031.98" y1="2039.53" x2="1030.67" y2="2035.92"/><line x1="1029.09" y1="2041.20" x2="1026.62" y2="2038.25"/><line x1="1026.53" y1="2043.51" x2="1019.88" y2="2039.67"/><line x1="1025.81" y1="2046.88" x2="1022.03" y2="2046.22"/><line x1="1025.81" y1="2050.22" x2="1022.03" y2="2050.88"/><line x1="1026.53" y1="2053.59" x2="1019.88" y2="2057.43"/></g><path d="M1030.80,2066.21 A4.61,4.61 0 1 1 1033.43,2057.82 A8.16,8.16 0 1 1 1048.93,2052.98 A7.34,7.34 0 1 1 1053.31,2066.21 Z" fill="none" stroke="#1c130b" stroke-width="2.0" stroke-linejoin="round"/>
<path d="M1092.20,2043.10 A4.61,4.61 0 1 1 1094.84,2034.71 A8.16,8.16 0 1 1 1110.33,2029.87 A7.34,7.34 0 1 1 1114.71,2043.10 Z" fill="none" stroke="#1c130b" stroke-width="2.0" stroke-linejoin="round"/><path d="M1097.87,2044.64 C1095.23,2046.08 1093.40,2047.52 1093.40,2048.96 A2.30,2.30 0 0 0 1098.01,2048.96 C1098.01,2047.52 1098.01,2046.08 1097.87,2044.64 Z" fill="#1c130b"/><path d="M1103.63,2044.64 C1100.99,2046.08 1099.16,2047.52 1099.16,2048.96 A2.30,2.30 0 0 0 1103.77,2048.96 C1103.77,2047.52 1103.77,2046.08 1103.63,2044.64 Z" fill="#1c130b"/><path d="M1109.39,2044.64 C1106.75,2046.08 1104.92,2047.52 1104.92,2048.96 A2.30,2.30 0 0 0 1109.53,2048.96 C1109.53,2047.52 1109.53,2046.08 1109.39,2044.64 Z" fill="#1c130b"/>
<g stroke="#1c130b" stroke-width="2.0"><line x1="1232.59" y1="1933.86" x2="1239.24" y2="1930.02"/><line x1="1230.03" y1="1931.55" x2="1232.50" y2="1928.60"/><line x1="1227.14" y1="1929.88" x2="1228.46" y2="1926.27"/><line x1="1223.86" y1="1928.82" x2="1223.86" y2="1921.14"/><line x1="1220.58" y1="1929.88" x2="1219.26" y2="1926.27"/><line x1="1217.69" y1="1931.55" x2="1215.22" y2="1928.60"/><line x1="1215.13" y1="1933.86" x2="1208.48" y2="1930.02"/><line x1="1214.41" y1="1937.23" x2="1210.62" y2="1936.57"/><line x1="1214.41" y1="1940.57" x2="1210.62" y2="1941.23"/><line x1="1215.13" y1="1943.94" x2="1208.48" y2="1947.78"/></g><path d="M1219.40,1956.56 A4.61,4.61 0 1 1 1222.03,1948.17 A8.16,8.16 0 1 1 1237.52,1943.33 A7.34,7.34 0 1 1 1241.91,1956.56 Z" fill="none" stroke="#1c130b" stroke-width="2.0" stroke-linejoin="round"/>
<g stroke="#1c130b" stroke-width="2.0"><line x1="1120.75" y1="1965.88" x2="1127.40" y2="1962.04"/><line x1="1118.19" y1="1963.56" x2="1120.66" y2="1960.62"/><line x1="1115.30" y1="1961.90" x2="1116.61" y2="1958.29"/><line x1="1112.02" y1="1960.84" x2="1112.02" y2="1953.16"/><line x1="1108.73" y1="1961.90" x2="1107.42" y2="1958.29"/><line x1="1105.85" y1="1963.56" x2="1103.38" y2="1960.62"/><line x1="1103.29" y1="1965.88" x2="1096.64" y2="1962.04"/><line x1="1102.56" y1="1969.25" x2="1098.78" y2="1968.58"/><line x1="1102.56" y1="1972.58" x2="1098.78" y2="1973.25"/><line x1="1103.29" y1="1975.96" x2="1096.64" y2="1979.80"/></g><path d="M1107.55,1988.58 A4.61,4.61 0 1 1 1110.19,1980.19 A8.16,8.16 0 1 1 1125.68,1975.35 A7.34,7.34 0 1 1 1130.07,1988.58 Z" fill="none" stroke="#1c130b" stroke-width="2.0" stroke-linejoin="round"/>
<path d="M1175.54,2010.21 A4.61,4.61 0 1 1 1178.17,2001.82 A8.16,8.16 0 1 1 1193.66,1996.97 A7.34,7.34 0 1 1 1198.05,2010.21 Z" fill="none" stroke="#1c130b" stroke-width="2.0" stroke-linejoin="round"/><path d="M1181.20,2011.74 C1178.56,2013.18 1176.74,2014.62 1176.74,2016.06 A2.30,2.30 0 0 0 1181.34,2016.06 C1181.34,2014.62 1181.34,2013.18 1181.20,2011.74 Z" fill="#1c130b"/><path d="M1186.96,2011.74 C1184.32,2013.18 1182.50,2014.62 1182.50,2016.06 A2.30,2.30 0 0 0 1187.10,2016.06 C1187.10,2014.62 1187.10,2013.18 1186.96,2011.74 Z" fill="#1c130b"/><path d="M1192.72,2011.74 C1190.08,2013.18 1188.26,2014.62 1188.26,2016.06 A2.30,2.30 0 0 0 1192.86,2016.06 C1192.86,2014.62 1192.86,2013.18 1192.72,2011.74 Z" fill="#1c130b"/>
<path d="M1269.83,2032.14 A4.61,4.61 0 1 1 1272.47,2023.75 A8.16,8.16 0 1 1 1287.96,2018.90 A7.34,7.34 0 1 1 1292.35,2032.14 Z" fill="none" stroke="#1c130b" stroke-width="2.0" stroke-linejoin="round"/><path d="M1275.50,2033.67 C1272.86,2035.11 1271.03,2036.55 1271.03,2037.99 A2.30,2.30 0 0 0 1275.64,2037.99 C1275.64,2036.55 1275.64,2035.11 1275.50,2033.67 Z" fill="#1c130b"/><path d="M1281.26,2033.67 C1278.62,2035.11 1276.79,2036.55 1276.79,2037.99 A2.30,2.30 0 0 0 1281.40,2037.99 C1281.40,2036.55 1281.40,2035.11 1281.26,2033.67 Z" fill="#1c130b"/><path d="M1287.02,2033.67 C1284.38,2035.11 1282.55,2036.55 1282.55,2037.99 A2.30,2.30 0 0 0 1287.16,2037.99 C1287.16,2036.55 1287.16,2035.11 1287.02,2033.67 Z" fill="#1c130b"/>
<g stroke="#1c130b" stroke-width="2.0"><line x1="1206.27" y1="2072.02" x2="1212.92" y2="2068.18"/><line x1="1203.71" y1="2069.70" x2="1206.18" y2="2066.76"/><line x1="1200.83" y1="2068.04" x2="1202.14" y2="2064.43"/><line x1="1197.54" y1="2066.98" x2="1197.54" y2="2059.30"/><line x1="1194.26" y1="2068.04" x2="1192.95" y2="2064.43"/><line x1="1191.37" y1="2069.70" x2="1188.90" y2="2066.76"/><line x1="1188.81" y1="2072.02" x2="1182.16" y2="2068.18"/><line x1="1188.09" y1="2075.39" x2="1184.31" y2="2074.72"/><line x1="1188.09" y1="2078.73" x2="1184.31" y2="2079.39"/><line x1="1188.81" y1="2082.10" x2="1182.16" y2="2085.94"/></g><path d="M1193.08,2094.72 A4.61,4.61 0 1 1 1195.71,2086.33 A8.16,8.16 0 1 1 1211.21,2081.49 A7.34,7.34 0 1 1 1215.59,2094.72 Z" fill="none" stroke="#1c130b" stroke-width="2.0" stroke-linejoin="round"/>
<path d="M1250.10,2111.09 A4.61,4.61 0 1 1 1252.73,2102.70 A8.16,8.16 0 1 1 1268.22,2097.85 A7.34,7.34 0 1 1 1272.61,2111.09 Z" fill="none" stroke="#1c130b" stroke-width="2.0" stroke-linejoin="round"/><path d="M1255.76,2112.62 C1253.12,2114.06 1251.30,2115.50 1251.30,2116.94 A2.30,2.30 0 0 0 1255.91,2116.94 C1255.91,2115.50 1255.91,2114.06 1255.76,2112.62 Z" fill="#1c130b"/><path d="M1261.52,2112.62 C1258.88,2114.06 1257.06,2115.50 1257.06,2116.94 A2.30,2.30 0 0 0 1261.67,2116.94 C1261.67,2115.50 1261.67,2114.06 1261.52,2112.62 Z" fill="#1c130b"/><path d="M1267.28,2112.62 C1264.64,2114.06 1262.82,2115.50 1262.82,2116.94 A2.30,2.30 0 0 0 1267.43,2116.94 C1267.43,2115.50 1267.43,2114.06 1267.28,2112.62 Z" fill="#1c130b"/>
<g stroke="#1c130b" stroke-width="2.0"><line x1="1085.66" y1="2109.30" x2="1092.31" y2="2105.46"/><line x1="1083.10" y1="2106.98" x2="1085.57" y2="2104.04"/><line x1="1080.21" y1="2105.32" x2="1081.53" y2="2101.71"/><line x1="1076.93" y1="2104.26" x2="1076.93" y2="2096.58"/><line x1="1073.65" y1="2105.32" x2="1072.33" y2="2101.71"/><line x1="1070.76" y1="2106.98" x2="1068.29" y2="2104.04"/><line x1="1068.20" y1="2109.30" x2="1061.55" y2="2105.46"/><line x1="1067.48" y1="2112.67" x2="1063.69" y2="2112.01"/><line x1="1067.48" y1="2116.01" x2="1063.69" y2="2116.67"/><line x1="1068.20" y1="2119.38" x2="1061.55" y2="2123.22"/></g><path d="M1072.47,2132.00 A4.61,4.61 0 1 1 1075.10,2123.61 A8.16,8.16 0 1 1 1090.59,2118.77 A7.34,7.34 0 1 1 1094.98,2132.00 Z" fill="none" stroke="#1c130b" stroke-width="2.0" stroke-linejoin="round"/>
<g stroke="#1c130b" stroke-width="2.0"><line x1="1190.92" y1="2145.70" x2="1197.57" y2="2141.86"/><line x1="1188.36" y1="2143.39" x2="1190.83" y2="2140.45"/><line x1="1185.48" y1="2141.72" x2="1186.79" y2="2138.11"/><line x1="1182.19" y1="2140.66" x2="1182.19" y2="2132.98"/><line x1="1178.91" y1="2141.72" x2="1177.60" y2="2138.11"/><line x1="1176.02" y1="2143.39" x2="1173.55" y2="2140.45"/><line x1="1173.46" y1="2145.70" x2="1166.81" y2="2141.86"/><line x1="1172.74" y1="2149.08" x2="1168.96" y2="2148.41"/><line x1="1172.74" y1="2152.41" x2="1168.96" y2="2153.08"/><line x1="1173.46" y1="2155.78" x2="1166.81" y2="2159.62"/></g><path d="M1177.73,2168.41 A4.61,4.61 0 1 1 1180.36,2160.02 A8.16,8.16 0 1 1 1195.85,2155.17 A7.34,7.34 0 1 1 1200.24,2168.41 Z" fill="none" stroke="#1c130b" stroke-width="2.0" stroke-linejoin="round"/><path d="M1191.07,2170.57 C1187.47,2172.25 1184.69,2174.65 1184.69,2176.57 A3.26,3.26 0 0 0 1191.22,2176.57 C1191.22,2174.65 1191.22,2172.25 1191.07,2170.57 Z" fill="#1c130b"/>
<g stroke="#1c130b" stroke-width="2.0"><line x1="1326.89" y1="2124.65" x2="1333.54" y2="2120.81"/><line x1="1324.33" y1="2122.34" x2="1326.80" y2="2119.39"/><line x1="1321.44" y1="2120.67" x2="1322.75" y2="2117.06"/><line x1="1318.16" y1="2119.61" x2="1318.16" y2="2111.93"/><line x1="1314.87" y1="2120.67" x2="1313.56" y2="2117.06"/><line x1="1311.99" y1="2122.34" x2="1309.52" y2="2119.39"/><line x1="1309.43" y1="2124.65" x2="1302.78" y2="2120.81"/><line x1="1308.70" y1="2128.02" x2="1304.92" y2="2127.36"/><line x1="1308.70" y1="2131.36" x2="1304.92" y2="2132.02"/><line x1="1309.43" y1="2134.73" x2="1302.78" y2="2138.57"/></g><path d="M1313.69,2147.35 A4.61,4.61 0 1 1 1316.33,2138.96 A8.16,8.16 0 1 1 1331.82,2134.12 A7.34,7.34 0 1 1 1336.21,2147.35 Z" fill="none" stroke="#1c130b" stroke-width="2.0" stroke-linejoin="round"/><path d="M1327.04,2149.51 C1323.44,2151.19 1320.65,2153.59 1320.65,2155.51 A3.26,3.26 0 0 0 1327.18,2155.51 C1327.18,2153.59 1327.18,2151.19 1327.04,2149.51 Z" fill="#1c130b"/>
<g stroke="#1c130b" stroke-width="2.0"><line x1="870.75" y1="2145.70" x2="877.40" y2="2141.86"/><line x1="868.19" y1="2143.39" x2="870.66" y2="2140.45"/><line x1="865.30" y1="2141.72" x2="866.61" y2="2138.11"/><line x1="862.02" y1="2140.66" x2="862.02" y2="2132.98"/><line x1="858.73" y1="2141.72" x2="857.42" y2="2138.11"/><line x1="855.85" y1="2143.39" x2="853.38" y2="2140.45"/><line x1="853.29" y1="2145.70" x2="846.64" y2="2141.86"/><line x1="852.56" y1="2149.08" x2="848.78" y2="2148.41"/><line x1="852.56" y1="2152.41" x2="848.78" y2="2153.08"/><line x1="853.29" y1="2155.78" x2="846.64" y2="2159.62"/></g><path d="M857.55,2168.41 A4.61,4.61 0 1 1 860.19,2160.02 A8.16,8.16 0 1 1 875.68,2155.17 A7.34,7.34 0 1 1 880.07,2168.41 Z" fill="none" stroke="#1c130b" stroke-width="2.0" stroke-linejoin="round"/>
<g stroke="#1c130b" stroke-width="2.0"><line x1="927.76" y1="2172.90" x2="934.42" y2="2169.06"/><line x1="925.21" y1="2170.58" x2="927.67" y2="2167.64"/><line x1="922.32" y1="2168.91" x2="923.63" y2="2165.31"/><line x1="919.04" y1="2167.86" x2="919.04" y2="2160.18"/><line x1="915.75" y1="2168.91" x2="914.44" y2="2165.31"/><line x1="912.86" y1="2170.58" x2="910.40" y2="2167.64"/><line x1="910.31" y1="2172.90" x2="903.65" y2="2169.06"/><line x1="909.58" y1="2176.27" x2="905.80" y2="2175.60"/><line x1="909.58" y1="2179.60" x2="905.80" y2="2180.27"/><line x1="910.31" y1="2182.98" x2="903.65" y2="2186.82"/></g><path d="M914.57,2195.60 A4.61,4.61 0 1 1 917.20,2187.21 A8.16,8.16 0 1 1 932.70,2182.37 A7.34,7.34 0 1 1 937.08,2195.60 Z" fill="none" stroke="#1c130b" stroke-width="2.0" stroke-linejoin="round"/><path d="M927.92,2197.76 C924.32,2199.44 921.53,2201.84 921.53,2203.76 A3.26,3.26 0 0 0 928.06,2203.76 C928.06,2201.84 928.06,2199.44 927.92,2197.76 Z" fill="#1c130b"/>
<g stroke="#1c130b" stroke-width="2.0"><line x1="1046.19" y1="2194.83" x2="1052.84" y2="2190.99"/><line x1="1043.63" y1="2192.51" x2="1046.10" y2="2189.57"/><line x1="1040.74" y1="2190.84" x2="1042.05" y2="2187.24"/><line x1="1037.46" y1="2189.79" x2="1037.46" y2="2182.11"/><line x1="1034.17" y1="2190.84" x2="1032.86" y2="2187.24"/><line x1="1031.29" y1="2192.51" x2="1028.82" y2="2189.57"/><line x1="1028.73" y1="2194.83" x2="1022.08" y2="2190.99"/><line x1="1028.00" y1="2198.20" x2="1024.22" y2="2197.53"/><line x1="1028.00" y1="2201.53" x2="1024.22" y2="2202.20"/><line x1="1028.73" y1="2204.91" x2="1022.08" y2="2208.75"/></g><path d="M1032.99,2217.53 A4.61,4.61 0 1 1 1035.63,2209.14 A8.16,8.16 0 1 1 1051.12,2204.29 A7.34,7.34 0 1 1 1055.50,2217.53 Z" fill="none" stroke="#1c130b" stroke-width="2.0" stroke-linejoin="round"/><path d="M1046.34,2219.69 C1042.74,2221.37 1039.95,2223.77 1039.95,2225.69 A3.26,3.26 0 0 0 1046.48,2225.69 C1046.48,2223.77 1046.48,2221.37 1046.34,2219.69 Z" fill="#1c130b"/>
<g stroke="#1c130b" stroke-width="2.0"><line x1="1162.41" y1="2210.18" x2="1169.06" y2="2206.34"/><line x1="1159.85" y1="2207.86" x2="1162.32" y2="2204.92"/><line x1="1156.97" y1="2206.20" x2="1158.28" y2="2202.59"/><line x1="1153.68" y1="2205.14" x2="1153.68" y2="2197.46"/><line x1="1150.40" y1="2206.20" x2="1149.09" y2="2202.59"/><line x1="1147.51" y1="2207.86" x2="1145.05" y2="2204.92"/><line x1="1144.95" y1="2210.18" x2="1138.30" y2="2206.34"/><line x1="1144.23" y1="2213.55" x2="1140.45" y2="2212.88"/><line x1="1144.23" y1="2216.88" x2="1140.45" y2="2217.55"/><line x1="1144.95" y1="2220.26" x2="1138.30" y2="2224.10"/></g><path d="M1149.22,2232.88 A4.61,4.61 0 1 1 1151.85,2224.49 A8.16,8.16 0 1 1 1167.35,2219.65 A7.34,7.34 0 1 1 1171.73,2232.88 Z" fill="none" stroke="#1c130b" stroke-width="2.0" stroke-linejoin="round"/>
<g stroke="#1c130b" stroke-width="2.0"><line x1="1265.48" y1="2199.21" x2="1272.13" y2="2195.37"/><line x1="1262.93" y1="2196.90" x2="1265.39" y2="2193.96"/><line x1="1260.04" y1="2195.23" x2="1261.35" y2="2191.62"/><line x1="1256.75" y1="2194.17" x2="1256.75" y2="2186.49"/><line x1="1253.47" y1="2195.23" x2="1252.16" y2="2191.62"/><line x1="1250.58" y1="2196.90" x2="1248.12" y2="2193.96"/><line x1="1248.02" y1="2199.21" x2="1241.37" y2="2195.37"/><line x1="1247.30" y1="2202.58" x2="1243.52" y2="2201.92"/><line x1="1247.30" y1="2205.92" x2="1243.52" y2="2206.59"/><line x1="1248.02" y1="2209.29" x2="1241.37" y2="2213.13"/></g><path d="M1252.29,2221.92 A4.61,4.61 0 1 1 1254.92,2213.53 A8.16,8.16 0 1 1 1270.42,2208.68 A7.34,7.34 0 1 1 1274.80,2221.92 Z" fill="none" stroke="#1c130b" stroke-width="2.0" stroke-linejoin="round"/><path d="M1265.63,2224.08 C1262.03,2225.76 1259.25,2228.16 1259.25,2230.08 A3.26,3.26 0 0 0 1265.78,2230.08 C1265.78,2228.16 1265.78,2225.76 1265.63,2224.08 Z" fill="#1c130b"/>
<g stroke="#1c130b" stroke-width="2.0"><line x1="1320.31" y1="2225.53" x2="1326.96" y2="2221.69"/><line x1="1317.75" y1="2223.21" x2="1320.22" y2="2220.27"/><line x1="1314.86" y1="2221.55" x2="1316.18" y2="2217.94"/><line x1="1311.58" y1="2220.49" x2="1311.58" y2="2212.81"/><line x1="1308.30" y1="2221.55" x2="1306.98" y2="2217.94"/><line x1="1305.41" y1="2223.21" x2="1302.94" y2="2220.27"/><line x1="1302.85" y1="2225.53" x2="1296.20" y2="2221.69"/><line x1="1302.12" y1="2228.90" x2="1298.34" y2="2228.23"/><line x1="1302.12" y1="2232.23" x2="1298.34" y2="2232.90"/><line x1="1302.85" y1="2235.61" x2="1296.20" y2="2239.45"/></g><path d="M1307.11,2248.23 A4.61,4.61 0 1 1 1309.75,2239.84 A8.16,8.16 0 1 1 1325.24,2235.00 A7.34,7.34 0 1 1 1329.63,2248.23 Z" fill="none" stroke="#1c130b" stroke-width="2.0" stroke-linejoin="round"/>
<g stroke="#1c130b" stroke-width="2.0"><line x1="997.94" y1="2238.68" x2="1004.59" y2="2234.84"/><line x1="995.38" y1="2236.37" x2="997.85" y2="2233.43"/><line x1="992.49" y1="2234.70" x2="993.81" y2="2231.10"/><line x1="989.21" y1="2233.64" x2="989.21" y2="2225.96"/><line x1="985.93" y1="2234.70" x2="984.61" y2="2231.10"/><line x1="983.04" y1="2236.37" x2="980.57" y2="2233.43"/><line x1="980.48" y1="2238.68" x2="973.83" y2="2234.84"/><line x1="979.76" y1="2242.06" x2="975.97" y2="2241.39"/><line x1="979.76" y1="2245.39" x2="975.97" y2="2246.06"/><line x1="980.48" y1="2248.76" x2="973.83" y2="2252.60"/></g><path d="M984.75,2261.39 A4.61,4.61 0 1 1 987.38,2253.00 A8.16,8.16 0 1 1 1002.87,2248.15 A7.34,7.34 0 1 1 1007.26,2261.39 Z" fill="none" stroke="#1c130b" stroke-width="2.0" stroke-linejoin="round"/><path d="M998.09,2263.55 C994.49,2265.23 991.71,2267.63 991.71,2269.55 A3.26,3.26 0 0 0 998.23,2269.55 C998.23,2267.63 998.23,2265.23 998.09,2263.55 Z" fill="#1c130b"/>
<g stroke="#1c130b" stroke-width="2.0"><line x1="1094.43" y1="2260.61" x2="1101.08" y2="2256.77"/><line x1="1091.87" y1="2258.30" x2="1094.34" y2="2255.36"/><line x1="1088.99" y1="2256.63" x2="1090.30" y2="2253.03"/><line x1="1085.70" y1="2255.57" x2="1085.70" y2="2247.89"/><line x1="1082.42" y1="2256.63" x2="1081.11" y2="2253.03"/><line x1="1079.53" y1="2258.30" x2="1077.06" y2="2255.36"/><line x1="1076.97" y1="2260.61" x2="1070.32" y2="2256.77"/><line x1="1076.25" y1="2263.99" x2="1072.47" y2="2263.32"/><line x1="1076.25" y1="2267.32" x2="1072.47" y2="2267.99"/><line x1="1076.97" y1="2270.69" x2="1070.32" y2="2274.53"/></g><path d="M1081.24,2283.32 A4.61,4.61 0 1 1 1083.87,2274.93 A8.16,8.16 0 1 1 1099.36,2270.08 A7.34,7.34 0 1 1 1103.75,2283.32 Z" fill="none" stroke="#1c130b" stroke-width="2.0" stroke-linejoin="round"/>
<g stroke="#1c130b" stroke-width="2.0"><line x1="1212.85" y1="2258.42" x2="1219.50" y2="2254.58"/><line x1="1210.29" y1="2256.11" x2="1212.76" y2="2253.17"/><line x1="1207.41" y1="2254.44" x2="1208.72" y2="2250.83"/><line x1="1204.12" y1="2253.38" x2="1204.12" y2="2245.70"/><line x1="1200.84" y1="2254.44" x2="1199.53" y2="2250.83"/><line x1="1197.95" y1="2256.11" x2="1195.48" y2="2253.17"/><line x1="1195.39" y1="2258.42" x2="1188.74" y2="2254.58"/><line x1="1194.67" y1="2261.79" x2="1190.89" y2="2261.13"/><line x1="1194.67" y1="2265.13" x2="1190.89" y2="2265.80"/><line x1="1195.39" y1="2268.50" x2="1188.74" y2="2272.34"/></g><path d="M1199.66,2281.13 A4.61,4.61 0 1 1 1202.29,2272.74 A8.16,8.16 0 1 1 1217.78,2267.89 A7.34,7.34 0 1 1 1222.17,2281.13 Z" fill="none" stroke="#1c130b" stroke-width="2.0" stroke-linejoin="round"/>
<g stroke="#1c130b" stroke-width="2.0"><line x1="870.75" y1="2308.86" x2="877.40" y2="2305.02"/><line x1="868.19" y1="2306.55" x2="870.66" y2="2303.60"/><line x1="865.30" y1="2304.88" x2="866.61" y2="2301.27"/><line x1="862.02" y1="2303.82" x2="862.02" y2="2296.14"/><line x1="858.73" y1="2304.88" x2="857.42" y2="2301.27"/><line x1="855.85" y1="2306.55" x2="853.38" y2="2303.60"/><line x1="853.29" y1="2308.86" x2="846.64" y2="2305.02"/><line x1="852.56" y1="2312.23" x2="848.78" y2="2311.57"/><line x1="852.56" y1="2315.57" x2="848.78" y2="2316.23"/><line x1="853.29" y1="2318.94" x2="846.64" y2="2322.78"/></g><path d="M857.55,2331.56 A4.61,4.61 0 1 1 860.19,2323.17 A8.16,8.16 0 1 1 875.68,2318.33 A7.34,7.34 0 1 1 880.07,2331.56 Z" fill="none" stroke="#1c130b" stroke-width="2.0" stroke-linejoin="round"/><path d="M870.90,2333.72 C867.30,2335.40 864.51,2337.80 864.51,2339.72 A3.26,3.26 0 0 0 871.04,2339.72 C871.04,2337.80 871.04,2335.40 870.90,2333.72 Z" fill="#1c130b"/>
<g stroke="#1c130b" stroke-width="2.0"><line x1="960.66" y1="2297.90" x2="967.31" y2="2294.06"/><line x1="958.10" y1="2295.58" x2="960.57" y2="2292.64"/><line x1="955.21" y1="2293.91" x2="956.53" y2="2290.31"/><line x1="951.93" y1="2292.86" x2="951.93" y2="2285.18"/><line x1="948.65" y1="2293.91" x2="947.33" y2="2290.31"/><line x1="945.76" y1="2295.58" x2="943.29" y2="2292.64"/><line x1="943.20" y1="2297.90" x2="936.55" y2="2294.06"/><line x1="942.48" y1="2301.27" x2="938.69" y2="2300.60"/><line x1="942.48" y1="2304.60" x2="938.69" y2="2305.27"/><line x1="943.20" y1="2307.98" x2="936.55" y2="2311.82"/></g><path d="M947.47,2320.60 A4.61,4.61 0 1 1 950.10,2312.21 A8.16,8.16 0 1 1 965.59,2307.37 A7.34,7.34 0 1 1 969.98,2320.60 Z" fill="none" stroke="#1c130b" stroke-width="2.0" stroke-linejoin="round"/><path d="M960.81,2322.76 C957.21,2324.44 954.43,2326.84 954.43,2328.76 A3.26,3.26 0 0 0 960.95,2328.76 C960.95,2326.84 960.95,2324.44 960.81,2322.76 Z" fill="#1c130b"/>
<g stroke="#1c130b" stroke-width="2.0"><line x1="1280.83" y1="2304.47" x2="1287.49" y2="2300.63"/><line x1="1278.28" y1="2302.16" x2="1280.74" y2="2299.22"/><line x1="1275.39" y1="2300.49" x2="1276.70" y2="2296.88"/><line x1="1272.11" y1="2299.43" x2="1272.11" y2="2291.75"/><line x1="1268.82" y1="2300.49" x2="1267.51" y2="2296.88"/><line x1="1265.93" y1="2302.16" x2="1263.47" y2="2299.22"/><line x1="1263.38" y1="2304.47" x2="1256.72" y2="2300.63"/><line x1="1262.65" y1="2307.85" x2="1258.87" y2="2307.18"/><line x1="1262.65" y1="2311.18" x2="1258.87" y2="2311.85"/><line x1="1263.38" y1="2314.55" x2="1256.72" y2="2318.39"/></g><path d="M1267.64,2327.18 A4.61,4.61 0 1 1 1270.27,2318.79 A8.16,8.16 0 1 1 1285.77,2313.94 A7.34,7.34 0 1 1 1290.15,2327.18 Z" fill="none" stroke="#1c130b" stroke-width="2.0" stroke-linejoin="round"/>
<g stroke="#1c130b" stroke-width="2.0"><line x1="1076.89" y1="2337.37" x2="1083.54" y2="2333.53"/><line x1="1074.33" y1="2335.06" x2="1076.80" y2="2332.11"/><line x1="1071.44" y1="2333.39" x2="1072.75" y2="2329.78"/><line x1="1068.16" y1="2332.33" x2="1068.16" y2="2324.65"/><line x1="1064.87" y1="2333.39" x2="1063.56" y2="2329.78"/><line x1="1061.99" y1="2335.06" x2="1059.52" y2="2332.11"/><line x1="1059.43" y1="2337.37" x2="1052.78" y2="2333.53"/><line x1="1058.70" y1="2340.74" x2="1054.92" y2="2340.08"/><line x1="1058.70" y1="2344.08" x2="1054.92" y2="2344.74"/><line x1="1059.43" y1="2347.45" x2="1052.78" y2="2351.29"/></g><path d="M1063.69,2360.07 A4.61,4.61 0 1 1 1066.33,2351.68 A8.16,8.16 0 1 1 1081.82,2346.84 A7.34,7.34 0 1 1 1086.21,2360.07 Z" fill="none" stroke="#1c130b" stroke-width="2.0" stroke-linejoin="round"/><path d="M1077.04,2362.23 C1073.44,2363.91 1070.65,2366.31 1070.65,2368.23 A3.26,3.26 0 0 0 1077.18,2368.23 C1077.18,2366.31 1077.18,2363.91 1077.04,2362.23 Z" fill="#1c130b"/>
<g stroke="#1c130b" stroke-width="2.0"><line x1="951.89" y1="2363.68" x2="958.54" y2="2359.84"/><line x1="949.33" y1="2361.37" x2="951.80" y2="2358.43"/><line x1="946.44" y1="2359.70" x2="947.75" y2="2356.10"/><line x1="943.16" y1="2358.64" x2="943.16" y2="2350.96"/><line x1="939.87" y1="2359.70" x2="938.56" y2="2356.10"/><line x1="936.99" y1="2361.37" x2="934.52" y2="2358.43"/><line x1="934.43" y1="2363.68" x2="927.78" y2="2359.84"/><line x1="933.70" y1="2367.06" x2="929.92" y2="2366.39"/><line x1="933.70" y1="2370.39" x2="929.92" y2="2371.06"/><line x1="934.43" y1="2373.76" x2="927.78" y2="2377.60"/></g><path d="M938.69,2386.39 A4.61,4.61 0 1 1 941.33,2378.00 A8.16,8.16 0 1 1 956.82,2373.15 A7.34,7.34 0 1 1 961.21,2386.39 Z" fill="none" stroke="#1c130b" stroke-width="2.0" stroke-linejoin="round"/><path d="M952.04,2388.55 C948.44,2390.23 945.65,2392.63 945.65,2394.55 A3.26,3.26 0 0 0 952.18,2394.55 C952.18,2392.63 952.18,2390.23 952.04,2388.55 Z" fill="#1c130b"/>
<g stroke="#1c130b" stroke-width="2.0"><line x1="1144.87" y1="2341.76" x2="1151.52" y2="2337.92"/><line x1="1142.31" y1="2339.44" x2="1144.78" y2="2336.50"/><line x1="1139.42" y1="2337.77" x2="1140.74" y2="2334.17"/><line x1="1136.14" y1="2336.72" x2="1136.14" y2="2329.04"/><line x1="1132.86" y1="2337.77" x2="1131.54" y2="2334.17"/><line x1="1129.97" y1="2339.44" x2="1127.50" y2="2336.50"/><line x1="1127.41" y1="2341.76" x2="1120.76" y2="2337.92"/><line x1="1126.69" y1="2345.13" x2="1122.90" y2="2344.46"/><line x1="1126.69" y1="2348.46" x2="1122.90" y2="2349.13"/><line x1="1127.41" y1="2351.84" x2="1120.76" y2="2355.68"/></g><path d="M1131.68,2364.46 A4.61,4.61 0 1 1 1134.31,2356.07 A8.16,8.16 0 1 1 1149.80,2351.22 A7.34,7.34 0 1 1 1154.19,2364.46 Z" fill="none" stroke="#1c130b" stroke-width="2.0" stroke-linejoin="round"/>
<g stroke="#1c130b" stroke-width="2.0"><line x1="1230.40" y1="2363.68" x2="1237.05" y2="2359.84"/><line x1="1227.84" y1="2361.37" x2="1230.31" y2="2358.43"/><line x1="1224.95" y1="2359.70" x2="1226.26" y2="2356.10"/><line x1="1221.67" y1="2358.64" x2="1221.67" y2="2350.96"/><line x1="1218.38" y1="2359.70" x2="1217.07" y2="2356.10"/><line x1="1215.50" y1="2361.37" x2="1213.03" y2="2358.43"/><line x1="1212.94" y1="2363.68" x2="1206.29" y2="2359.84"/><line x1="1212.21" y1="2367.06" x2="1208.43" y2="2366.39"/><line x1="1212.21" y1="2370.39" x2="1208.43" y2="2371.06"/><line x1="1212.94" y1="2373.76" x2="1206.29" y2="2377.60"/></g><path d="M1217.20,2386.39 A4.61,4.61 0 1 1 1219.84,2378.00 A8.16,8.16 0 1 1 1235.33,2373.15 A7.34,7.34 0 1 1 1239.71,2386.39 Z" fill="none" stroke="#1c130b" stroke-width="2.0" stroke-linejoin="round"/>
<g stroke="#1c130b" stroke-width="2.0"><line x1="791.80" y1="2400.97" x2="798.45" y2="2397.13"/><line x1="789.24" y1="2398.65" x2="791.71" y2="2395.71"/><line x1="786.35" y1="2396.98" x2="787.67" y2="2393.38"/><line x1="783.07" y1="2395.93" x2="783.07" y2="2388.25"/><line x1="779.79" y1="2396.98" x2="778.47" y2="2393.38"/><line x1="776.90" y1="2398.65" x2="774.43" y2="2395.71"/><line x1="774.34" y1="2400.97" x2="767.69" y2="2397.13"/><line x1="773.62" y1="2404.34" x2="769.83" y2="2403.67"/><line x1="773.62" y1="2407.67" x2="769.83" y2="2408.34"/><line x1="774.34" y1="2411.05" x2="767.69" y2="2414.89"/></g><path d="M778.61,2423.67 A4.61,4.61 0 1 1 781.24,2415.28 A8.16,8.16 0 1 1 796.73,2410.44 A7.34,7.34 0 1 1 801.12,2423.67 Z" fill="none" stroke="#1c130b" stroke-width="2.0" stroke-linejoin="round"/><path d="M791.95,2425.83 C788.35,2427.51 785.57,2429.91 785.57,2431.83 A3.26,3.26 0 0 0 792.09,2431.83 C792.09,2429.91 792.09,2427.51 791.95,2425.83 Z" fill="#1c130b"/>
<g stroke="#1c130b" stroke-width="2.0"><line x1="883.90" y1="2411.93" x2="890.56" y2="2408.09"/><line x1="881.35" y1="2409.62" x2="883.81" y2="2406.67"/><line x1="878.46" y1="2407.95" x2="879.77" y2="2404.34"/><line x1="875.18" y1="2406.89" x2="875.18" y2="2399.21"/><line x1="871.89" y1="2407.95" x2="870.58" y2="2404.34"/><line x1="869.00" y1="2409.62" x2="866.54" y2="2406.67"/><line x1="866.45" y1="2411.93" x2="859.79" y2="2408.09"/><line x1="865.72" y1="2415.30" x2="861.94" y2="2414.64"/><line x1="865.72" y1="2418.64" x2="861.94" y2="2419.30"/><line x1="866.45" y1="2422.01" x2="859.79" y2="2425.85"/></g><path d="M870.71,2434.63 A4.61,4.61 0 1 1 873.34,2426.24 A8.16,8.16 0 1 1 888.84,2421.40 A7.34,7.34 0 1 1 893.22,2434.63 Z" fill="none" stroke="#1c130b" stroke-width="2.0" stroke-linejoin="round"/>
<g stroke="#1c130b" stroke-width="2.0"><line x1="1006.71" y1="2438.25" x2="1013.36" y2="2434.41"/><line x1="1004.15" y1="2435.93" x2="1006.62" y2="2432.99"/><line x1="1001.27" y1="2434.27" x2="1002.58" y2="2430.66"/><line x1="997.98" y1="2433.21" x2="997.98" y2="2425.53"/><line x1="994.70" y1="2434.27" x2="993.39" y2="2430.66"/><line x1="991.81" y1="2435.93" x2="989.34" y2="2432.99"/><line x1="989.25" y1="2438.25" x2="982.60" y2="2434.41"/><line x1="988.53" y1="2441.62" x2="984.75" y2="2440.95"/><line x1="988.53" y1="2444.95" x2="984.75" y2="2445.62"/><line x1="989.25" y1="2448.33" x2="982.60" y2="2452.17"/></g><path d="M993.52,2460.95 A4.61,4.61 0 1 1 996.15,2452.56 A8.16,8.16 0 1 1 1011.64,2447.72 A7.34,7.34 0 1 1 1016.03,2460.95 Z" fill="none" stroke="#1c130b" stroke-width="2.0" stroke-linejoin="round"/><path d="M1006.86,2463.11 C1003.26,2464.79 1000.48,2467.19 1000.48,2469.11 A3.26,3.26 0 0 0 1007.01,2469.11 C1007.01,2467.19 1007.01,2464.79 1006.86,2463.11 Z" fill="#1c130b"/>
<g stroke="#1c130b" stroke-width="2.0"><line x1="837.85" y1="2508.42" x2="844.50" y2="2504.58"/><line x1="835.29" y1="2506.11" x2="837.76" y2="2503.17"/><line x1="832.41" y1="2504.44" x2="833.72" y2="2500.83"/><line x1="829.12" y1="2503.38" x2="829.12" y2="2495.70"/><line x1="825.84" y1="2504.44" x2="824.53" y2="2500.83"/><line x1="822.95" y1="2506.11" x2="820.48" y2="2503.17"/><line x1="820.39" y1="2508.42" x2="813.74" y2="2504.58"/><line x1="819.67" y1="2511.79" x2="815.89" y2="2511.13"/><line x1="819.67" y1="2515.13" x2="815.89" y2="2515.80"/><line x1="820.39" y1="2518.50" x2="813.74" y2="2522.34"/></g><path d="M824.66,2531.13 A4.61,4.61 0 1 1 827.29,2522.74 A8.16,8.16 0 1 1 842.78,2517.89 A7.34,7.34 0 1 1 847.17,2531.13 Z" fill="none" stroke="#1c130b" stroke-width="2.0" stroke-linejoin="round"/>
<g stroke="#1c130b" stroke-width="2.0"><line x1="969.43" y1="2519.39" x2="976.08" y2="2515.55"/><line x1="966.87" y1="2517.07" x2="969.34" y2="2514.13"/><line x1="963.99" y1="2515.41" x2="965.30" y2="2511.80"/><line x1="960.70" y1="2514.35" x2="960.70" y2="2506.67"/><line x1="957.42" y1="2515.41" x2="956.11" y2="2511.80"/><line x1="954.53" y1="2517.07" x2="952.06" y2="2514.13"/><line x1="951.97" y1="2519.39" x2="945.32" y2="2515.55"/><line x1="951.25" y1="2522.76" x2="947.47" y2="2522.09"/><line x1="951.25" y1="2526.09" x2="947.47" y2="2526.76"/><line x1="951.97" y1="2529.47" x2="945.32" y2="2533.31"/></g><path d="M956.24,2542.09 A4.61,4.61 0 1 1 958.87,2533.70 A8.16,8.16 0 1 1 974.36,2528.86 A7.34,7.34 0 1 1 978.75,2542.09 Z" fill="none" stroke="#1c130b" stroke-width="2.0" stroke-linejoin="round"/>
<g stroke="#1c130b" stroke-width="2.0"><line x1="1138.29" y1="2405.35" x2="1144.94" y2="2401.51"/><line x1="1135.73" y1="2403.04" x2="1138.20" y2="2400.10"/><line x1="1132.84" y1="2401.37" x2="1134.16" y2="2397.76"/><line x1="1129.56" y1="2400.31" x2="1129.56" y2="2392.63"/><line x1="1126.28" y1="2401.37" x2="1124.96" y2="2397.76"/><line x1="1123.39" y1="2403.04" x2="1120.92" y2="2400.10"/><line x1="1120.83" y1="2405.35" x2="1114.18" y2="2401.51"/><line x1="1120.11" y1="2408.72" x2="1116.33" y2="2408.06"/><line x1="1120.11" y1="2412.06" x2="1116.33" y2="2412.73"/><line x1="1120.83" y1="2415.43" x2="1114.18" y2="2419.27"/></g><path d="M1125.10,2428.06 A4.61,4.61 0 1 1 1127.73,2419.67 A8.16,8.16 0 1 1 1143.22,2414.82 A7.34,7.34 0 1 1 1147.61,2428.06 Z" fill="none" stroke="#1c130b" stroke-width="2.0" stroke-linejoin="round"/><path d="M1137.24,2430.07 l-2.88,4.80 l2.88,0 l-2.88,5.76" fill="none" stroke="#1c130b" stroke-width="2.0"/>
<g stroke="#1c130b" stroke-width="2.0" stroke-linecap="butt"><line x1="1344.23" y1="1975.11" x2="1348.67" y2="1974.32"/><line x1="1341.75" y1="1972.59" x2="1349.11" y2="1968.34"/><line x1="1340.81" y1="1969.18" x2="1343.71" y2="1965.73"/><line x1="1337.81" y1="1967.45" x2="1339.35" y2="1963.22"/><line x1="1334.39" y1="1968.34" x2="1334.39" y2="1959.84"/><line x1="1330.97" y1="1967.45" x2="1329.43" y2="1963.22"/><line x1="1327.96" y1="1969.18" x2="1325.07" y2="1965.73"/><line x1="1327.02" y1="1972.59" x2="1319.66" y2="1968.34"/><line x1="1324.54" y1="1975.11" x2="1320.11" y2="1974.32"/><line x1="1324.54" y1="1978.58" x2="1320.11" y2="1979.36"/><line x1="1327.02" y1="1981.09" x2="1319.66" y2="1985.34"/><line x1="1327.96" y1="1984.50" x2="1325.07" y2="1987.95"/><line x1="1330.97" y1="1986.24" x2="1329.43" y2="1990.47"/><line x1="1334.39" y1="1985.34" x2="1334.39" y2="1993.84"/><line x1="1337.81" y1="1986.24" x2="1339.35" y2="1990.47"/><line x1="1340.81" y1="1984.50" x2="1343.71" y2="1987.95"/><line x1="1341.75" y1="1981.09" x2="1349.11" y2="1985.34"/><line x1="1344.23" y1="1978.58" x2="1348.67" y2="1979.36"/></g>
<g stroke="#1c130b" stroke-width="2.0" stroke-linecap="butt"><line x1="1338.97" y1="2382.12" x2="1343.40" y2="2381.34"/><line x1="1336.48" y1="2379.61" x2="1343.85" y2="2375.36"/><line x1="1335.55" y1="2376.20" x2="1338.44" y2="2372.75"/><line x1="1332.54" y1="2374.46" x2="1334.08" y2="2370.23"/><line x1="1329.12" y1="2375.36" x2="1329.12" y2="2366.86"/><line x1="1325.70" y1="2374.46" x2="1324.16" y2="2370.23"/><line x1="1322.69" y1="2376.20" x2="1319.80" y2="2372.75"/><line x1="1321.76" y1="2379.61" x2="1314.40" y2="2375.36"/><line x1="1319.27" y1="2382.12" x2="1314.84" y2="2381.34"/><line x1="1319.27" y1="2385.60" x2="1314.84" y2="2386.38"/><line x1="1321.76" y1="2388.11" x2="1314.40" y2="2392.36"/><line x1="1322.69" y1="2391.52" x2="1319.80" y2="2394.97"/><line x1="1325.70" y1="2393.26" x2="1324.16" y2="2397.49"/><line x1="1329.12" y1="2392.36" x2="1329.12" y2="2400.86"/><line x1="1332.54" y1="2393.26" x2="1334.08" y2="2397.49"/><line x1="1335.55" y1="2391.52" x2="1338.44" y2="2394.97"/><line x1="1336.48" y1="2388.11" x2="1343.85" y2="2392.36"/><line x1="1338.97" y1="2385.60" x2="1343.40" y2="2386.38"/></g>
<g stroke="#1c130b" stroke-width="2.0" stroke-linecap="butt"><line x1="1253.44" y1="2430.37" x2="1257.88" y2="2429.59"/><line x1="1250.96" y1="2427.86" x2="1258.32" y2="2423.61"/><line x1="1250.02" y1="2424.44" x2="1252.92" y2="2421.00"/><line x1="1247.02" y1="2422.71" x2="1248.56" y2="2418.48"/><line x1="1243.60" y1="2423.61" x2="1243.60" y2="2415.11"/><line x1="1240.18" y1="2422.71" x2="1238.64" y2="2418.48"/><line x1="1237.17" y1="2424.44" x2="1234.28" y2="2421.00"/><line x1="1236.24" y1="2427.86" x2="1228.87" y2="2423.61"/><line x1="1233.75" y1="2430.37" x2="1229.32" y2="2429.59"/><line x1="1233.75" y1="2433.84" x2="1229.32" y2="2434.62"/><line x1="1236.24" y1="2436.36" x2="1228.87" y2="2440.61"/><line x1="1237.17" y1="2439.77" x2="1234.28" y2="2443.21"/><line x1="1240.18" y1="2441.50" x2="1238.64" y2="2445.73"/><line x1="1243.60" y1="2440.61" x2="1243.60" y2="2449.11"/><line x1="1247.02" y1="2441.50" x2="1248.56" y2="2445.73"/><line x1="1250.02" y1="2439.77" x2="1252.92" y2="2443.21"/><line x1="1250.96" y1="2436.36" x2="1258.32" y2="2440.61"/><line x1="1253.44" y1="2433.84" x2="1257.88" y2="2434.62"/></g>
<g stroke="#1c130b" stroke-width="2.0" stroke-linecap="butt"><line x1="1093.36" y1="2535.63" x2="1097.79" y2="2534.85"/><line x1="1090.87" y1="2533.12" x2="1098.23" y2="2528.87"/><line x1="1089.94" y1="2529.71" x2="1092.83" y2="2526.26"/><line x1="1086.93" y1="2527.97" x2="1088.47" y2="2523.74"/><line x1="1083.51" y1="2528.87" x2="1083.51" y2="2520.37"/><line x1="1080.09" y1="2527.97" x2="1078.55" y2="2523.74"/><line x1="1077.08" y1="2529.71" x2="1074.19" y2="2526.26"/><line x1="1076.15" y1="2533.12" x2="1068.79" y2="2528.87"/><line x1="1073.66" y1="2535.63" x2="1069.23" y2="2534.85"/><line x1="1073.66" y1="2539.10" x2="1069.23" y2="2539.89"/><line x1="1076.15" y1="2541.62" x2="1068.79" y2="2545.87"/><line x1="1077.08" y1="2545.03" x2="1074.19" y2="2548.48"/><line x1="1080.09" y1="2546.77" x2="1078.55" y2="2550.99"/><line x1="1083.51" y1="2545.87" x2="1083.51" y2="2554.37"/><line x1="1086.93" y1="2546.77" x2="1088.47" y2="2550.99"/><line x1="1089.94" y1="2545.03" x2="1092.83" y2="2548.48"/><line x1="1090.87" y1="2541.62" x2="1098.23" y2="2545.87"/><line x1="1093.36" y1="2539.10" x2="1097.79" y2="2539.89"/></g>
<g stroke="#1c130b" stroke-width="2.0" stroke-linecap="butt"><line x1="1312.66" y1="2507.12" x2="1317.09" y2="2506.34"/><line x1="1310.17" y1="2504.61" x2="1317.53" y2="2500.36"/><line x1="1309.23" y1="2501.20" x2="1312.13" y2="2497.75"/><line x1="1306.23" y1="2499.46" x2="1307.77" y2="2495.23"/><line x1="1302.81" y1="2500.36" x2="1302.81" y2="2491.86"/><line x1="1299.39" y1="2499.46" x2="1297.85" y2="2495.23"/><line x1="1296.38" y1="2501.20" x2="1293.49" y2="2497.75"/><line x1="1295.45" y1="2504.61" x2="1288.08" y2="2500.36"/><line x1="1292.96" y1="2507.12" x2="1288.53" y2="2506.34"/><line x1="1292.96" y1="2510.60" x2="1288.53" y2="2511.38"/><line x1="1295.45" y1="2513.11" x2="1288.08" y2="2517.36"/><line x1="1296.38" y1="2516.52" x2="1293.49" y2="2519.97"/><line x1="1299.39" y1="2518.26" x2="1297.85" y2="2522.49"/><line x1="1302.81" y1="2517.36" x2="1302.81" y2="2525.86"/><line x1="1306.23" y1="2518.26" x2="1307.77" y2="2522.49"/><line x1="1309.23" y1="2516.52" x2="1312.13" y2="2519.97"/><line x1="1310.17" y1="2513.11" x2="1317.53" y2="2517.36"/><line x1="1312.66" y1="2510.60" x2="1317.09" y2="2511.38"/></g>
</g>
</svg>
<div class="t" style="top:2546.82px;font-size:15.5px;line-height:15.5px;color:#3a3633;left:1136.10px;transform:scaleX(0.885);transform-origin:left top;">Verwachte weersituatie voor morgen</div>
<div class="t" style="top:1982.28px;font-size:21px;line-height:21px;color:#2b2623;left:810.70px;transform:translateX(-50%) scaleX(0.9);transform-origin:center top;">10</div>
<div class="t" style="top:2013.86px;font-size:21px;line-height:21px;color:#2b2623;left:1070.35px;transform:translateX(-50%) scaleX(0.9);transform-origin:center top;">14</div>
<div class="t" style="top:1912.98px;font-size:21px;line-height:21px;color:#2b2623;left:1134.82px;transform:translateX(-50%) scaleX(0.9);transform-origin:center top;">9</div>
<div class="t" style="top:1956.84px;font-size:21px;line-height:21px;color:#2b2623;left:1157.19px;transform:translateX(-50%) scaleX(0.9);transform-origin:center top;">7</div>
<div class="t" style="top:1954.65px;font-size:21px;line-height:21px;color:#2b2623;left:1297.54px;transform:translateX(-50%) scaleX(0.9);transform-origin:center top;">9</div>
<div class="t" style="top:2078.77px;font-size:21px;line-height:21px;color:#2b2623;left:1050.61px;transform:translateX(-50%) scaleX(0.9);transform-origin:center top;">13</div>
<div class="t" style="top:2080.53px;font-size:21px;line-height:21px;color:#2b2623;left:1110.70px;transform:translateX(-50%) scaleX(0.9);transform-origin:center top;">11</div>
<div class="t" style="top:2035.79px;font-size:21px;line-height:21px;color:#2b2623;left:1190.96px;transform:translateX(-50%) scaleX(0.9);transform-origin:center top;">7</div>
<div class="t" style="top:2053.33px;font-size:21px;line-height:21px;color:#2b2623;left:1244.47px;transform:translateX(-50%) scaleX(0.9);transform-origin:center top;">5</div>
<div class="t" style="top:2070.00px;font-size:21px;line-height:21px;color:#2b2623;left:1329.12px;transform:translateX(-50%) scaleX(0.9);transform-origin:center top;">11</div>
<div class="t" style="top:2152.02px;font-size:21px;line-height:21px;color:#2b2623;left:1072.54px;transform:translateX(-50%) scaleX(0.9);transform-origin:center top;">13</div>
<div class="t" style="top:2120.00px;font-size:21px;line-height:21px;color:#2b2623;left:1200.61px;transform:translateX(-50%) scaleX(0.9);transform-origin:center top;">13</div>
<div class="t" style="top:2148.95px;font-size:21px;line-height:21px;color:#2b2623;left:1254.56px;transform:translateX(-50%) scaleX(0.9);transform-origin:center top;">11</div>
<div class="t" style="top:2182.72px;font-size:21px;line-height:21px;color:#2b2623;left:874.30px;transform:translateX(-50%) scaleX(0.9);transform-origin:center top;">16</div>
<div class="t" style="top:2215.61px;font-size:21px;line-height:21px;color:#2b2623;left:939.65px;transform:translateX(-50%) scaleX(0.9);transform-origin:center top;">17</div>
<div class="t" style="top:2192.81px;font-size:21px;line-height:21px;color:#2b2623;left:1087.02px;transform:translateX(-50%) scaleX(0.9);transform-origin:center top;">14</div>
<div class="t" style="top:2192.81px;font-size:21px;line-height:21px;color:#2b2623;left:1180.00px;transform:translateX(-50%) scaleX(0.9);transform-origin:center top;">15</div>
<div class="t" style="top:2187.11px;font-size:21px;line-height:21px;color:#2b2623;left:1300.61px;transform:translateX(-50%) scaleX(0.9);transform-origin:center top;">19</div>
<div class="t" style="top:2244.12px;font-size:21px;line-height:21px;color:#2b2623;left:1046.23px;transform:translateX(-50%) scaleX(0.9);transform-origin:center top;">14</div>
<div class="t" style="top:2244.12px;font-size:21px;line-height:21px;color:#2b2623;left:1109.82px;transform:translateX(-50%) scaleX(0.9);transform-origin:center top;">13</div>
<div class="t" style="top:2250.70px;font-size:21px;line-height:21px;color:#2b2623;left:1173.42px;transform:translateX(-50%) scaleX(0.9);transform-origin:center top;">15</div>
<div class="t" style="top:2270.44px;font-size:21px;line-height:21px;color:#2b2623;left:910.26px;transform:translateX(-50%) scaleX(0.9);transform-origin:center top;">16</div>
<div class="t" style="top:2263.86px;font-size:21px;line-height:21px;color:#2b2623;left:964.21px;transform:translateX(-50%) scaleX(0.9);transform-origin:center top;">16</div>
<div class="t" style="top:2279.21px;font-size:21px;line-height:21px;color:#2b2623;left:1164.65px;transform:translateX(-50%) scaleX(0.9);transform-origin:center top;">19</div>
<div class="t" style="top:2261.67px;font-size:21px;line-height:21px;color:#2b2623;left:1285.26px;transform:translateX(-50%) scaleX(0.9);transform-origin:center top;">25</div>
<div class="t" style="top:2266.05px;font-size:21px;line-height:21px;color:#2b2623;left:1344.47px;transform:translateX(-50%) scaleX(0.9);transform-origin:center top;">22</div>
<div class="t" style="top:2292.37px;font-size:21px;line-height:21px;color:#2b2623;left:1033.07px;transform:translateX(-50%) scaleX(0.9);transform-origin:center top;">11</div>
<div class="t" style="top:2279.21px;font-size:21px;line-height:21px;color:#2b2623;left:1249.30px;transform:translateX(-50%) scaleX(0.9);transform-origin:center top;">29</div>
<div class="t" style="top:2336.23px;font-size:21px;line-height:21px;color:#2b2623;left:930.00px;transform:translateX(-50%) scaleX(0.9);transform-origin:center top;">14</div>
<div class="t" style="top:2342.81px;font-size:21px;line-height:21px;color:#2b2623;left:982.63px;transform:translateX(-50%) scaleX(0.9);transform-origin:center top;">22</div>
<div class="t" style="top:2327.46px;font-size:21px;line-height:21px;color:#2b2623;left:1199.74px;transform:translateX(-50%) scaleX(0.9);transform-origin:center top;">25</div>
<div class="t" style="top:2331.84px;font-size:21px;line-height:21px;color:#2b2623;left:1269.91px;transform:translateX(-50%) scaleX(0.9);transform-origin:center top;">24</div>
<div class="t" style="top:2366.93px;font-size:21px;line-height:21px;color:#2b2623;left:816.84px;transform:translateX(-50%) scaleX(0.9);transform-origin:center top;">20</div>
<div class="t" style="top:2397.63px;font-size:21px;line-height:21px;color:#2b2623;left:913.77px;transform:translateX(-50%) scaleX(0.9);transform-origin:center top;">23</div>
<div class="t" style="top:2383.16px;font-size:21px;line-height:21px;color:#2b2623;left:1085.70px;transform:translateX(-50%) scaleX(0.9);transform-origin:center top;">24</div>
<div class="t" style="top:2359.04px;font-size:21px;line-height:21px;color:#2b2623;left:1298.42px;transform:translateX(-50%) scaleX(0.9);transform-origin:center top;">27</div>
<div class="t" style="top:2430.53px;font-size:21px;line-height:21px;color:#2b2623;left:841.40px;transform:translateX(-50%) scaleX(0.9);transform-origin:center top;">28</div>
<div class="t" style="top:2425.26px;font-size:21px;line-height:21px;color:#2b2623;left:964.21px;transform:translateX(-50%) scaleX(0.9);transform-origin:center top;">26</div>
<div class="t" style="top:2398.51px;font-size:21px;line-height:21px;color:#2b2623;left:1204.12px;transform:translateX(-50%) scaleX(0.9);transform-origin:center top;">30</div>
<div class="t" style="top:2408.60px;font-size:21px;line-height:21px;color:#2b2623;left:1348.86px;transform:translateX(-50%) scaleX(0.9);transform-origin:center top;">30</div>
<div class="t" style="top:2448.95px;font-size:21px;line-height:21px;color:#2b2623;left:1108.95px;transform:translateX(-50%) scaleX(0.9);transform-origin:center top;">27</div>
<div class="t" style="top:2477.90px;font-size:21px;line-height:21px;color:#2b2623;left:958.51px;transform:translateX(-50%) scaleX(0.9);transform-origin:center top;">28</div>
<div class="t" style="top:2478.77px;font-size:21px;line-height:21px;color:#2b2623;left:1059.39px;transform:translateX(-50%) scaleX(0.9);transform-origin:center top;">29</div>
<div class="t" style="top:2513.86px;font-size:21px;line-height:21px;color:#2b2623;left:793.16px;transform:translateX(-50%) scaleX(0.9);transform-origin:center top;">21</div>
<div class="t" style="top:2509.47px;font-size:21px;line-height:21px;color:#2b2623;left:1256.75px;transform:translateX(-50%) scaleX(0.9);transform-origin:center top;">37</div>
<div class="t" style="top:2524.83px;font-size:21px;line-height:21px;color:#2b2623;left:1150.18px;transform:translateX(-50%) scaleX(0.9);transform-origin:center top;">34</div>
<div class="t" style="top:2192.99px;font-size:23px;line-height:23px;font-weight:700;left:1324.74px;transform:translateX(-50%);transform-origin:center top;">H</div>
<div class="t" style="top:2475.88px;font-size:23px;line-height:23px;font-weight:700;left:1226.05px;transform:translateX(-50%);transform-origin:center top;">H</div>
<div class="t" style="top:2017.55px;font-size:23px;line-height:23px;font-weight:700;left:750.18px;transform:translateX(-50%);transform-origin:center top;">L</div>
<div class="t" style="top:1921.06px;font-size:23px;line-height:23px;font-weight:700;left:942.28px;transform:translateX(-50%);transform-origin:center top;">L</div>
<div class="t" style="top:2098.69px;font-size:23px;line-height:23px;font-weight:700;left:1200.61px;transform:translateX(-50%);transform-origin:center top;">L</div>
<div class="t" style="top:2243.42px;font-size:23px;line-height:23px;font-weight:700;left:980.44px;transform:translateX(-50%);transform-origin:center top;">L</div>
<div class="t" style="top:2342.11px;font-size:23px;line-height:23px;font-weight:700;left:1037.46px;transform:translateX(-50%);transform-origin:center top;">L</div>
<div class="t" style="top:2049.74px;font-size:13px;line-height:13px;left:743.60px;transform:translateX(-50%);transform-origin:center top;transform:translateX(-50%) rotate(8deg);">985</div>
<div class="t" style="top:2070.79px;font-size:13px;line-height:13px;left:734.82px;transform:translateX(-50%);transform-origin:center top;transform:translateX(-50%) rotate(8deg);">990</div>
<div class="t" style="top:2092.72px;font-size:13px;line-height:13px;left:726.05px;transform:translateX(-50%);transform-origin:center top;transform:translateX(-50%) rotate(10deg);">995</div>
<div class="t" style="top:2128.69px;font-size:13px;line-height:13px;left:840.09px;transform:translateX(-50%);transform-origin:center top;transform:translateX(-50%) rotate(-35deg);">1000</div>
<div class="t" style="top:2162.02px;font-size:13px;line-height:13px;left:710.70px;transform:translateX(-50%);transform-origin:center top;transform:translateX(-50%) rotate(0deg);">1005</div>
<div class="t" style="top:2193.60px;font-size:13px;line-height:13px;left:704.12px;transform:translateX(-50%);transform-origin:center top;transform:translateX(-50%) rotate(0deg);">1010</div>
<div class="t" style="top:2236.58px;font-size:13px;line-height:13px;left:699.74px;transform:translateX(-50%);transform-origin:center top;transform:translateX(-50%) rotate(0deg);">1015</div>
<div class="t" style="top:2272.55px;font-size:13px;line-height:13px;left:697.54px;transform:translateX(-50%);transform-origin:center top;transform:translateX(-50%) rotate(15deg);">020</div>
<div class="t" style="top:1914.21px;font-size:13px;line-height:13px;left:1330.00px;transform:translateX(-50%);transform-origin:center top;transform:translateX(-50%) rotate(10deg);">1025</div>
<div class="t" style="top:1944.48px;font-size:13px;line-height:13px;left:1311.58px;transform:translateX(-50%);transform-origin:center top;transform:translateX(-50%) rotate(5deg);">1020</div>
<div class="t" style="top:1980.00px;font-size:13px;line-height:13px;left:1291.84px;transform:translateX(-50%);transform-origin:center top;transform:translateX(-50%) rotate(0deg);">1015</div>
<div class="t" style="top:2002.81px;font-size:13px;line-height:13px;left:1283.07px;transform:translateX(-50%);transform-origin:center top;transform:translateX(-50%) rotate(0deg);">1010</div>
<div class="t" style="top:2047.99px;font-size:13px;line-height:13px;left:1195.35px;transform:translateX(-50%);transform-origin:center top;transform:translateX(-50%) rotate(0deg);">1005</div>
<div class="t" style="top:2381.32px;font-size:13px;line-height:13px;left:1024.30px;transform:translateX(-50%);transform-origin:center top;transform:translateX(-50%) rotate(0deg);">1000</div>
</body></html>
